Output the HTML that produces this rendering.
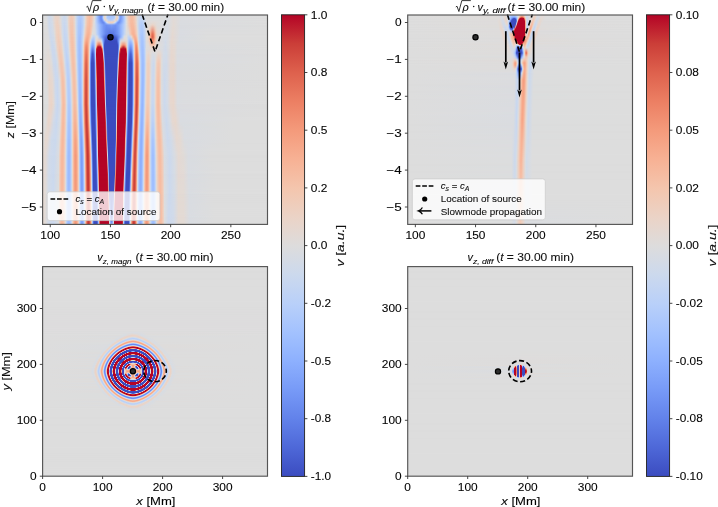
<!DOCTYPE html>
<html><head><meta charset="utf-8"><title>Slow-mode wave figure</title>
<style>
html,body{margin:0;padding:0;background:#fff;}
#fig{position:relative;width:718px;height:507px;overflow:hidden;background:#fff;}
.b{position:absolute;}
.b i{position:absolute;left:0;top:0;width:100%;height:100%;-webkit-mask-image:linear-gradient(transparent,#000);mask-image:linear-gradient(transparent,#000);}
#fig{--g0:linear-gradient(90deg,#ddd 0.5px,#d9dce1 3.5px,#cfdaea 6.5px,#dadce0 9.5px,#ead4c9 12.5px,#e8d6cb 15.5px,#d5dbe5 18.5px,#cdd9ed 21.5px,#d5dbe6 23.5px,#ddd 24.5px,#eed0c0 26.5px,#f2cbb7 28.5px,#edd1c2 30.5px,#e7d7ce 31.5px,#d8dce2 32.5px,#bed3f6 34.5px,#b1cbfc 36.5px,#b4cdfb 38.5px,#c6d6f2 40.5px,#d4dbe7 41.5px,#e6d8d0 42.5px,#f4c6af 44.5px,#f6bda3 46.5px,#f5c4ac 48.5px,#e9d5c9 50.5px,#ddd 51.5px,#d3dbe7 52.5px,#bad0f8 53.5px,#8db0fe 55.5px,#6b8df1 57.5px,#6789ee 58.5px,#7ea1fa 59.5px,#b4cdfa 60.5px,#dfdbd9 61.5px,#e2dad6 62.5px,#c8d7f0 63.5px,#acc8fd 64.5px,#a1c0ff 65.5px,#a1c0ff 69.5px,#a6c4fe 70.5px,#b6cefa 71.5px,#d4dbe6 72.5px,#ead4c9 73.5px,#e1dad6 74.5px,#b4cdfa 75.5px,#84a7fc 76.5px,#7598f6 77.5px,#7ea1fa 78.5px,#a5c3fe 80.5px,#bcd2f7 81.5px,#d6dce4 82.5px,#e1dbd7 83.5px,#f2cab6 85.5px,#f6bfa5 87.5px,#f6bea5 89.5px,#f2cab5 91.5px,#e2dad5 93.5px,#d8dce2 94.5px,#ccd9ed 98.5px,#d9dce1 102.5px,#dddcdc 107.5px,#dadce0 121.5px,#dbdcdf 126.5px,#e0dbd8 131.5px,#dadcdf 138.5px,#ddd 223.5px);
--g1:linear-gradient(90deg,#ddd 0.5px,#dbdcdf 3.5px,#ced9eb 6.5px,#d8dce2 9.5px,#ead4c8 12.5px,#ead4c9 15.5px,#d6dce4 18.5px,#cbd8ee 21.5px,#d3dbe7 23.5px,#dbdcde 24.5px,#efcfbe 26.5px,#f3c8b3 28.5px,#eecfbf 30.5px,#e8d6cc 31.5px,#d8dce1 32.5px,#bcd2f7 34.5px,#aec9fc 36.5px,#b1cbfb 38.5px,#c5d6f2 40.5px,#d3dbe7 41.5px,#e7d7cf 42.5px,#f4c5ae 44.5px,#f6bca1 46.5px,#f5c3ac 48.5px,#e9d5cb 50.5px,#ddd 51.5px,#b4cdfb 53.5px,#8caefd 55.5px,#6e90f2 57.5px,#6f92f3 58.5px,#90b3fe 59.5px,#cbd8ee 60.5px,#ead4c8 61.5px,#e2dad6 62.5px,#c3d5f3 63.5px,#aecafc 64.5px,#abc7fd 66.5px,#aec9fc 70.5px,#b6cefa 71.5px,#cfdaeb 72.5px,#ebd3c6 73.5px,#edd1c2 74.5px,#cad8ef 75.5px,#93b5fe 76.5px,#7b9ef8 77.5px,#7fa2fa 78.5px,#a1c0ff 80.5px,#b6cefa 81.5px,#cdd9ec 82.5px,#e0dbd9 83.5px,#f2cab6 85.5px,#f6bea4 87.5px,#f6bda3 89.5px,#f3c8b3 91.5px,#e4d9d2 93.5px,#d6dce4 94.5px,#c5d6f2 97.5px,#c9d8ef 100.5px,#ddd 103.5px,#dcddde 120.5px,#d9dce1 125.5px,#e1dad6 130.5px,#dadce0 138.5px,#ddd 223.5px);
--g2:linear-gradient(90deg,#ddd 0.5px,#ddd 3.5px,#d0daea 5.5px,#d1dae9 8.5px,#e7d7ce 11.5px,#ecd2c4 14.5px,#e1dbd7 17.5px,#cfdaea 19.5px,#cdd9ed 22.5px,#dbdcdf 24.5px,#e9d5cb 25.5px,#f2c9b4 27.5px,#f2c9b4 29.5px,#e9d5cb 31.5px,#d9dce1 32.5px,#c8d7f0 33.5px,#b1cbfb 35.5px,#abc7fd 37.5px,#b8cff9 39.5px,#d4dbe7 41.5px,#e7d7cd 42.5px,#f5c4ac 44.5px,#f7bba0 46.5px,#f5c3ac 48.5px,#e8d6cd 50.5px,#ddd 51.5px,#c8d7f0 52.5px,#a0bfff 54.5px,#7193f3 57.5px,#6a8cf0 58.5px,#779af7 59.5px,#a3c1ff 60.5px,#d7dce4 61.5px,#ecd3c5 62.5px,#e5d8d1 63.5px,#cfdaeb 64.5px,#bcd2f7 65.5px,#b1cbfb 67.5px,#b7cff9 69.5px,#c3d5f4 70.5px,#d7dce3 71.5px,#ecd3c5 72.5px,#eecfbf 73.5px,#d5dbe5 74.5px,#a2c1ff 75.5px,#7da1f9 76.5px,#779af7 77.5px,#90b3fe 79.5px,#b5cefa 81.5px,#cad8ef 82.5px,#dddcdc 83.5px,#ebd4c7 84.5px,#f5c3ab 86.5px,#f7bba0 88.5px,#f5c0a7 90.5px,#efcfbf 92.5px,#d6dce4 94.5px,#c0d4f5 97.5px,#c5d6f2 100.5px,#dddcdd 103.5px,#ddd 119.5px,#d7dce3 124.5px,#e2dad6 130.5px,#dadce0 138.5px,#ddd 223.5px);
--g3:linear-gradient(90deg,#ddd 0.5px,#ddd 3.5px,#cdd9ec 6.5px,#d6dce5 9.5px,#ebd4c7 12.5px,#edd1c2 14.5px,#e2dad5 17.5px,#cfdaea 19.5px,#c9d8ef 21.5px,#d1dae9 23.5px,#dadce0 24.5px,#e9d5cb 25.5px,#f3c8b2 27.5px,#f3c7b2 29.5px,#e9d5ca 31.5px,#d9dce1 32.5px,#c8d7f0 33.5px,#b0cafc 35.5px,#aac6fd 37.5px,#b7cff9 39.5px,#d4dbe6 41.5px,#e8d6cc 42.5px,#f5c2aa 44.5px,#f7ba9f 46.5px,#f5c4ac 48.5px,#ddd 51.5px,#c7d7f1 52.5px,#a4c2fe 54.5px,#789bf7 57.5px,#6789ee 59.5px,#6e90f2 60.5px,#88abfd 61.5px,#b3cdfb 62.5px,#d8dce2 63.5px,#ead5c9 64.5px,#edd1c2 65.5px,#ebd4c7 68.5px,#eecfbf 70.5px,#ead4c8 71.5px,#d7dce3 72.5px,#b1cbfb 73.5px,#89acfd 74.5px,#7497f5 75.5px,#7294f4 76.5px,#87aafc 78.5px,#a6c4fe 80.5px,#c9d8ef 82.5px,#ddd 83.5px,#f1ccb9 85.5px,#f6bda3 87.5px,#f7bba0 89.5px,#f4c6af 91.5px,#e7d7ce 93.5px,#d6dce4 94.5px,#c1d4f5 96.5px,#b9d0f9 98.5px,#c0d4f5 100.5px,#dddcdc 103.5px,#e2dad6 110.5px,#d8dce2 121.5px,#d9dce1 125.5px,#e2dad5 130.5px,#dadce0 137.5px,#ddd 223.5px);
--g4:linear-gradient(90deg,#ddd 0.5px,#ddd 3.5px,#cdd9ec 6.5px,#d5dbe5 9.5px,#ebd4c7 12.5px,#edd1c2 14.5px,#e2dad5 17.5px,#cfdaea 19.5px,#c9d8ef 21.5px,#d1dae9 23.5px,#dadce0 24.5px,#e9d5cb 25.5px,#f3c7b2 27.5px,#f3c7b1 29.5px,#e9d5c9 31.5px,#d9dce1 32.5px,#c8d7f0 33.5px,#afcafc 35.5px,#a9c6fd 37.5px,#b7cff9 39.5px,#d4dbe6 41.5px,#e8d6cb 42.5px,#f5c2aa 44.5px,#f7ba9f 46.5px,#f5c4ac 48.5px,#e5d8d0 50.5px,#dcdddd 51.5px,#c8d7f0 52.5px,#a6c4fe 54.5px,#7b9ff9 57.5px,#698bef 59.5px,#6a8bef 60.5px,#799cf8 61.5px,#9abbff 62.5px,#c1d4f5 63.5px,#dcdddd 64.5px,#e9d5c9 65.5px,#eecfbf 67.5px,#eed0c0 69.5px,#ead5c9 70.5px,#dbdcdf 71.5px,#bed3f6 72.5px,#99baff 73.5px,#7c9ff9 74.5px,#7194f4 75.5px,#7497f5 76.5px,#98b9ff 79.5px,#b8d0f9 81.5px,#cad8ef 82.5px,#ddd 83.5px,#f1ccb9 85.5px,#f6bda3 87.5px,#f7bb9f 89.5px,#f4c5ae 91.5px,#e7d7ce 93.5px,#d6dce4 94.5px,#c0d4f5 96.5px,#b8cff9 98.5px,#bfd3f5 100.5px,#dddcdc 103.5px,#e3dad4 110.5px,#ddd 117.5px,#d7dce3 124.5px,#e2dad5 130.5px,#dadce0 137.5px,#ddd 223.5px);
--g5:linear-gradient(90deg,#ddd 0.5px,#ddd 3.5px,#cdd9ec 6.5px,#d5dbe5 9.5px,#ebd4c7 12.5px,#edd1c2 14.5px,#e3dad4 17.5px,#cfdaea 19.5px,#c9d7f0 21.5px,#d1dae9 23.5px,#d9dce0 24.5px,#e9d6cb 25.5px,#f3c7b2 27.5px,#f3c7b1 29.5px,#ead5c9 31.5px,#d9dce1 32.5px,#c7d7f0 33.5px,#afcafc 35.5px,#a9c6fd 37.5px,#b7cffa 39.5px,#d5dbe6 41.5px,#e9d5cb 42.5px,#f5c2a9 44.5px,#f7ba9e 46.5px,#f5c4ac 48.5px,#e5d8d1 50.5px,#dcdcde 51.5px,#c8d7f0 52.5px,#a8c5fe 54.5px,#80a3fa 57.5px,#6c8ff1 59.5px,#698bef 60.5px,#7092f3 61.5px,#84a7fc 62.5px,#a4c3fe 63.5px,#c4d5f3 64.5px,#d9dce1 65.5px,#e4d9d3 66.5px,#e8d6cc 68.5px,#e4d9d3 69.5px,#d8dce2 70.5px,#c2d5f4 71.5px,#a3c1ff 72.5px,#85a8fc 73.5px,#7497f5 74.5px,#7194f4 75.5px,#81a5fb 77.5px,#aac7fd 80.5px,#cad8ef 82.5px,#ddd 83.5px,#f1ccba 85.5px,#f6bda3 87.5px,#f7ba9f 89.5px,#f4c5ae 91.5px,#e7d7cd 93.5px,#d6dce4 94.5px,#bfd3f5 96.5px,#b7cffa 98.5px,#bed3f6 100.5px,#dddcdc 103.5px,#e4d9d3 110.5px,#dddcdd 116.5px,#d8dce2 121.5px,#d9dce1 125.5px,#e2dad5 130.5px,#dadce0 137.5px,#ddd 223.5px);
--g6:linear-gradient(90deg,#ddd 0.5px,#ddd 3.5px,#cdd9ec 6.5px,#d4dbe7 9.5px,#e5d8d1 11.5px,#edd1c2 13.5px,#edd2c3 15.5px,#e4d9d3 17.5px,#d0daea 19.5px,#c8d7f0 21.5px,#d0daea 23.5px,#d9dce1 24.5px,#e8d6cc 25.5px,#f3c7b1 27.5px,#f4c6b0 29.5px,#ead4c8 31.5px,#dadce0 32.5px,#c7d7f1 33.5px,#aec9fc 35.5px,#a8c5fe 37.5px,#b6cefa 39.5px,#c4d6f3 40.5px,#d5dce5 41.5px,#ead5c9 42.5px,#f6c0a7 44.5px,#f7b99d 46.5px,#f4c5ad 48.5px,#efcfbe 49.5px,#e2dad6 50.5px,#dbdcdf 51.5px,#bed2f6 53.5px,#99baff 56.5px,#7699f6 60.5px,#6c8ef1 63.5px,#7a9df8 68.5px,#7092f3 72.5px,#7ea2fa 75.5px,#a6c4fe 79.5px,#cdd9ed 82.5px,#ddd 83.5px,#f4c4ad 86.5px,#f7b99e 88.5px,#f6bca2 90.5px,#f1ccb9 92.5px,#e9d5cb 93.5px,#d7dce3 94.5px,#bdd2f7 96.5px,#b3ccfb 98.5px,#bbd1f8 100.5px,#dddcdc 103.5px,#e2dad5 106.5px,#ebd3c6 109.5px,#dedcdb 114.5px,#dadce0 120.5px,#d7dce3 124.5px,#e3dad4 130.5px,#d9dce0 137.5px,#ddd 223.5px);
--g7:linear-gradient(90deg,#dddcdc 0.5px,#dddcdc 4.5px,#ccd9ed 7.5px,#d4dbe6 10.5px,#dddcdc 11.5px,#edd2c3 13.5px,#f0cebc 15.5px,#ead5c9 17.5px,#d4dbe7 19.5px,#c5d6f2 21.5px,#cad8ef 23.5px,#d3dbe7 24.5px,#e3d9d4 25.5px,#f3c7b2 27.5px,#f5c3ab 28.5px,#f5c4ac 29.5px,#ecd2c4 31.5px,#dedcda 32.5px,#c7d7f1 33.5px,#aac7fd 35.5px,#a5c3fe 37.5px,#bbd1f8 39.5px,#ced9ec 40.5px,#e7d7ce 41.5px,#f2c9b4 42.5px,#f6bca2 43.5px,#f7b497 44.5px,#f7b295 45.5px,#f7b79b 46.5px,#f5c2aa 47.5px,#eed0c0 48.5px,#dcdddd 49.5px,#dbdcde 51.5px,#d4dbe6 52.5px,#b6cefa 54.5px,#90b2fe 57.5px,#6586ec 62.5px,#5775e1 66.5px,#5c7ae5 70.5px,#7294f4 74.5px,#9abbff 78.5px,#c3d5f3 81.5px,#ddd 83.5px,#dbdcde 85.5px,#f3c8b3 87.5px,#f6bca2 88.5px,#f7b497 89.5px,#f7b295 90.5px,#f7b69a 91.5px,#f1ccba 93.5px,#e3dad4 94.5px,#ccd9ee 95.5px,#b0cbfc 97.5px,#abc8fd 99.5px,#c0d3f5 101.5px,#dedcdb 103.5px,#e2dad6 104.5px,#ead5c9 105.5px,#f4c6b0 106.5px,#f7a98a 107.5px,#ee8467 108.5px,#e57058 109.5px,#eb7e62 110.5px,#f6a183 111.5px,#f5c1a9 112.5px,#ecd3c5 113.5px,#e3d9d4 114.5px,#dddcdc 117.5px,#d8dce2 120.5px,#d6dce4 124.5px,#e4d9d2 129.5px,#d9dce1 137.5px,#ddd 163.5px,#ddd 223.5px);
--g8:linear-gradient(90deg,#dddcdc 0.5px,#dbdcdf 5.5px,#cdd9ec 7.5px,#d1dae9 10.5px,#d9dce1 11.5px,#ecd2c4 13.5px,#f0cdbb 15.5px,#ecd3c5 17.5px,#e5d9d2 18.5px,#d6dce4 19.5px,#c5d6f2 21.5px,#c8d7f0 23.5px,#d1dae9 24.5px,#e0dbd8 25.5px,#edd1c2 26.5px,#f3c8b3 27.5px,#f5c3ab 28.5px,#f5c3ab 29.5px,#f3c8b3 30.5px,#edd1c2 31.5px,#e0dbd8 32.5px,#c7d7f1 33.5px,#a9c6fe 35.5px,#a3c2fe 36.5px,#a5c3fe 37.5px,#bfd3f6 39.5px,#d4dbe7 40.5px,#edd1c3 41.5px,#f5c1a8 42.5px,#f7b497 43.5px,#f7ae91 44.5px,#f7b194 45.5px,#f6bda2 46.5px,#f1cdba 47.5px,#dcddde 48.5px,#c9d8ef 49.5px,#c1d4f4 50.5px,#c6d6f2 51.5px,#d5dbe5 52.5px,#ddd 53.5px,#d6dce4 54.5px,#bed3f6 55.5px,#94b6ff 57.5px,#6484eb 60.5px,#465dcf 63.5px,#3b4dc1 65.5px,#3c4fc3 70.5px,#516ddb 73.5px,#789bf7 76.5px,#9cbcff 78.5px,#b0cbfc 79.5px,#c7d7f1 80.5px,#ddd 81.5px,#ddd 83.5px,#c4d5f3 85.5px,#c2d5f4 86.5px,#cbd9ee 87.5px,#e1dad6 88.5px,#f3c7b1 89.5px,#f7b69a 90.5px,#f7ae91 91.5px,#f7b296 92.5px,#f5c1a9 93.5px,#ead4c9 94.5px,#cfdaeb 95.5px,#b0cafc 97.5px,#a9c6fd 98.5px,#a9c6fd 99.5px,#bed3f6 101.5px,#dedcdb 103.5px,#e2dad5 104.5px,#ebd4c7 105.5px,#f5c3ab 106.5px,#f6a283 107.5px,#e9785e 108.5px,#de614d 109.5px,#e67158 110.5px,#f49a7b 111.5px,#f6bea4 112.5px,#edd2c3 113.5px,#e4d9d3 114.5px,#dddcdc 116.5px,#d7dce3 120.5px,#d6dce4 124.5px,#e5d8d1 129.5px,#d9dce1 136.5px,#ddd 167.5px,#ddd 223.5px);
--g9:linear-gradient(90deg,#dedcdb 0.5px,#dddcdc 5.5px,#cbd9ee 8.5px,#d5dbe5 11.5px,#ead4c8 13.5px,#f1ccb9 15.5px,#eed0c0 17.5px,#e8d6cc 18.5px,#dbdcde 19.5px,#ced9ec 20.5px,#c2d5f4 22.5px,#cdd9ec 24.5px,#dadcdf 25.5px,#ecd3c6 26.5px,#f2c9b5 27.5px,#f5c3ab 28.5px,#f5c2aa 29.5px,#f3c7b1 30.5px,#eed0bf 31.5px,#e2dad5 32.5px,#c8d7f0 33.5px,#a7c4fe 35.5px,#a2c1ff 36.5px,#a5c3fe 37.5px,#c4d5f3 39.5px,#dedcda 40.5px,#f4c6af 41.5px,#f7b194 42.5px,#f6a586 43.5px,#f7a688 44.5px,#f7b498 45.5px,#f2cab6 46.5px,#d5dbe5 47.5px,#b6cefa 48.5px,#a4c2fe 49.5px,#a3c2fe 50.5px,#b3ccfb 51.5px,#d0daea 52.5px,#e7d7ce 53.5px,#edd1c1 54.5px,#efcebd 55.5px,#eed1c1 56.5px,#e7d7cd 57.5px,#ccd9ed 58.5px,#9bbcff 59.5px,#7194f4 60.5px,#4f6ad9 61.5px,#3b4cc0 62.5px,#3b4cc0 73.5px,#516ddb 74.5px,#7497f5 75.5px,#9fbfff 76.5px,#d1dae9 77.5px,#e3dad4 78.5px,#e9d5cb 81.5px,#e2dad5 83.5px,#d1dae9 84.5px,#b6cefa 85.5px,#a5c3fe 86.5px,#a1c0ff 87.5px,#abc7fd 88.5px,#c1d4f4 89.5px,#e6d7cf 90.5px,#f7b89d 91.5px,#f6a586 92.5px,#f7ab8d 93.5px,#f4c6b0 94.5px,#d5dbe6 95.5px,#c0d3f5 96.5px,#a7c5fe 98.5px,#a6c4fe 99.5px,#adc9fd 100.5px,#bcd1f7 101.5px,#dedcdb 103.5px,#e8d6cd 105.5px,#f1cbb8 106.5px,#f7b699 107.5px,#f49b7c 108.5px,#f08c6e 109.5px,#f39677 110.5px,#f7b093 111.5px,#f3c8b2 112.5px,#e9d5c9 113.5px,#e2dad6 114.5px,#d3dbe8 122.5px,#dadce0 125.5px,#e5d9d2 128.5px,#e0dbd7 132.5px,#d9dce1 136.5px,#ddd 161.5px,#ddd 223.5px);
--g10:linear-gradient(90deg,#dddcdc 0.5px,#dedcdb 5.5px,#cad8ee 9.5px,#d1dae9 11.5px,#d9dce1 12.5px,#eed0c1 14.5px,#f2cbb7 16.5px,#ebd3c6 18.5px,#e2dad6 19.5px,#d1dae9 20.5px,#c1d4f4 22.5px,#cad8ef 24.5px,#d6dce4 25.5px,#e9d5cb 26.5px,#f1cbb8 27.5px,#f5c4ac 28.5px,#f5c1a9 29.5px,#f4c5af 30.5px,#efcebd 31.5px,#e4d9d2 32.5px,#c9d8ef 33.5px,#b4cdfa 34.5px,#a6c4fe 35.5px,#a1c0ff 36.5px,#a5c3fe 37.5px,#b2ccfb 38.5px,#c6d7f1 39.5px,#e7d7cd 40.5px,#f7b79b 41.5px,#f59c7d 42.5px,#f29072 43.5px,#f49a7b 44.5px,#f7b599 45.5px,#ead5c9 46.5px,#b8cff9 47.5px,#94b6ff 48.5px,#84a7fc 49.5px,#88abfd 50.5px,#a2c1ff 51.5px,#ccd9ee 52.5px,#f6bea5 53.5px,#f19072 54.5px,#e57158 55.5px,#e46e56 56.5px,#f08a6c 57.5px,#f7b89c 58.5px,#cad8ee 59.5px,#7295f4 60.5px,#3b4cc0 61.5px,#3b4cc0 74.5px,#5e7ee7 75.5px,#b1cbfc 76.5px,#f0cdbb 77.5px,#f7b194 78.5px,#f49a7c 79.5px,#f29173 80.5px,#f4997a 81.5px,#f7ae90 82.5px,#f2cab6 83.5px,#cdd9ed 84.5px,#a6c4fe 85.5px,#8daffe 86.5px,#83a6fb 87.5px,#89acfd 88.5px,#a0bfff 89.5px,#c4d6f3 90.5px,#f3c7b2 91.5px,#f59d7e 92.5px,#f29273 93.5px,#f7ae91 94.5px,#e0dbd8 95.5px,#c4d5f3 96.5px,#b2ccfb 97.5px,#a7c4fe 98.5px,#a4c3fe 99.5px,#abc7fd 100.5px,#b9d0f8 101.5px,#dddcdc 103.5px,#e2dad5 105.5px,#f4c5af 108.5px,#f5c1a8 109.5px,#f5c4ac 110.5px,#e3d9d3 113.5px,#dddcdc 116.5px,#dadce0 119.5px,#d2dbe8 122.5px,#dadce0 125.5px,#e5d8d1 128.5px,#e4d9d3 131.5px,#dadcdf 134.5px,#ddd 223.5px);
--g11:linear-gradient(90deg,#dddcdc 0.5px,#dfdcda 5.5px,#dddcdc 6.5px,#ced9ec 8.5px,#cbd8ee 10.5px,#d7dce3 12.5px,#edd1c3 14.5px,#f2cab6 16.5px,#edd1c3 18.5px,#e5d9d2 19.5px,#d3dbe7 20.5px,#c1d4f5 22.5px,#c8d7f0 24.5px,#d4dbe6 25.5px,#e7d7ce 26.5px,#f1ccb9 27.5px,#f5c4ad 28.5px,#f5c1a9 29.5px,#f4c5ae 30.5px,#f0cdbb 31.5px,#e5d8d1 32.5px,#cad8ef 33.5px,#b4cdfa 34.5px,#a6c4fe 35.5px,#a0c0ff 36.5px,#a5c3fe 37.5px,#b2ccfb 38.5px,#c7d7f1 39.5px,#e9d5ca 40.5px,#f7b295 41.5px,#f29375 42.5px,#ef886a 43.5px,#f39475 44.5px,#f7b396 45.5px,#e8d6cc 46.5px,#aecafc 47.5px,#86a9fc 48.5px,#7497f5 49.5px,#7a9df8 50.5px,#97b9ff 51.5px,#c8d7f0 52.5px,#f49a7b 53.5px,#be222d 54.5px,#b40426 55.5px,#b40426 57.5px,#e16852 58.5px,#edd2c3 59.5px,#7a9df8 60.5px,#3b4cc0 61.5px,#3b4cc0 74.5px,#5c7be5 75.5px,#c4d5f3 76.5px,#f7b194 77.5px,#e7755b 78.5px,#d0463d 79.5px,#c73535 80.5px,#d24b40 81.5px,#ea7c61 82.5px,#f7b99d 83.5px,#cad8ef 84.5px,#9dbdff 85.5px,#80a3fa 86.5px,#7597f6 87.5px,#7c9ff9 88.5px,#96b7ff 89.5px,#c0d3f5 90.5px,#f3c7b1 91.5px,#f49879 92.5px,#ef886b 93.5px,#f6a485 94.5px,#ead4c8 95.5px,#c7d7f1 96.5px,#b3ccfb 97.5px,#a6c4fe 98.5px,#a3c2fe 99.5px,#a9c6fd 100.5px,#b8d0f9 101.5px,#dddcdc 103.5px,#e4d9d2 106.5px,#efcfbe 109.5px,#ead4c8 111.5px,#dedcdb 114.5px,#d9dce1 119.5px,#d1dae8 122.5px,#dadce0 125.5px,#e5d8d0 128.5px,#e4d9d3 131.5px,#dadcdf 134.5px,#ddd 223.5px);
--g12:linear-gradient(90deg,#ddd 0.5px,#dfdbd9 5.5px,#d6dce4 7.5px,#cbd8ee 9.5px,#ced9ec 11.5px,#d4dbe6 12.5px,#ecd3c5 14.5px,#f2c9b5 16.5px,#eed0c0 18.5px,#e7d7ce 19.5px,#d6dce4 20.5px,#c1d4f5 22.5px,#c6d6f2 24.5px,#d1dae9 25.5px,#e5d8d1 26.5px,#f0cdbb 27.5px,#f4c5ad 28.5px,#f5c1a8 29.5px,#f4c4ad 30.5px,#f1cdba 31.5px,#e6d8cf 32.5px,#cbd9ee 33.5px,#b5cefa 34.5px,#a6c4fe 35.5px,#a0bfff 36.5px,#a4c3fe 37.5px,#b2ccfb 38.5px,#c7d7f1 39.5px,#ebd4c7 40.5px,#f7ad90 41.5px,#f18d6f 42.5px,#ed8265 43.5px,#f29072 44.5px,#f7b295 45.5px,#e6d7cf 46.5px,#a4c2fe 47.5px,#779af7 48.5px,#6484eb 49.5px,#6b8df0 50.5px,#8caffe 51.5px,#c5d6f2 52.5px,#c53334 53.5px,#b40426 54.5px,#b40426 58.5px,#f08a6c 59.5px,#88abfd 60.5px,#3b4cc0 61.5px,#3b4cc0 74.5px,#6181e9 75.5px,#e5d8d1 76.5px,#ca3c38 77.5px,#b40426 78.5px,#b40426 82.5px,#eb7d62 83.5px,#c7d7f1 84.5px,#94b6ff 85.5px,#7396f5 86.5px,#6788ee 87.5px,#6f91f3 88.5px,#8caefd 89.5px,#bbd1f8 90.5px,#f3c7b1 91.5px,#f39677 92.5px,#ed8266 93.5px,#f49b7c 94.5px,#f0cdba 95.5px,#cad8ef 96.5px,#b4cdfa 97.5px,#a7c4fe 98.5px,#a2c1ff 99.5px,#a8c5fe 100.5px,#b7cff9 101.5px,#ced9ec 102.5px,#dedcdb 103.5px,#e6d7cf 110.5px,#dddcdc 115.5px,#d9dce1 119.5px,#d1dae9 122.5px,#dadcdf 125.5px,#e6d8d0 128.5px,#e4d9d3 131.5px,#dadcdf 134.5px,#ddd 223.5px);
--g13:linear-gradient(90deg,#ddd 0.5px,#e1dad6 5.5px,#dddcdc 7.5px,#cdd9ed 9.5px,#cbd8ee 11.5px,#d7dce2 13.5px,#efcfbe 15.5px,#f2c9b5 16.5px,#f3c8b3 17.5px,#f1ccb8 18.5px,#ecd3c5 19.5px,#e0dbd9 20.5px,#cdd9ec 21.5px,#bed3f6 23.5px,#ccd9ed 25.5px,#dddcdc 26.5px,#eed1c1 27.5px,#f4c6b0 28.5px,#f5c1a8 29.5px,#f5c3ab 30.5px,#f2cab6 31.5px,#e9d6cb 32.5px,#cedaeb 33.5px,#b6cefa 34.5px,#a6c4fe 35.5px,#9fbfff 36.5px,#a3c2fe 37.5px,#b1cbfb 38.5px,#c8d7f0 39.5px,#eed0c0 40.5px,#f6a485 41.5px,#ec8064 42.5px,#e8755c 43.5px,#ef886b 44.5px,#f7b093 45.5px,#e1dad7 46.5px,#8aadfd 47.5px,#5571df 48.5px,#4055c8 49.5px,#4962d3 50.5px,#7194f4 51.5px,#bbd1f8 52.5px,#b40426 53.5px,#b40426 59.5px,#ccd9ed 60.5px,#4c65d5 61.5px,#3b4cc0 62.5px,#3b4cc0 74.5px,#92b4fe 75.5px,#d65143 76.5px,#b40426 77.5px,#b40426 82.5px,#ba162b 83.5px,#bed3f6 84.5px,#7ea2fa 85.5px,#5775e1 86.5px,#4962d2 87.5px,#526edc 88.5px,#7497f5 89.5px,#afcafc 90.5px,#f3c7b1 91.5px,#f29173 92.5px,#e8765c 93.5px,#ee8669 94.5px,#f7b99d 95.5px,#d2dbe8 96.5px,#b9d0f9 97.5px,#a7c5fe 98.5px,#a1c0ff 99.5px,#a5c3fe 100.5px,#b5cdfa 101.5px,#ccd9ed 102.5px,#e1dad7 103.5px,#e8d6cd 105.5px,#e2dad5 107.5px,#d8dce2 109.5px,#dbdcde 112.5px,#e8d6cc 115.5px,#e5d8d1 117.5px,#d4dbe7 120.5px,#d2dbe8 123.5px,#e6d7cf 128.5px,#e4d9d2 131.5px,#dadce0 134.5px,#ddd 223.5px);
--g14:linear-gradient(90deg,#ddd 0.5px,#e4d9d3 6.5px,#dedcdb 8.5px,#cdd9ec 10.5px,#cad8ef 12.5px,#d6dce4 14.5px,#f0cebc 16.5px,#f3c7b1 17.5px,#f4c5af 18.5px,#f2cab6 19.5px,#ecd3c5 20.5px,#dbdcdf 21.5px,#c9d8f0 22.5px,#bed3f6 23.5px,#bbd1f7 24.5px,#c2d4f4 25.5px,#cfdaea 26.5px,#e6d8d0 27.5px,#f1cbb8 28.5px,#f5c2aa 29.5px,#f5c0a8 30.5px,#f4c6b0 31.5px,#edd2c3 32.5px,#d6dce4 33.5px,#bad1f8 34.5px,#a6c4fe 35.5px,#9ebeff 36.5px,#a1c0ff 37.5px,#b0cbfc 38.5px,#c9d8ef 39.5px,#f2c9b5 40.5px,#f39576 41.5px,#e36c55 42.5px,#df634e 43.5px,#eb7d61 44.5px,#f7ae90 45.5px,#d4dbe7 46.5px,#6a8cf0 47.5px,#3b4cc0 48.5px,#3b4cc0 50.5px,#506bda 51.5px,#a8c5fe 52.5px,#c73535 53.5px,#b40426 54.5px,#b40426 59.5px,#cc3f39 60.5px,#93b5fe 61.5px,#3b4cc0 62.5px,#3b4cc0 73.5px,#5a79e4 74.5px,#f5c3ab 75.5px,#b40426 76.5px,#b40426 82.5px,#d24a3f 83.5px,#acc8fd 84.5px,#5b7ae4 85.5px,#3b4cc0 86.5px,#3b4cc0 88.5px,#526edc 89.5px,#9dbdff 90.5px,#f3c7b2 91.5px,#f08c6e 92.5px,#e06650 93.5px,#e36b54 94.5px,#f4997a 95.5px,#ead4c8 96.5px,#c1d4f5 97.5px,#aac6fd 98.5px,#9ebeff 99.5px,#a1c0ff 100.5px,#b0cbfc 101.5px,#cbd8ee 102.5px,#e5d8d1 103.5px,#ecd2c4 104.5px,#eed0bf 105.5px,#ecd3c5 106.5px,#d5dbe5 108.5px,#ccd9ed 110.5px,#d1dae9 111.5px,#dddcdc 112.5px,#ebd3c6 113.5px,#f1ccb9 114.5px,#f2c9b4 115.5px,#f1cbb8 116.5px,#ecd3c5 117.5px,#dfdcda 118.5px,#d2dbe8 120.5px,#d1dae9 123.5px,#e5d8d1 127.5px,#e7d7ce 130.5px,#dadce0 134.5px,#ddd 223.5px);
--g15:linear-gradient(90deg,#ddd 0.5px,#ddd 3.5px,#e8d6cb 6.5px,#e4d9d3 9.5px,#cbd9ee 12.5px,#cad8ef 14.5px,#d8dce2 16.5px,#ead4c8 17.5px,#f3c8b2 18.5px,#f5c1a8 19.5px,#f5c3ab 20.5px,#f1ccba 21.5px,#e4d9d3 22.5px,#cbd8ee 23.5px,#bbd1f7 24.5px,#b6cefa 25.5px,#bcd1f7 26.5px,#cbd9ee 27.5px,#e5d8d1 28.5px,#f2cbb7 29.5px,#f5c1a8 30.5px,#f5c0a7 31.5px,#f2c9b4 32.5px,#e7d6cd 33.5px,#c6d6f1 34.5px,#abc7fd 35.5px,#9cbcff 36.5px,#9dbdff 37.5px,#aec9fd 38.5px,#cbd8ee 39.5px,#f6bfa6 40.5px,#ed8366 41.5px,#d95847 42.5px,#d65143 43.5px,#e7735a 44.5px,#f7ad90 45.5px,#c8d7f0 46.5px,#6687ed 47.5px,#3b4cc0 48.5px,#3b4cc0 50.5px,#445acc 51.5px,#8fb1fe 52.5px,#f39475 53.5px,#b40426 54.5px,#b40426 60.5px,#f6a385 61.5px,#5f7ee8 62.5px,#3b4cc0 63.5px,#3b4cc0 73.5px,#d1dae9 74.5px,#b40426 75.5px,#b40426 82.5px,#ec8064 83.5px,#9cbcff 84.5px,#4e68d8 85.5px,#3b4cc0 86.5px,#3b4cc0 88.5px,#4d68d7 89.5px,#9bbcff 90.5px,#f4c4ad 91.5px,#ec8064 92.5px,#d75344 93.5px,#d95747 94.5px,#f08a6d 95.5px,#efcebd 96.5px,#c0d4f5 97.5px,#a6c4fe 98.5px,#9abbff 99.5px,#9ebeff 100.5px,#b2ccfb 101.5px,#d2dae8 102.5px,#e8d6cb 103.5px,#efcfbe 104.5px,#f0cdbc 105.5px,#ecd2c4 106.5px,#e2dad6 107.5px,#d2dbe8 108.5px,#cbd8ee 109.5px,#cbd8ee 110.5px,#d3dbe7 111.5px,#e6d8d0 112.5px,#f1ccb9 113.5px,#f5c3ab 114.5px,#f5c1a8 115.5px,#f3c7b0 116.5px,#edd2c3 117.5px,#dbdcde 118.5px,#cdd9ec 121.5px,#d5dbe5 124.5px,#e6d7cf 127.5px,#e7d6cd 130.5px,#dadce0 134.5px,#dbdcde 140.5px,#ddd 223.5px);
--g16:linear-gradient(90deg,#ddd 0.5px,#ddd 4.5px,#e9d5cb 6.5px,#ebd4c7 8.5px,#e4d9d2 10.5px,#d1dae9 12.5px,#c8d7f0 14.5px,#d0daea 16.5px,#d9dce1 17.5px,#edd1c2 18.5px,#f5c3ab 19.5px,#f6bda2 20.5px,#f5c1a9 21.5px,#efcebd 22.5px,#d8dce1 23.5px,#c0d4f5 24.5px,#b1cbfb 25.5px,#afcafc 26.5px,#bad0f8 27.5px,#cfdaea 28.5px,#ebd3c7 29.5px,#f4c5ae 30.5px,#f6bca2 31.5px,#f6bfa6 32.5px,#f1cbb7 33.5px,#e1dbd7 34.5px,#b6cefa 35.5px,#9bbbff 36.5px,#95b7ff 37.5px,#a5c3fe 38.5px,#c8d7f0 39.5px,#f7bba1 40.5px,#ea7a60 41.5px,#d34d40 42.5px,#d0473d 43.5px,#e46d55 44.5px,#f7ac8e 45.5px,#c7d7f1 46.5px,#6c8ef1 47.5px,#3b4cc0 48.5px,#3b4cc0 51.5px,#6585ec 52.5px,#bcd2f7 53.5px,#b40426 54.5px,#b40426 61.5px,#cdd9ec 62.5px,#3b4cc0 63.5px,#3b4cc0 72.5px,#9cbcff 73.5px,#c83836 74.5px,#b40426 75.5px,#b40426 82.5px,#f4c5ae 83.5px,#84a7fc 84.5px,#4156c9 85.5px,#3b4cc0 86.5px,#3b4cc0 88.5px,#5774e1 89.5px,#a9c6fd 90.5px,#f7b99d 91.5px,#e56f57 92.5px,#d0463d 93.5px,#da5948 94.5px,#f49b7c 95.5px,#d8dce1 96.5px,#b3ccfb 97.5px,#9bbcff 98.5px,#95b7ff 99.5px,#a2c1ff 100.5px,#bfd3f6 101.5px,#e3d9d4 102.5px,#eecfbf 103.5px,#f2cab5 104.5px,#f1cbb7 105.5px,#ecd3c5 106.5px,#dbdcde 107.5px,#cdd9ec 108.5px,#c7d7f1 109.5px,#c9d8ef 110.5px,#d4dbe6 111.5px,#e9d6cb 112.5px,#f3c8b3 113.5px,#f6bfa6 114.5px,#f6bda3 115.5px,#f4c4ad 116.5px,#edd1c2 117.5px,#dbdcdf 118.5px,#cdd9ed 121.5px,#d4dbe6 124.5px,#e6d7cf 127.5px,#e8d6cc 130.5px,#dadce0 134.5px,#dbdcdf 140.5px,#ddd 223.5px);
--g17:linear-gradient(90deg,#ddd 0.5px,#ddd 2.5px,#e9d5ca 5.5px,#e7d7ce 7.5px,#d2dae8 10.5px,#c9d8ef 13.5px,#d6dce4 16.5px,#e5d8d1 17.5px,#f2c9b4 18.5px,#f6bda3 19.5px,#f7bba0 20.5px,#f5c3ab 21.5px,#edd1c2 22.5px,#d2dbe8 23.5px,#b9d0f9 24.5px,#a9c6fd 25.5px,#a7c5fe 26.5px,#b3ccfb 27.5px,#cad8ef 28.5px,#ead4c8 29.5px,#f5c1a9 30.5px,#f7b497 31.5px,#f7b396 32.5px,#f6bea4 33.5px,#eed0c1 34.5px,#c8d7f0 35.5px,#9fbeff 36.5px,#8caefe 37.5px,#93b5fe 38.5px,#b3ccfb 39.5px,#ebd3c6 40.5px,#f29274 41.5px,#d95747 42.5px,#cb3d38 43.5px,#d65244 44.5px,#f08b6d 45.5px,#f0cdbb 46.5px,#90b3fe 47.5px,#4860d1 48.5px,#3b4cc0 49.5px,#3b4cc0 51.5px,#506bda 52.5px,#9ebeff 53.5px,#e9795e 54.5px,#b40426 55.5px,#b40426 61.5px,#c73635 62.5px,#8caffe 63.5px,#3b4cc0 64.5px,#3b4cc0 72.5px,#e0dbd8 73.5px,#b40426 74.5px,#b40426 81.5px,#c0282f 82.5px,#bcd2f7 83.5px,#6384eb 84.5px,#3b4cc0 85.5px,#3b4cc0 88.5px,#779af7 89.5px,#dadcdf 90.5px,#f39576 91.5px,#d85545 92.5px,#d1483e 93.5px,#e8775d 94.5px,#f5c3ab 95.5px,#c2d5f4 96.5px,#a2c1ff 97.5px,#93b5fe 98.5px,#96b7ff 99.5px,#abc7fd 100.5px,#ced9eb 101.5px,#eed1c1 102.5px,#f5c2a9 103.5px,#f7bca1 104.5px,#f5c2a9 105.5px,#eed0c1 106.5px,#d5dbe5 107.5px,#c3d5f3 108.5px,#bbd1f8 109.5px,#bed2f6 110.5px,#ccd9ee 111.5px,#e4d9d3 112.5px,#f1cdba 113.5px,#f5c2aa 114.5px,#f6bda3 115.5px,#f6c0a7 116.5px,#f2c9b4 117.5px,#d9dce1 119.5px,#ccd9ed 123.5px,#d5dce5 126.5px,#e5d8d1 129.5px,#e7d7cd 132.5px,#d9dce1 137.5px,#ddd 191.5px,#ddd 223.5px);
--g18:linear-gradient(90deg,#ddd 0.5px,#e6d8d0 2.5px,#e5d9d2 4.5px,#cfdaeb 8.5px,#cbd9ee 12.5px,#d6dce4 15.5px,#dfdbd9 16.5px,#f1cdba 17.5px,#f6c0a6 18.5px,#f7b99e 19.5px,#f6bca2 20.5px,#f3c7b1 21.5px,#e8d6cb 22.5px,#c9d8ef 23.5px,#b0cafc 24.5px,#a1c1ff 25.5px,#a1c0ff 26.5px,#aec9fc 27.5px,#c6d6f1 28.5px,#ead5c9 29.5px,#f6bda2 30.5px,#f7aa8b 31.5px,#f6a485 32.5px,#f7ad90 33.5px,#f5c2aa 34.5px,#e2dad5 35.5px,#abc7fd 36.5px,#89acfd 37.5px,#82a5fb 38.5px,#96b7ff 39.5px,#c2d4f4 40.5px,#f6bca1 41.5px,#e9785e 42.5px,#cf453c 43.5px,#c93a37 44.5px,#dc5e4b 45.5px,#f59d7f 46.5px,#dedcdb 47.5px,#7395f5 48.5px,#3b4cc0 49.5px,#3c4fc3 52.5px,#81a5fb 53.5px,#f6bca2 54.5px,#b40426 55.5px,#b40426 62.5px,#f29173 63.5px,#4e68d8 64.5px,#3b4cc0 65.5px,#3b4cc0 71.5px,#4054c7 72.5px,#f7a688 73.5px,#b40426 74.5px,#b40426 81.5px,#f7b497 82.5px,#88abfd 83.5px,#4257ca 84.5px,#3b4cc0 85.5px,#3b4cc0 87.5px,#5d7ce6 88.5px,#b5cefa 89.5px,#f7ae91 90.5px,#e06651 91.5px,#cf453c 92.5px,#de614d 93.5px,#f7a88a 94.5px,#d0daea 95.5px,#acc8fd 96.5px,#95b6ff 97.5px,#8fb1fe 98.5px,#9bbcff 99.5px,#b8cff9 100.5px,#e3d9d4 101.5px,#f5c0a8 102.5px,#f7ad8f 103.5px,#f7a98b 104.5px,#f7b79b 105.5px,#eed0c0 106.5px,#cdd9ed 107.5px,#b6cefa 108.5px,#abc7fd 109.5px,#adc9fd 110.5px,#bdd2f7 111.5px,#d8dce2 112.5px,#ecd2c4 113.5px,#f3c7b1 114.5px,#f6bfa6 115.5px,#f6bda3 116.5px,#f5c1a8 117.5px,#f2cab5 118.5px,#dadce0 120.5px,#cdd9ed 124.5px,#d3dbe7 128.5px,#e5d8d1 133.5px,#e3dad4 137.5px,#d9dce1 141.5px,#ddd 189.5px,#ddd 223.5px);
--g19:linear-gradient(90deg,#e4d9d3 0.5px,#e3d9d4 2.5px,#d0daea 6.5px,#ccd9ed 11.5px,#dadce0 15.5px,#ebd3c6 16.5px,#f4c5af 17.5px,#f7bba0 18.5px,#f7b99d 19.5px,#f6bea5 20.5px,#f2cbb7 21.5px,#e4d9d3 22.5px,#c2d5f4 23.5px,#aac7fd 24.5px,#9dbdff 25.5px,#9dbdff 26.5px,#abc7fd 27.5px,#c4d6f3 28.5px,#e9d5c9 29.5px,#f7ba9f 30.5px,#f6a385 31.5px,#f49a7c 32.5px,#f6a284 33.5px,#f7b89d 34.5px,#ebd3c6 35.5px,#b7cff9 36.5px,#8db0fe 37.5px,#7c9ff9 38.5px,#86a9fc 39.5px,#a9c6fd 40.5px,#e5d8d0 41.5px,#f4987a 42.5px,#da5a48 43.5px,#c73735 44.5px,#ce433b 45.5px,#e8765c 46.5px,#f7ba9f 47.5px,#a9c6fd 48.5px,#4f6ad9 49.5px,#3b4cc0 50.5px,#3b4cc0 52.5px,#6687ed 53.5px,#ced9ec 54.5px,#b40426 55.5px,#b40426 63.5px,#dbdcde 64.5px,#3b4cc0 65.5px,#3b4cc0 71.5px,#7b9ef8 72.5px,#cb3d38 73.5px,#b40426 74.5px,#b40426 80.5px,#c53333 81.5px,#b5cefa 82.5px,#5b7ae5 83.5px,#3b4cc0 84.5px,#3b4cc0 86.5px,#465ecf 87.5px,#91b3fe 88.5px,#f2c9b4 89.5px,#ec8064 90.5px,#d34c40 91.5px,#d34d41 92.5px,#ed8266 93.5px,#f1cbb8 94.5px,#bed2f6 95.5px,#9fbeff 96.5px,#8fb1fe 97.5px,#90b2fe 98.5px,#a2c1ff 99.5px,#c3d5f3 100.5px,#eed0c0 101.5px,#f7b295 102.5px,#f59d7f 103.5px,#f59e7f 104.5px,#f7b295 105.5px,#edd1c1 106.5px,#c7d7f0 107.5px,#aec9fc 108.5px,#a1c0ff 109.5px,#a2c1ff 110.5px,#b1cbfb 111.5px,#ccd9ed 112.5px,#e8d6cc 113.5px,#f5c2aa 115.5px,#f6bda3 116.5px,#f6bea4 117.5px,#f0cdbb 119.5px,#d9dce1 121.5px,#ccd9ed 126.5px,#d8dce2 131.5px,#e4d9d3 135.5px,#e0dbd7 140.5px,#d9dce1 145.5px,#ddd 168.5px,#ddd 223.5px);
--g20:linear-gradient(90deg,#e4d9d3 0.5px,#e2dad6 2.5px,#d2dbe8 5.5px,#cbd9ee 10.5px,#dbdcde 15.5px,#edd1c2 16.5px,#f5c3ac 17.5px,#f7ba9f 18.5px,#f7b99d 19.5px,#f6c0a6 20.5px,#f1ccb9 21.5px,#e1dad6 22.5px,#c0d3f5 23.5px,#a8c5fe 24.5px,#9cbcff 25.5px,#9dbdff 26.5px,#acc8fd 27.5px,#c4d6f2 28.5px,#e9d5ca 29.5px,#f7ba9f 30.5px,#f6a385 31.5px,#f49a7b 32.5px,#f6a182 33.5px,#f7b69a 34.5px,#edd1c3 35.5px,#bbd1f8 36.5px,#91b3fe 37.5px,#7da0f9 38.5px,#82a5fb 39.5px,#9fbfff 40.5px,#d1dae9 41.5px,#f7aa8c 42.5px,#e16852 43.5px,#ca3d38 44.5px,#c93b37 45.5px,#df644f 46.5px,#f6a586 47.5px,#cfdaeb 48.5px,#698aef 49.5px,#3b4cc0 50.5px,#3b4cc0 52.5px,#475fd0 53.5px,#98b9ff 54.5px,#ef876a 55.5px,#b40426 56.5px,#b40426 63.5px,#bf262e 64.5px,#8db0fe 65.5px,#3b4cc0 66.5px,#3b4cc0 71.5px,#ef8a6c 72.5px,#b40426 73.5px,#b40426 80.5px,#d0daea 81.5px,#6e90f2 82.5px,#3b4cc0 83.5px,#3b4cc0 86.5px,#7699f6 87.5px,#dfdcda 88.5px,#f59b7d 89.5px,#dc5e4b 90.5px,#ce443c 91.5px,#dc5d4a 92.5px,#f49a7b 93.5px,#e1dbd7 94.5px,#b5cdfa 95.5px,#99baff 96.5px,#8db0fe 97.5px,#93b5fe 98.5px,#a9c6fd 99.5px,#ccd9ed 100.5px,#f2cab5 101.5px,#f7ac8f 102.5px,#f59b7c 103.5px,#f59e7f 104.5px,#f7b397 105.5px,#edd1c2 106.5px,#c8d7f0 107.5px,#afcafc 108.5px,#a1c0ff 109.5px,#a0c0ff 110.5px,#aec9fd 111.5px,#c6d6f1 112.5px,#e5d9d1 113.5px,#f4c4ad 115.5px,#f6bea4 116.5px,#f6bda3 117.5px,#f2cab6 119.5px,#dadcdf 121.5px,#ccd9ed 126.5px,#d6dce4 131.5px,#e3d9d4 135.5px,#e2dad6 140.5px,#d9dce1 145.5px,#ddd 173.5px,#ddd 223.5px);
--g21:linear-gradient(90deg,#e4d9d3 0.5px,#e1dbd7 2.5px,#d2dbe8 5.5px,#ccd9ee 10.5px,#dcdddd 15.5px,#efcfbf 16.5px,#f5c2aa 17.5px,#f7ba9f 18.5px,#f7b99e 19.5px,#f5c1a8 20.5px,#f0cdbc 21.5px,#dfdcda 22.5px,#bed2f6 23.5px,#a7c5fe 24.5px,#9cbcff 25.5px,#9ebeff 26.5px,#acc8fd 27.5px,#c5d6f2 28.5px,#e9d5ca 29.5px,#f7ba9f 30.5px,#f6a485 31.5px,#f49a7b 32.5px,#f6a182 33.5px,#f7b699 34.5px,#eed0c1 35.5px,#bed3f6 36.5px,#93b5fe 37.5px,#7da1f9 38.5px,#7fa3fa 39.5px,#99baff 40.5px,#c6d6f1 41.5px,#f7b89c 42.5px,#e7755b 43.5px,#ce433b 44.5px,#c73735 45.5px,#d95847 46.5px,#f39576 47.5px,#ead5c9 48.5px,#80a4fa 49.5px,#3d4fc3 50.5px,#3b4cc0 53.5px,#6d8ff2 54.5px,#d2dae8 55.5px,#b40426 56.5px,#b40426 64.5px,#f18d6f 65.5px,#3b4cc0 66.5px,#3b4cc0 70.5px,#f4c5ae 71.5px,#b40426 72.5px,#b40426 79.5px,#f7b599 80.5px,#88abfd 81.5px,#4358cb 82.5px,#3b4cc0 83.5px,#3b4cc0 85.5px,#5876e2 86.5px,#adc8fd 87.5px,#f7bba0 88.5px,#e9795e 89.5px,#d1493f 90.5px,#ce433b 91.5px,#e26a53 92.5px,#f7aa8c 93.5px,#d4dbe6 94.5px,#aecafc 95.5px,#96b7ff 96.5px,#8db0fe 97.5px,#96b7ff 98.5px,#afcafc 99.5px,#d5dbe6 100.5px,#f4c5ad 101.5px,#f7a98b 102.5px,#f49a7c 103.5px,#f59f80 104.5px,#f7b498 105.5px,#edd1c2 106.5px,#c9d7f0 107.5px,#b0cafc 108.5px,#a1c0ff 109.5px,#a0bfff 110.5px,#abc7fd 111.5px,#c2d5f4 112.5px,#e1dad6 113.5px,#eed0bf 114.5px,#f6bfa5 116.5px,#f6bda3 117.5px,#f3c8b3 119.5px,#ecd3c6 120.5px,#dcddde 121.5px,#ccd9ed 126.5px,#d5dbe5 131.5px,#e3dad4 135.5px,#e2dad5 140.5px,#d9dce1 146.5px,#ddd 170.5px,#ddd 223.5px);
--g22:linear-gradient(90deg,#e4d9d2 0.5px,#e0dbd8 2.5px,#d1dae9 5.5px,#ccd9ee 10.5px,#d7dce3 14.5px,#ddd 15.5px,#efcebd 16.5px,#f5c1a9 17.5px,#f7b99e 18.5px,#f7b99e 19.5px,#f5c1a9 20.5px,#efcebd 21.5px,#dddcdc 22.5px,#bdd2f7 23.5px,#a7c4fe 24.5px,#9cbcff 25.5px,#9ebeff 26.5px,#acc8fd 27.5px,#c5d6f2 28.5px,#e9d5ca 29.5px,#f7bb9f 30.5px,#f6a485 31.5px,#f49a7b 32.5px,#f6a082 33.5px,#f7b599 34.5px,#eed0c0 35.5px,#c0d3f5 36.5px,#95b6ff 37.5px,#7ea2fa 38.5px,#7ea2fa 39.5px,#95b7ff 40.5px,#c0d4f5 41.5px,#f5c0a8 42.5px,#ec7f63 43.5px,#d24a3f 44.5px,#c73535 45.5px,#d44e41 46.5px,#ee8568 47.5px,#f4c6af 48.5px,#9bbbff 49.5px,#4c65d6 50.5px,#3b4cc0 51.5px,#3b4cc0 53.5px,#5572df 54.5px,#aac7fd 55.5px,#e06650 56.5px,#b40426 57.5px,#b40426 65.5px,#cbd8ee 66.5px,#5b7ae5 67.5px,#3b4cc0 68.5px,#5673e0 69.5px,#bfd3f6 70.5px,#b40426 71.5px,#b40426 78.5px,#b70e29 79.5px,#c0d4f5 80.5px,#6586ed 81.5px,#3b4cc0 82.5px,#3b4cc0 85.5px,#7396f5 86.5px,#d5dbe5 87.5px,#f6a284 88.5px,#df624e 89.5px,#ca3c37 90.5px,#cd423a 91.5px,#e57058 92.5px,#f7b396 93.5px,#ced9eb 94.5px,#aac7fd 95.5px,#93b5fe 96.5px,#8db0fe 97.5px,#98b9ff 98.5px,#b3cdfb 99.5px,#dcdcde 100.5px,#f5c1a9 101.5px,#f7a889 102.5px,#f49a7b 103.5px,#f59f80 104.5px,#f7b497 105.5px,#eed0c0 106.5px,#cad8ee 107.5px,#b1cbfb 108.5px,#a2c1ff 109.5px,#9fbfff 110.5px,#a9c6fd 111.5px,#bed3f6 112.5px,#dedcdb 113.5px,#edd1c2 114.5px,#f6c0a6 116.5px,#f6bda3 117.5px,#f6c0a7 118.5px,#edd2c3 120.5px,#ddd 121.5px,#cdd9ed 125.5px,#d1dae9 130.5px,#e3dad4 135.5px,#e3dad4 140.5px,#d9dce1 146.5px,#ddd 171.5px,#ddd 223.5px);
--g23:linear-gradient(90deg,#e4d9d2 0.5px,#e0dbd8 2.5px,#d1dae9 5.5px,#ccd9ee 10.5px,#d7dce3 14.5px,#ddd 15.5px,#efcebd 16.5px,#f5c1a9 17.5px,#f7b99e 18.5px,#f7b99e 19.5px,#f5c1a9 20.5px,#efcebd 21.5px,#ddd 22.5px,#bdd2f7 23.5px,#a7c4fe 24.5px,#9cbcff 25.5px,#9ebeff 26.5px,#acc8fd 27.5px,#c5d6f2 28.5px,#e9d5ca 29.5px,#f7bb9f 30.5px,#f6a485 31.5px,#f49a7b 32.5px,#f6a082 33.5px,#f7b599 34.5px,#eed0c0 35.5px,#c0d3f5 36.5px,#95b7ff 37.5px,#7ea2fa 38.5px,#7ea2fa 39.5px,#95b7ff 40.5px,#c0d3f5 41.5px,#f5c1a9 42.5px,#ec8164 43.5px,#d24b40 44.5px,#c63535 45.5px,#d24b40 46.5px,#ec8164 47.5px,#f5c1a9 48.5px,#a3c2fe 49.5px,#506cda 50.5px,#3b4cc0 51.5px,#3b4cc0 53.5px,#506cda 54.5px,#a3c2fe 55.5px,#e9785e 56.5px,#b40426 57.5px,#b40426 65.5px,#ddd 66.5px,#a2c1ff 67.5px,#8db0fe 68.5px,#a2c1ff 69.5px,#ddd 70.5px,#b40426 71.5px,#b40426 78.5px,#c53233 79.5px,#b9d0f8 80.5px,#6181ea 81.5px,#3b4cc0 82.5px,#3b4cc0 85.5px,#789bf7 86.5px,#ddd 87.5px,#f59e7f 88.5px,#dd5e4b 89.5px,#c83836 90.5px,#cc403a 91.5px,#e57057 92.5px,#f7b396 93.5px,#ced9ec 94.5px,#aac7fd 95.5px,#93b5fe 96.5px,#8db0fe 97.5px,#98baff 98.5px,#b4cdfb 99.5px,#ddd 100.5px,#f5c1a9 101.5px,#f7a889 102.5px,#f49a7b 103.5px,#f59f80 104.5px,#f7b397 105.5px,#eecfbf 106.5px,#cbd9ee 107.5px,#b2ccfb 108.5px,#a2c1ff 109.5px,#9fbfff 110.5px,#a9c6fd 111.5px,#bdd2f6 112.5px,#ddd 113.5px,#edd1c3 114.5px,#f6c0a7 116.5px,#f6bda3 117.5px,#f6c0a7 118.5px,#edd1c3 120.5px,#ddd 121.5px,#cdd9ed 125.5px,#d1dae9 130.5px,#e3dad4 135.5px,#e3dad4 140.5px,#d9dce1 146.5px,#ddd 171.5px,#ddd 223.5px);
--g24:linear-gradient(90deg,#ddd 0.5px,#dedcdb 90.5px,#d9dce1 93.5px,#e4d9d2 96.5px,#cdd9ed 100.5px,#bad0f8 102.5px,#bad1f8 104.5px,#d4dbe7 109.5px,#e4d9d3 111.5px,#eed0c0 113.5px,#ead4c8 115.5px,#d8dce2 117.5px,#d1dae9 118.5px,#ddd 122.5px,#e1dbd7 125.5px,#e7d6cd 126.5px,#e9d5ca 127.5px,#dbdcdf 129.5px,#d9dce1 131.5px,#e1dbd7 134.5px,#ddd 142.5px,#ddd 223.5px);
--g25:linear-gradient(90deg,#ddd 0.5px,#dfdbd9 88.5px,#dddcdc 91.5px,#d7dce3 93.5px,#dfdcda 95.5px,#e5d8d1 96.5px,#e5d8d1 97.5px,#d4dbe7 99.5px,#a6c4fe 102.5px,#91b3fe 104.5px,#8db0fe 106.5px,#97b8ff 107.5px,#abc7fd 108.5px,#c6d6f2 109.5px,#e3d9d4 110.5px,#f6bda2 111.5px,#f39778 112.5px,#ed8165 113.5px,#ee8468 114.5px,#f59e80 115.5px,#f5c3ab 116.5px,#e1dad6 117.5px,#d0daea 118.5px,#d0daea 119.5px,#dcddde 121.5px,#e0dbd8 124.5px,#edd1c2 126.5px,#dddcdc 128.5px,#d6dce4 129.5px,#dbdcde 131.5px,#e2dad5 133.5px,#ddd 138.5px,#ddd 223.5px);
--g26:linear-gradient(90deg,#ddd 0.5px,#dfdcda 88.5px,#dedcdb 91.5px,#d7dce3 93.5px,#dedcdb 95.5px,#e6d8cf 97.5px,#d4dbe6 99.5px,#b5cefa 101.5px,#90b2fe 103.5px,#779af7 105.5px,#7699f6 106.5px,#82a5fb 107.5px,#9dbdff 108.5px,#c2d5f4 109.5px,#e9d5cb 110.5px,#f7a789 111.5px,#e46d55 112.5px,#d34c40 113.5px,#d65243 114.5px,#ea7a60 115.5px,#f7b396 116.5px,#e6d7cf 117.5px,#d0dae9 118.5px,#d0daea 119.5px,#dcddde 121.5px,#e1dad6 124.5px,#ead4c8 125.5px,#eed0c1 126.5px,#dbdcde 128.5px,#d5dbe6 129.5px,#e3dad5 133.5px,#ddd 137.5px,#ddd 223.5px);
--g27:linear-gradient(90deg,#ddd 0.5px,#dfdcda 88.5px,#dfdbd9 91.5px,#d6dce4 94.5px,#e7d6cd 97.5px,#e3dad5 98.5px,#c8d7f0 100.5px,#b4cdfb 101.5px,#99baff 102.5px,#799cf8 103.5px,#5a78e3 104.5px,#445acc 105.5px,#3f53c6 106.5px,#526edc 107.5px,#80a3fa 108.5px,#c2d5f4 109.5px,#f6bca1 110.5px,#d0483e 111.5px,#b40426 112.5px,#b40426 115.5px,#ed8367 116.5px,#f0cebc 117.5px,#d3dbe8 118.5px,#cfdaeb 119.5px,#dcddde 121.5px,#dedcda 123.5px,#e5d8d0 124.5px,#eed0bf 125.5px,#eed0c0 126.5px,#d8dce2 128.5px,#d3dbe7 129.5px,#e3dad4 132.5px,#ddd 137.5px,#ddd 223.5px);
--g28:linear-gradient(90deg,#ddd 0.5px,#dedcda 88.5px,#e0dbd9 91.5px,#d5dbe5 94.5px,#e8d6cc 97.5px,#e4d9d2 98.5px,#d8dce2 99.5px,#b2ccfb 101.5px,#92b4fe 102.5px,#698bef 103.5px,#4257ca 104.5px,#3b4cc0 105.5px,#3b4cc0 107.5px,#7194f4 108.5px,#c6d6f2 109.5px,#f6a182 110.5px,#b40426 111.5px,#b40426 115.5px,#df644f 116.5px,#f3c8b2 117.5px,#d4dbe6 118.5px,#ced9eb 119.5px,#dcddde 121.5px,#dfdbd9 123.5px,#f0cdbb 125.5px,#edd1c1 126.5px,#e1dad6 127.5px,#d6dce4 128.5px,#d2dbe8 129.5px,#e4d9d3 132.5px,#ddd 137.5px,#ddd 223.5px);
--g29:linear-gradient(90deg,#ddd 0.5px,#dedcdb 88.5px,#e2dad5 91.5px,#d4dbe6 94.5px,#d5dbe6 95.5px,#e7d7ce 97.5px,#ead4c9 98.5px,#e0dbd9 99.5px,#c9d8ef 100.5px,#a2c1ff 101.5px,#6181e9 102.5px,#3b4cc0 103.5px,#3b4cc0 107.5px,#4f6ad9 108.5px,#edd1c2 109.5px,#b40426 110.5px,#b40426 116.5px,#f7b093 117.5px,#d5dce5 118.5px,#cbd8ee 119.5px,#dcddde 121.5px,#dedcda 122.5px,#e6d7cf 123.5px,#f1cbb7 124.5px,#f3c9b4 125.5px,#e8d6cd 126.5px,#d8dce2 127.5px,#cfdaea 128.5px,#dedcdb 130.5px,#e4d9d2 131.5px,#e5d8d1 132.5px,#dddcdc 135.5px,#ddd 223.5px);
--g30:linear-gradient(90deg,#ddd 0.5px,#dedcdb 89.5px,#e4d9d2 92.5px,#d1dae9 95.5px,#d2dae8 96.5px,#dcdddd 97.5px,#e7d7ce 98.5px,#e3d9d3 99.5px,#bcd1f7 100.5px,#6282ea 101.5px,#3b4cc0 102.5px,#3b4cc0 107.5px,#c7d7f1 108.5px,#b40426 109.5px,#b40426 116.5px,#f7a789 117.5px,#d0daea 118.5px,#c4d5f3 119.5px,#dedcdb 121.5px,#ead5c9 122.5px,#f5c1a9 123.5px,#f6bfa5 124.5px,#ead4c8 125.5px,#d6dce4 126.5px,#cad8ef 127.5px,#d2dbe8 128.5px,#e7d7ce 130.5px,#e8d6cd 131.5px,#dedcdb 133.5px,#ddd 223.5px);
--g31:linear-gradient(90deg,#ddd 0.5px,#dedcda 90.5px,#e6d7cf 92.5px,#e6d8d0 93.5px,#cdd9ed 96.5px,#cdd9ed 97.5px,#d8dce2 99.5px,#bbd1f8 100.5px,#5f7fe8 101.5px,#3b4cc0 102.5px,#3b4cc0 105.5px,#4156c8 106.5px,#f6a384 107.5px,#b40426 108.5px,#b40426 116.5px,#f7a687 117.5px,#cbd9ee 118.5px,#bfd3f5 119.5px,#d5dbe5 120.5px,#ebd3c6 121.5px,#f7b69a 122.5px,#f7b498 123.5px,#ecd2c4 124.5px,#d3dbe7 125.5px,#c5d6f2 126.5px,#cfdaea 127.5px,#e0dbd9 128.5px,#e9d5ca 129.5px,#ead5c9 130.5px,#dedcdb 132.5px,#ddd 223.5px);
--g32:linear-gradient(90deg,#ddd 0.5px,#dddcdc 90.5px,#e8d6cd 93.5px,#dddcdc 95.5px,#c7d7f1 97.5px,#d1dae9 99.5px,#cad8ef 100.5px,#9cbcff 101.5px,#506bda 102.5px,#3b4cc0 103.5px,#3b4cc0 104.5px,#92b4fe 105.5px,#ee8467 106.5px,#b40426 107.5px,#b40426 116.5px,#f6a283 117.5px,#cdd9ed 118.5px,#c2d4f4 119.5px,#dedcda 120.5px,#f6bda2 121.5px,#f7a788 122.5px,#f4c6b0 123.5px,#dadcdf 124.5px,#c4d6f3 125.5px,#c8d7f0 126.5px,#dbdcdf 127.5px,#e8d6cc 128.5px,#ecd3c5 129.5px,#e0dbd9 131.5px,#ddd 153.5px,#ddd 223.5px);
--g33:linear-gradient(90deg,#ddd 0.5px,#dedcdb 91.5px,#e8d6cc 94.5px,#d9dce0 96.5px,#cbd8ee 97.5px,#c4d5f3 98.5px,#d5dbe5 100.5px,#d5dbe6 101.5px,#bdd2f6 102.5px,#a8c5fe 103.5px,#c4d6f2 104.5px,#f7aa8c 105.5px,#b40426 106.5px,#b40426 116.5px,#f7a688 117.5px,#cfdaeb 118.5px,#cbd8ee 119.5px,#f0cdbb 120.5px,#f6a384 121.5px,#f7b69a 122.5px,#e4d9d2 123.5px,#c8d7f0 124.5px,#c1d4f4 125.5px,#d5dbe6 126.5px,#e6d8d0 127.5px,#edd2c3 128.5px,#ead4c9 129.5px,#e2dad6 130.5px,#dddcdd 132.5px,#ddd 223.5px);
--g34:linear-gradient(90deg,#ddd 0.5px,#dedcdb 92.5px,#e9d6cb 95.5px,#d9dce1 97.5px,#cad8ef 98.5px,#c5d6f2 99.5px,#d3dbe7 100.5px,#e8d6cb 101.5px,#f4c6b0 102.5px,#f4c4ad 103.5px,#f7b99e 104.5px,#dc5e4b 105.5px,#b40426 106.5px,#b40426 116.5px,#f7b497 117.5px,#d9dce1 118.5px,#ecd3c6 119.5px,#f7a788 120.5px,#f7b69a 121.5px,#e4d9d3 122.5px,#c6d6f2 123.5px,#c0d4f5 124.5px,#d5dbe5 125.5px,#e6d7cf 126.5px,#eed1c1 127.5px,#dddcdc 130.5px,#ddd 223.5px);
--g35:linear-gradient(90deg,#ddd 0.5px,#dddcdc 93.5px,#e9d6cb 96.5px,#dddcdc 98.5px,#c8d7f0 100.5px,#d3dbe7 101.5px,#e8d6cb 102.5px,#f5c1a9 103.5px,#f7b396 105.5px,#e57057 106.5px,#b40426 107.5px,#b40426 115.5px,#bd1e2d 116.5px,#f7ab8d 117.5px,#f7b69a 118.5px,#f7af91 119.5px,#f1cbb7 120.5px,#d7dce3 121.5px,#c0d4f5 122.5px,#c7d7f1 123.5px,#dcdddd 124.5px,#ead4c8 125.5px,#edd1c2 126.5px,#dfdbd9 128.5px,#ddd 169.5px,#ddd 223.5px);
--g36:linear-gradient(90deg,#ddd 0.5px,#dddcdc 94.5px,#e8d6cd 97.5px,#ddd 99.5px,#cad8ef 101.5px,#d5dbe6 102.5px,#e8d6cc 103.5px,#f4c5ae 104.5px,#f6c0a7 105.5px,#f6bfa6 106.5px,#f39475 107.5px,#b40426 108.5px,#b40426 115.5px,#ea7b60 116.5px,#f59e7f 117.5px,#f7ae90 118.5px,#eed0c1 119.5px,#d4dbe6 120.5px,#c3d5f4 121.5px,#cad8ef 122.5px,#dddcdc 123.5px,#e9d5ca 124.5px,#ecd3c5 125.5px,#dfdbd9 127.5px,#ddd 223.5px);
--g37:linear-gradient(90deg,#ddd 0.5px,#dedcdb 95.5px,#e6d7cf 98.5px,#cfdaeb 101.5px,#ced9ec 102.5px,#dbdcdf 103.5px,#ecd3c5 104.5px,#f3c8b2 105.5px,#edd1c2 107.5px,#f6bea4 108.5px,#dc5d4a 109.5px,#b40426 110.5px,#b40426 114.5px,#f18e70 115.5px,#f7ab8d 116.5px,#f7ab8d 117.5px,#f2c9b4 118.5px,#dadcdf 119.5px,#c7d7f1 120.5px,#c7d7f1 121.5px,#d8dce2 122.5px,#e5d8d0 123.5px,#ebd4c7 124.5px,#dddcdc 127.5px,#ddd 223.5px);
--g38:linear-gradient(90deg,#ddd 0.5px,#dedcdb 95.5px,#e6d7cf 98.5px,#d1dae9 101.5px,#cdd9ec 102.5px,#d8dce2 103.5px,#e9d5ca 104.5px,#f2cab6 105.5px,#f0cebc 106.5px,#e9d5cb 107.5px,#eecfbf 108.5px,#f59c7d 109.5px,#b40426 110.5px,#b40426 113.5px,#c93b37 114.5px,#f6a687 115.5px,#f7b092 116.5px,#f7b092 117.5px,#efcebd 118.5px,#d7dce4 119.5px,#c6d6f1 120.5px,#cad8ef 121.5px,#dbdcdf 122.5px,#e7d7ce 123.5px,#ead4c8 124.5px,#dfdbd9 126.5px,#ddd 223.5px);
--g39:linear-gradient(90deg,#ddd 0.5px,#dfdbd9 96.5px,#e6d8d0 98.5px,#dedcdb 100.5px,#ced9ec 102.5px,#d4dbe6 103.5px,#e3dad4 104.5px,#eed0bf 105.5px,#eed0c0 106.5px,#e1dbd7 107.5px,#d7dce4 108.5px,#e2dad6 109.5px,#f7ad8f 110.5px,#bd1f2d 111.5px,#b40426 112.5px,#c83735 113.5px,#f7a687 114.5px,#f5c2aa 115.5px,#f7b69a 116.5px,#f6bca2 117.5px,#e7d7ce 118.5px,#d0daea 119.5px,#c6d6f2 120.5px,#d1dae9 121.5px,#e8d6cc 123.5px,#e9d5cb 124.5px,#dedcdb 126.5px,#ddd 223.5px);
--g40:linear-gradient(90deg,#ddd 0.5px,#dedcdb 96.5px,#e4d9d2 99.5px,#d0daea 102.5px,#d1dae9 103.5px,#dddcdc 104.5px,#e9d5ca 105.5px,#ebd4c7 106.5px,#dadce0 107.5px,#bfd3f6 108.5px,#aec9fd 109.5px,#b9d0f8 110.5px,#e3d9d4 111.5px,#f6bfa5 112.5px,#f1cbb7 113.5px,#e5d8d0 114.5px,#edd1c1 115.5px,#f6bea4 116.5px,#f3c8b3 117.5px,#dfdcda 118.5px,#ccd9ed 119.5px,#c9d8ef 120.5px,#e3dad4 122.5px,#e8d6cb 123.5px,#dddcdc 126.5px,#ddd 223.5px);
--g41:linear-gradient(90deg,#ddd 0.5px,#dedcdb 96.5px,#e4d9d2 99.5px,#d1dae8 102.5px,#d1dae9 103.5px,#e6d8cf 105.5px,#e8d6cc 106.5px,#d6dce4 107.5px,#b3ccfb 108.5px,#93b5fe 109.5px,#8caffe 110.5px,#a8c5fe 111.5px,#c9d8ef 112.5px,#d2dbe8 114.5px,#e9d5ca 115.5px,#f5c2aa 116.5px,#f0cdbb 117.5px,#dcdddd 118.5px,#cbd9ee 119.5px,#ccd9ee 120.5px,#e4d9d3 122.5px,#e8d6cc 123.5px,#dddcdc 126.5px,#ddd 223.5px);
--g42:linear-gradient(90deg,#ddd 0.5px,#dedcdb 97.5px,#e2dad5 100.5px,#d1dae8 103.5px,#d7dce3 106.5px,#bed3f6 107.5px,#7fa2fa 108.5px,#3b4dc1 109.5px,#3b4cc0 112.5px,#5471de 113.5px,#99baff 114.5px,#d8dce2 115.5px,#ecd3c5 116.5px,#e9d5cb 117.5px,#dedcdb 118.5px,#d4dbe7 119.5px,#e6d8cf 122.5px,#dddcdd 126.5px,#ddd 223.5px);
--g43:linear-gradient(90deg,#ddd 0.5px,#dedcdb 99.5px,#dfdcda 102.5px,#d5dbe5 104.5px,#cad8ef 105.5px,#b5cdfa 106.5px,#86a9fc 107.5px,#3b4dc1 108.5px,#3b4cc0 113.5px,#5673e0 114.5px,#a5c3fe 115.5px,#e8d6cb 116.5px,#f08c6e 117.5px,#e56f57 118.5px,#f7ac8e 119.5px,#edd1c2 120.5px,#e4d9d3 121.5px,#dddcdd 124.5px,#ddd 223.5px);
--g44:linear-gradient(90deg,#ddd 0.5px,#dcdddd 104.5px,#ced9ec 106.5px,#b9d0f9 107.5px,#92b4fe 108.5px,#6181e9 109.5px,#3d4fc3 110.5px,#3b4cc0 111.5px,#4d68d7 112.5px,#799cf8 113.5px,#a8c5fe 114.5px,#ccd9ed 115.5px,#e5d9d2 116.5px,#f2cab5 117.5px,#f3c7b1 118.5px,#e2dad5 120.5px,#dbdcdf 121.5px,#ddd 223.5px);
--g45:linear-gradient(90deg,#ddd 0.5px,#dfdbd9 103.5px,#e8d6cc 105.5px,#edd1c1 106.5px,#ecd3c5 107.5px,#dcdddd 108.5px,#c1d4f5 109.5px,#aec9fc 110.5px,#b0cbfc 111.5px,#bed3f6 112.5px,#d2dae8 113.5px,#e6d8cf 114.5px,#f2cab6 115.5px,#f5c2a9 116.5px,#f5c4ad 117.5px,#e8d6cd 119.5px,#dcdddd 120.5px,#d4dbe6 121.5px,#d6dce4 123.5px,#ddd 127.5px,#ddd 223.5px);
--g46:linear-gradient(90deg,#ddd 0.5px,#dedcdb 102.5px,#e0dbd8 103.5px,#e8d6cd 104.5px,#f3c8b2 105.5px,#f7ad90 106.5px,#f6a284 107.5px,#f6bfa6 108.5px,#dadce0 109.5px,#b9d0f9 110.5px,#b3ccfb 111.5px,#c4d5f3 112.5px,#dfdbd9 113.5px,#f4c5ae 114.5px,#f7ab8d 115.5px,#f6a284 116.5px,#f7af92 117.5px,#f5c4ad 118.5px,#ead4c8 119.5px,#dadcdf 120.5px,#ced9eb 121.5px,#ccd9ee 122.5px,#dcddde 125.5px,#ddd 223.5px);
--g47:linear-gradient(90deg,#ddd 0.5px,#dddcdc 102.5px,#e0dbd8 103.5px,#e8d6cd 104.5px,#f3c8b2 105.5px,#f7ad90 106.5px,#f6a586 107.5px,#f3c7b1 108.5px,#c4d5f3 109.5px,#86a9fc 110.5px,#6d8ff1 111.5px,#7fa3fa 112.5px,#b4cdfa 113.5px,#e8d6cc 114.5px,#f7b599 115.5px,#f7a688 116.5px,#f7b194 117.5px,#f4c6af 118.5px,#e9d5ca 119.5px,#dadce0 120.5px,#ced9ec 121.5px,#ccd9ed 122.5px,#dcddde 125.5px,#ddd 223.5px);
--g48:linear-gradient(90deg,#ddd 0.5px,#dedcdb 103.5px,#e8d6cc 106.5px,#e0dbd8 107.5px,#bad1f8 108.5px,#6788ed 109.5px,#3b4cc0 110.5px,#3b4cc0 112.5px,#4a63d3 113.5px,#b8d0f9 114.5px,#f2c9b4 115.5px,#f7af92 116.5px,#f7b69a 117.5px,#f3c8b3 118.5px,#e7d7cd 119.5px,#d8dce2 120.5px,#cdd9ec 121.5px,#ccd9ed 122.5px,#dcdddd 125.5px,#ddd 223.5px);
--g49:linear-gradient(90deg,#ddd 0.5px,#dbdcdf 106.5px,#d3dbe7 107.5px,#bdd2f7 108.5px,#98b9ff 109.5px,#7699f6 110.5px,#6b8df0 111.5px,#83a6fb 112.5px,#bad1f8 113.5px,#ebd3c6 114.5px,#f7b396 115.5px,#f7a98a 116.5px,#f7b79b 117.5px,#f2cab6 118.5px,#e6d8d0 119.5px,#d6dce4 120.5px,#ccd9ed 121.5px,#d4dbe6 123.5px,#ddd 126.5px,#ddd 223.5px);
--g50:linear-gradient(90deg,#ddd 0.5px,#dbdcdf 106.5px,#c5d6f2 109.5px,#cdd9ed 110.5px,#dddcdc 111.5px,#edd1c2 112.5px,#f6bfa5 113.5px,#f7a98b 114.5px,#f59e7f 115.5px,#f6a587 116.5px,#f7ba9f 117.5px,#f0cdbb 118.5px,#e3dad5 119.5px,#d4dbe6 120.5px,#ccd9ed 121.5px,#dcdddd 125.5px,#ddd 223.5px);
--g51:linear-gradient(90deg,#ddd 0.5px,#dadce0 105.5px,#c8d7f0 108.5px,#d2dbe8 109.5px,#e1dad7 110.5px,#f6bea4 112.5px,#f7ac8f 113.5px,#f7a688 114.5px,#f7b194 115.5px,#ecd3c5 117.5px,#dedcda 118.5px,#d2dbe8 119.5px,#cdd9ec 120.5px,#dcdddd 124.5px,#ddd 223.5px);
--g52:linear-gradient(90deg,#ddd 0.5px,#dcddde 103.5px,#cdd9ec 106.5px,#cfdaeb 107.5px,#d8dce2 108.5px,#efcfbe 110.5px,#f7b79c 112.5px,#f7b79c 113.5px,#efcebd 115.5px,#dadcdf 117.5px,#d2dbe8 118.5px,#d6dce5 120.5px,#ddd 124.5px,#ddd 223.5px);
--g53:linear-gradient(90deg,#ddd 0.5px,#dcddde 103.5px,#d2dbe8 106.5px,#dddcdc 108.5px,#f2cbb7 111.5px,#f3c7b2 112.5px,#edd1c1 114.5px,#d8dce2 117.5px,#d6dce4 119.5px,#ddd 124.5px,#ddd 223.5px);
--g54:linear-gradient(90deg,#ddd 0.5px,#dcddde 103.5px,#d4dbe6 106.5px,#dedcdb 108.5px,#efcebd 111.5px,#f1ccb9 112.5px,#ebd3c6 114.5px,#d9dce1 117.5px,#dadce0 120.5px,#ddd 223.5px);
--g55:linear-gradient(90deg,#ddd 0.5px,#dcddde 82.5px,#d6dce4 92.5px,#dddcdc 101.5px,#ddd 223.5px);
--g56:linear-gradient(90deg,#ddd 0.5px,#ddd 77.5px,#d7dce3 82.5px,#e9d5ca 89.5px,#e3d9d4 93.5px,#d6dce4 98.5px,#dedcdb 104.5px,#ddd 223.5px);
--g57:linear-gradient(90deg,#ddd 0.5px,#dddcdc 76.5px,#d7dce3 81.5px,#ebd3c6 88.5px,#e8d6cb 93.5px,#d7dce3 98.5px,#ddd 106.5px,#ddd 223.5px);
--g58:linear-gradient(90deg,#ddd 0.5px,#dbdcde 75.5px,#d8dce2 79.5px,#ebd3c7 84.5px,#e7d7ce 88.5px,#e7d7ce 91.5px,#ebd3c7 95.5px,#d8dce2 100.5px,#dbdcde 104.5px,#ddd 223.5px);
--g59:linear-gradient(90deg,#ddd 0.5px,#dcddde 73.5px,#d8dce2 77.5px,#ecd3c6 82.5px,#e2dad5 85.5px,#cdd9ed 89.5px,#d6dce4 92.5px,#ebd4c7 96.5px,#ead4c8 98.5px,#d8dce2 102.5px,#dcddde 106.5px,#ddd 223.5px);
--g60:linear-gradient(90deg,#ddd 0.5px,#dddcdc 71.5px,#d7dce3 75.5px,#ebd4c7 79.5px,#e9d5cb 81.5px,#dadce0 83.5px,#c0d4f5 86.5px,#b9d0f9 90.5px,#c0d4f5 93.5px,#dadce0 96.5px,#e9d5cb 98.5px,#ebd4c7 100.5px,#d7dce3 104.5px,#ddd 111.5px,#ddd 223.5px);
--g61:linear-gradient(90deg,#ddd 0.5px,#dcddde 70.5px,#d6dce4 73.5px,#dfdbd9 75.5px,#ebd4c7 77.5px,#ebd3c6 78.5px,#dfdcda 80.5px,#c8d7f0 82.5px,#b9d0f9 84.5px,#c3d5f3 87.5px,#ced9ec 89.5px,#cad8ef 91.5px,#b9d0f8 94.5px,#bed3f6 96.5px,#d4dbe6 98.5px,#e7d6cd 100.5px,#ebd3c6 101.5px,#ebd4c7 102.5px,#d9dce1 105.5px,#d9dce1 108.5px,#ddd 112.5px,#ddd 223.5px);
--g62:linear-gradient(90deg,#ddd 0.5px,#dddcdc 68.5px,#d8dce2 72.5px,#ead4c9 75.5px,#ebd3c6 76.5px,#e7d6cd 77.5px,#dedcdb 78.5px,#c3d5f4 80.5px,#bad1f8 81.5px,#b9d0f8 82.5px,#cbd9ee 84.5px,#e4d9d3 86.5px,#f1cbb8 88.5px,#f4c6b0 89.5px,#f4c6b0 90.5px,#ecd2c4 92.5px,#d8dce2 94.5px,#c0d4f5 96.5px,#b9d0f8 97.5px,#bad1f8 98.5px,#d0dae9 100.5px,#dedcdb 101.5px,#e7d6cd 102.5px,#ebd3c6 103.5px,#ead4c9 104.5px,#d8dce2 107.5px,#ddd 114.5px,#ddd 223.5px);
--g63:linear-gradient(90deg,#ddd 0.5px,#dddcdd 67.5px,#d6dce4 70.5px,#e0dbd8 72.5px,#ecd3c6 74.5px,#e9d5ca 75.5px,#dfdbd9 76.5px,#c2d4f4 78.5px,#b9d0f9 79.5px,#bbd1f7 80.5px,#c8d7f0 81.5px,#d8dce2 82.5px,#f3c8b3 84.5px,#f7af92 86.5px,#f7a788 88.5px,#f7a98b 92.5px,#f7ba9f 94.5px,#e9d6cb 96.5px,#d8dce2 97.5px,#c8d7f0 98.5px,#bbd1f7 99.5px,#b9d0f9 100.5px,#d1dae9 102.5px,#dfdbd9 103.5px,#e9d5ca 104.5px,#ecd3c6 105.5px,#d9dce1 108.5px,#dadce0 111.5px,#ddd 115.5px,#ddd 223.5px);
--g64:linear-gradient(90deg,#ddd 0.5px,#dcdddd 66.5px,#d7dce3 69.5px,#dbdcde 70.5px,#ebd4c7 72.5px,#ebd4c7 73.5px,#e3d9d4 74.5px,#d4dbe6 75.5px,#c3d5f3 76.5px,#b9d0f9 77.5px,#bcd2f7 78.5px,#ccd9ed 79.5px,#e0dbd8 80.5px,#f1ccb9 81.5px,#f7ba9e 82.5px,#f7ab8d 83.5px,#f7a788 84.5px,#f7b599 86.5px,#efcfbf 89.5px,#efcfbf 90.5px,#f7ab8d 94.5px,#f7a788 95.5px,#f7ab8d 96.5px,#f7ba9e 97.5px,#f1ccb9 98.5px,#e0dbd8 99.5px,#ccd9ed 100.5px,#bcd2f7 101.5px,#b9d0f9 102.5px,#c3d5f3 103.5px,#d4dbe6 104.5px,#e3d9d4 105.5px,#ebd4c7 106.5px,#ebd4c7 107.5px,#dbdcde 109.5px,#d6dce4 111.5px,#dddcdc 115.5px,#ddd 223.5px);
--g65:linear-gradient(90deg,#ddd 0.5px,#dcddde 65.5px,#d8dce2 68.5px,#ecd3c6 71.5px,#e8d6cc 72.5px,#dbdcdf 73.5px,#c9d8ef 74.5px,#bbd1f8 75.5px,#bbd1f8 76.5px,#cbd8ee 77.5px,#e2dad5 78.5px,#f3c7b2 79.5px,#f7b295 80.5px,#f7a788 81.5px,#f7ac8e 82.5px,#f6bca2 83.5px,#eecfbf 84.5px,#dddcdd 85.5px,#c8d7f0 86.5px,#a5c3fe 88.5px,#9bbcff 89.5px,#9bbcff 90.5px,#b4cdfa 92.5px,#c8d7f0 93.5px,#dddcdd 94.5px,#eecfbf 95.5px,#f6bca2 96.5px,#f7ac8e 97.5px,#f7a788 98.5px,#f7b295 99.5px,#f3c7b2 100.5px,#e2dad5 101.5px,#cbd8ee 102.5px,#bbd1f8 103.5px,#bbd1f8 104.5px,#c9d8ef 105.5px,#dbdcdf 106.5px,#e8d6cc 107.5px,#ecd3c6 108.5px,#d8dce2 111.5px,#ddd 117.5px,#ddd 223.5px);
--g66:linear-gradient(90deg,#ddd 0.5px,#dbdcde 64.5px,#d6dce4 66.5px,#d9dce1 67.5px,#e9d5c9 69.5px,#ebd3c6 70.5px,#e3d9d3 71.5px,#d3dbe8 72.5px,#c0d3f5 73.5px,#b9d0f9 74.5px,#c5d6f2 75.5px,#dedcdb 76.5px,#f3c9b4 77.5px,#f7b193 78.5px,#f7a788 79.5px,#f7b296 80.5px,#f2cbb7 81.5px,#dbdcdf 82.5px,#bad1f8 83.5px,#9abaff 84.5px,#80a4fb 85.5px,#7194f4 86.5px,#698bef 88.5px,#6b8cf0 92.5px,#7194f4 93.5px,#80a4fb 94.5px,#9abaff 95.5px,#bad1f8 96.5px,#dbdcdf 97.5px,#f2cbb7 98.5px,#f7b296 99.5px,#f7a788 100.5px,#f7b193 101.5px,#f3c9b4 102.5px,#dedcdb 103.5px,#c5d6f2 104.5px,#b9d0f9 105.5px,#c0d3f5 106.5px,#d3dbe8 107.5px,#e3d9d3 108.5px,#ebd3c6 109.5px,#e9d5c9 110.5px,#d9dce1 112.5px,#d8dce2 114.5px,#dedcdb 117.5px,#ddd 223.5px);
--g67:linear-gradient(90deg,#ddd 0.5px,#dbdcdf 63.5px,#d6dce4 65.5px,#dadce0 66.5px,#ebd4c7 68.5px,#ead4c9 69.5px,#dedcdb 70.5px,#cad8ee 71.5px,#bad1f8 72.5px,#bdd2f6 73.5px,#d4dbe6 74.5px,#eed0c0 75.5px,#f7b598 76.5px,#f7a788 77.5px,#f7b497 78.5px,#eed0c0 79.5px,#cdd9ec 80.5px,#a2c1ff 81.5px,#7ea2fa 82.5px,#6c8ef1 83.5px,#6a8cf0 84.5px,#7699f6 85.5px,#9fbfff 87.5px,#bed2f6 89.5px,#bed2f6 90.5px,#9fbfff 92.5px,#7699f6 94.5px,#6a8cf0 95.5px,#6c8ef1 96.5px,#7ea2fa 97.5px,#a2c1ff 98.5px,#cdd9ec 99.5px,#eed0c0 100.5px,#f7b497 101.5px,#f7a788 102.5px,#f7b598 103.5px,#eed0c0 104.5px,#d4dbe6 105.5px,#bdd2f6 106.5px,#bad1f8 107.5px,#cad8ee 108.5px,#dedcdb 109.5px,#ead4c9 110.5px,#ebd4c7 111.5px,#dadce0 113.5px,#d7dce3 115.5px,#dedcdb 118.5px,#ddd 223.5px);
--g68:linear-gradient(90deg,#ddd 0.5px,#dbdcdf 62.5px,#d6dce4 64.5px,#dadcdf 65.5px,#ebd3c6 67.5px,#e8d6cb 68.5px,#d9dce0 69.5px,#c4d5f3 70.5px,#b9d0f9 71.5px,#c5d6f2 72.5px,#e2dad5 73.5px,#f6c0a7 74.5px,#f7a88a 75.5px,#f7af91 76.5px,#f0cdbb 77.5px,#ccd9ee 78.5px,#99baff 79.5px,#7497f5 80.5px,#698bef 81.5px,#789bf7 82.5px,#9abbff 83.5px,#c4d6f3 84.5px,#e7d7cd 85.5px,#f7bba1 86.5px,#f4997a 87.5px,#e97a5f 88.5px,#e06650 89.5px,#e06650 90.5px,#e97a5f 91.5px,#f4997a 92.5px,#f7bba1 93.5px,#e7d7cd 94.5px,#c4d6f3 95.5px,#9abbff 96.5px,#789bf7 97.5px,#698bef 98.5px,#7497f5 99.5px,#99baff 100.5px,#ccd9ee 101.5px,#f0cdbb 102.5px,#f7af91 103.5px,#f7a88a 104.5px,#f6c0a7 105.5px,#e2dad5 106.5px,#c5d6f2 107.5px,#b9d0f9 108.5px,#c4d5f3 109.5px,#d9dce0 110.5px,#e8d6cb 111.5px,#ebd3c6 112.5px,#dadcdf 114.5px,#d7dce3 116.5px,#dedcdb 119.5px,#ddd 223.5px);
--g69:linear-gradient(90deg,#ddd 0.5px,#dbdcdf 61.5px,#d6dce4 63.5px,#dbdcdf 64.5px,#ecd3c6 66.5px,#e7d7ce 67.5px,#d5dbe5 68.5px,#bfd3f5 69.5px,#bad0f8 70.5px,#cedaeb 71.5px,#edd1c3 72.5px,#f7b396 73.5px,#f7a789 74.5px,#f5c1a8 75.5px,#d7dce3 76.5px,#a0c0ff 77.5px,#7497f5 78.5px,#6a8cf0 79.5px,#84a7fc 80.5px,#b7cff9 81.5px,#ead4c9 82.5px,#f6a182 83.5px,#d95847 84.5px,#b40426 85.5px,#b40426 94.5px,#d95847 95.5px,#f6a182 96.5px,#ead4c9 97.5px,#b7cff9 98.5px,#84a7fc 99.5px,#6a8cf0 100.5px,#7497f5 101.5px,#a0c0ff 102.5px,#d7dce3 103.5px,#f5c1a8 104.5px,#f7a789 105.5px,#f7b396 106.5px,#edd1c3 107.5px,#cedaeb 108.5px,#bad0f8 109.5px,#bfd3f5 110.5px,#d5dbe5 111.5px,#e7d7ce 112.5px,#ecd3c6 113.5px,#dbdcdf 115.5px,#d7dce3 117.5px,#dedcdb 120.5px,#ddd 223.5px);
--g70:linear-gradient(90deg,#ddd 0.5px,#dbdcdf 60.5px,#d6dce4 62.5px,#dbdcde 63.5px,#ecd3c6 65.5px,#e6d8d0 66.5px,#d3dbe8 67.5px,#bdd2f7 68.5px,#bcd2f7 69.5px,#d6dce4 70.5px,#f3c8b3 71.5px,#f7aa8c 72.5px,#f7af91 73.5px,#ebd3c6 74.5px,#b7cff9 75.5px,#7ea1fa 76.5px,#698bef 77.5px,#82a6fb 78.5px,#c0d3f5 79.5px,#f4c5af 80.5px,#e67158 81.5px,#b40426 82.5px,#b40426 85.5px,#c93a37 86.5px,#e67158 87.5px,#f59c7d 88.5px,#f7b497 89.5px,#f7b497 90.5px,#f59c7d 91.5px,#e67158 92.5px,#c93a37 93.5px,#b40426 94.5px,#b40426 97.5px,#e67158 98.5px,#f4c5af 99.5px,#c0d3f5 100.5px,#82a6fb 101.5px,#698bef 102.5px,#7ea1fa 103.5px,#b7cff9 104.5px,#ebd3c6 105.5px,#f7af91 106.5px,#f7aa8c 107.5px,#f3c8b3 108.5px,#d6dce4 109.5px,#bcd2f7 110.5px,#bdd2f7 111.5px,#d3dbe8 112.5px,#e6d8d0 113.5px,#ecd3c6 114.5px,#dbdcde 116.5px,#d7dce3 118.5px,#dddcdc 121.5px,#ddd 223.5px);
--g71:linear-gradient(90deg,#ddd 0.5px,#dbdcde 59.5px,#d6dce4 61.5px,#dbdcdf 62.5px,#ecd3c6 64.5px,#e5d8d1 65.5px,#d1dae9 66.5px,#bbd1f7 67.5px,#bed3f6 68.5px,#dcdddd 69.5px,#f5c1a8 70.5px,#f7a788 71.5px,#f7ba9f 72.5px,#dadce0 73.5px,#9abaff 74.5px,#6d8ff1 75.5px,#7598f6 76.5px,#b1cbfb 77.5px,#f2c9b5 78.5px,#e16651 79.5px,#b40426 80.5px,#b40426 82.5px,#df644f 83.5px,#f4c6af 84.5px,#a9c6fd 85.5px,#4b65d5 86.5px,#3b4cc0 87.5px,#3b4cc0 92.5px,#4b65d5 93.5px,#a9c6fd 94.5px,#f4c6af 95.5px,#df644f 96.5px,#b40426 97.5px,#b40426 99.5px,#e16651 100.5px,#f2c9b5 101.5px,#b1cbfb 102.5px,#7598f6 103.5px,#6d8ff1 104.5px,#9abaff 105.5px,#dadce0 106.5px,#f7ba9f 107.5px,#f7a788 108.5px,#f5c1a8 109.5px,#dcdddd 110.5px,#bed3f6 111.5px,#bbd1f7 112.5px,#d1dae9 113.5px,#e5d8d1 114.5px,#ecd3c6 115.5px,#dbdcdf 117.5px,#d7dce3 119.5px,#dddcdc 122.5px,#ddd 223.5px);
--g72:linear-gradient(90deg,#ddd 0.5px,#dcddde 58.5px,#d6dce4 60.5px,#dadce0 61.5px,#ecd3c6 63.5px,#e6d8d0 64.5px,#d1dae9 65.5px,#bbd1f8 66.5px,#c0d3f5 67.5px,#e0dbd9 68.5px,#f7bca1 69.5px,#f7a788 70.5px,#f5c3ac 71.5px,#c9d8ef 72.5px,#84a8fc 73.5px,#698bef 74.5px,#8fb1fe 75.5px,#dedcdb 76.5px,#ee8568 77.5px,#b40426 78.5px,#b40426 79.5px,#b9142a 80.5px,#f6a082 81.5px,#a9c6fd 82.5px,#3b4cc0 83.5px,#3b4cc0 96.5px,#a9c6fd 97.5px,#f6a082 98.5px,#b9142a 99.5px,#b40426 100.5px,#b40426 101.5px,#ee8568 102.5px,#dedcdb 103.5px,#8fb1fe 104.5px,#698bef 105.5px,#84a8fc 106.5px,#c9d8ef 107.5px,#f5c3ac 108.5px,#f7a788 109.5px,#f7bca1 110.5px,#e0dbd9 111.5px,#c0d3f5 112.5px,#bbd1f8 113.5px,#d1dae9 114.5px,#e6d8d0 115.5px,#ecd3c6 116.5px,#dadce0 118.5px,#d8dce2 120.5px,#dddcdc 123.5px,#ddd 223.5px);
--g73:linear-gradient(90deg,#ddd 0.5px,#dcdddd 57.5px,#d6dce4 59.5px,#d9dce1 60.5px,#ebd3c6 62.5px,#e7d7ce 63.5px,#d2dbe8 64.5px,#bbd1f7 65.5px,#c0d3f5 66.5px,#e1dbd7 67.5px,#f7b99e 68.5px,#f7a789 69.5px,#f2cab5 70.5px,#bcd1f7 71.5px,#789bf7 72.5px,#6e90f2 73.5px,#adc8fd 74.5px,#f6bfa6 75.5px,#c73535 76.5px,#b40426 77.5px,#b40426 78.5px,#f6a182 79.5px,#86a9fc 80.5px,#3b4cc0 81.5px,#3b4cc0 87.5px,#6b8df0 88.5px,#94b6ff 89.5px,#94b6ff 90.5px,#6b8df0 91.5px,#3b4cc0 92.5px,#3b4cc0 98.5px,#86a9fc 99.5px,#f6a182 100.5px,#b40426 101.5px,#b40426 102.5px,#c73535 103.5px,#f6bfa6 104.5px,#adc8fd 105.5px,#6e90f2 106.5px,#789bf7 107.5px,#bcd1f7 108.5px,#f2cab5 109.5px,#f7a789 110.5px,#f7b99e 111.5px,#e1dbd7 112.5px,#c0d3f5 113.5px,#bbd1f7 114.5px,#d2dbe8 115.5px,#e7d7ce 116.5px,#ebd3c6 117.5px,#d9dce1 119.5px,#d8dce2 121.5px,#dddcdd 124.5px,#ddd 223.5px);
--g74:linear-gradient(90deg,#ddd 0.5px,#dddcdc 56.5px,#d6dce4 58.5px,#d8dce2 59.5px,#ebd4c7 61.5px,#e8d6cc 62.5px,#d5dbe5 63.5px,#bdd2f7 64.5px,#bed3f6 65.5px,#dfdbd9 66.5px,#f7ba9f 67.5px,#f7a889 68.5px,#f1ccba 69.5px,#b4cdfb 70.5px,#7295f4 71.5px,#7598f6 72.5px,#c5d6f2 73.5px,#f4997a 74.5px,#b40426 75.5px,#b40426 76.5px,#e06550 77.5px,#b1cbfb 78.5px,#3b4cc0 79.5px,#3b4cc0 83.5px,#b5cdfa 84.5px,#e7755b 85.5px,#b40426 86.5px,#b40426 93.5px,#e7755b 94.5px,#b5cdfa 95.5px,#3b4cc0 96.5px,#3b4cc0 100.5px,#b1cbfb 101.5px,#e06550 102.5px,#b40426 103.5px,#b40426 104.5px,#f4997a 105.5px,#c5d6f2 106.5px,#7598f6 107.5px,#7295f4 108.5px,#b4cdfb 109.5px,#f1ccba 110.5px,#f7a889 111.5px,#f7ba9f 112.5px,#dfdbd9 113.5px,#bed3f6 114.5px,#bdd2f7 115.5px,#d5dbe5 116.5px,#e8d6cc 117.5px,#ebd4c7 118.5px,#d8dce2 120.5px,#d9dce1 122.5px,#ddd 125.5px,#ddd 223.5px);
--g75:linear-gradient(90deg,#ddd 0.5px,#dddcdc 55.5px,#d7dce2 58.5px,#dfdbd9 59.5px,#ead4c9 60.5px,#ead5c9 61.5px,#d9dce1 62.5px,#c0d3f5 63.5px,#bcd1f7 64.5px,#dbdcde 65.5px,#f6bda3 66.5px,#f7a789 67.5px,#f1ccb8 68.5px,#b2ccfb 69.5px,#7092f3 70.5px,#7a9ef8 71.5px,#d3dbe7 72.5px,#e9785e 73.5px,#b40426 74.5px,#b40426 75.5px,#f7b89d 76.5px,#3b4cc0 77.5px,#3b4cc0 80.5px,#465dcf 81.5px,#f59d7e 82.5px,#b40426 83.5px,#b40426 96.5px,#f59d7e 97.5px,#465dcf 98.5px,#3b4cc0 99.5px,#3b4cc0 102.5px,#f7b89d 103.5px,#b40426 104.5px,#b40426 105.5px,#e9785e 106.5px,#d3dbe7 107.5px,#7a9ef8 108.5px,#7092f3 109.5px,#b2ccfb 110.5px,#f1ccb8 111.5px,#f7a789 112.5px,#f6bda3 113.5px,#dbdcde 114.5px,#bcd1f7 115.5px,#c0d3f5 116.5px,#d9dce1 117.5px,#ead5c9 118.5px,#ead4c9 119.5px,#dfdbd9 120.5px,#d7dce2 121.5px,#ddd 126.5px,#ddd 223.5px);
--g76:linear-gradient(90deg,#ddd 0.5px,#dbdcde 55.5px,#d7dce3 57.5px,#ddd 58.5px,#e8d6cc 59.5px,#ebd3c7 60.5px,#dedcdb 61.5px,#c4d6f3 62.5px,#bad0f8 63.5px,#d5dbe5 64.5px,#f5c2aa 65.5px,#f7a788 66.5px,#f3c7b2 67.5px,#b7cff9 68.5px,#7193f3 69.5px,#7b9ff9 70.5px,#d9dce1 71.5px,#e06650 72.5px,#b40426 73.5px,#be222d 74.5px,#d6dce4 75.5px,#3b4cc0 76.5px,#3b4cc0 79.5px,#f4997a 80.5px,#b40426 81.5px,#b40426 86.5px,#bc1d2c 87.5px,#f29274 88.5px,#f6bca2 89.5px,#f6bca2 90.5px,#f29274 91.5px,#bc1d2c 92.5px,#b40426 93.5px,#b40426 98.5px,#f4997a 99.5px,#3b4cc0 100.5px,#3b4cc0 103.5px,#d6dce4 104.5px,#be222d 105.5px,#b40426 106.5px,#e06650 107.5px,#d9dce1 108.5px,#7b9ff9 109.5px,#7193f3 110.5px,#b7cff9 111.5px,#f3c7b2 112.5px,#f7a788 113.5px,#f5c2aa 114.5px,#d5dbe5 115.5px,#bad0f8 116.5px,#c4d6f3 117.5px,#dedcdb 118.5px,#ebd3c7 119.5px,#e8d6cc 120.5px,#ddd 121.5px,#d7dce3 123.5px,#dddcdc 126.5px,#ddd 223.5px);
--g77:linear-gradient(90deg,#ddd 0.5px,#dcdddd 54.5px,#d6dce4 56.5px,#dadcdf 57.5px,#ecd3c5 59.5px,#e3d9d4 60.5px,#cad8ee 61.5px,#b9d0f9 62.5px,#cdd9ec 63.5px,#f2cbb7 64.5px,#f7a889 65.5px,#f6c0a6 66.5px,#c2d4f4 67.5px,#7598f6 68.5px,#779bf7 69.5px,#d6dce4 70.5px,#df644f 71.5px,#b40426 72.5px,#c93936 73.5px,#afcafc 74.5px,#3b4cc0 75.5px,#3b4cc0 77.5px,#bbd1f7 78.5px,#b40426 79.5px,#b40426 83.5px,#f5c2aa 84.5px,#6484eb 85.5px,#3b4cc0 86.5px,#3b4cc0 93.5px,#6484eb 94.5px,#f5c2aa 95.5px,#b40426 96.5px,#b40426 100.5px,#bbd1f7 101.5px,#3b4cc0 102.5px,#3b4cc0 104.5px,#afcafc 105.5px,#c93936 106.5px,#b40426 107.5px,#df644f 108.5px,#d6dce4 109.5px,#779bf7 110.5px,#7598f6 111.5px,#c2d4f4 112.5px,#f6c0a6 113.5px,#f7a889 114.5px,#f2cbb7 115.5px,#cdd9ec 116.5px,#b9d0f9 117.5px,#cad8ee 118.5px,#e3d9d4 119.5px,#ecd3c5 120.5px,#dadcdf 122.5px,#d8dce2 124.5px,#ddd 127.5px,#ddd 223.5px);
--g78:linear-gradient(90deg,#ddd 0.5px,#dddcdc 53.5px,#d6dce4 55.5px,#d8dce1 56.5px,#ebd4c7 58.5px,#e7d6cd 59.5px,#d2dbe8 60.5px,#bad1f8 61.5px,#c4d6f3 62.5px,#ebd4c7 63.5px,#f7ac8e 64.5px,#f7b599 65.5px,#d1dae9 66.5px,#7ea1fa 67.5px,#7093f3 68.5px,#cad8ef 69.5px,#e7735a 70.5px,#b40426 71.5px,#c93a37 72.5px,#9fbfff 73.5px,#3b4cc0 74.5px,#3b4cc0 76.5px,#f59d7e 77.5px,#b40426 78.5px,#b40426 81.5px,#bdd2f7 82.5px,#3b4cc0 83.5px,#3b4cc0 96.5px,#bdd2f7 97.5px,#b40426 98.5px,#b40426 101.5px,#f59d7e 102.5px,#3b4cc0 103.5px,#3b4cc0 105.5px,#9fbfff 106.5px,#c93a37 107.5px,#b40426 108.5px,#e7735a 109.5px,#cad8ef 110.5px,#7093f3 111.5px,#7ea1fa 112.5px,#d1dae9 113.5px,#f7b599 114.5px,#f7ac8e 115.5px,#ebd4c7 116.5px,#c4d6f3 117.5px,#bad1f8 118.5px,#d2dbe8 119.5px,#e7d6cd 120.5px,#ebd4c7 121.5px,#d8dce1 123.5px,#d9dce0 125.5px,#ddd 129.5px,#ddd 223.5px);
--g79:linear-gradient(90deg,#ddd 0.5px,#dbdcdf 53.5px,#d7dce3 55.5px,#dedcdb 56.5px,#e9d5cb 57.5px,#ead4c8 58.5px,#dbdcdf 59.5px,#c0d4f5 60.5px,#bcd2f7 61.5px,#dfdcda 62.5px,#f7b69a 63.5px,#f7ab8d 64.5px,#e3dad4 65.5px,#8fb2fe 66.5px,#6a8cf0 67.5px,#b4cdfa 68.5px,#f29173 69.5px,#b40426 70.5px,#bf252e 71.5px,#afcafc 72.5px,#3b4cc0 73.5px,#3b4cc0 75.5px,#c83736 76.5px,#b40426 77.5px,#b40426 79.5px,#f0cdbb 80.5px,#3b4cc0 81.5px,#3b4cc0 86.5px,#536fdd 87.5px,#a0c0ff 88.5px,#c7d7f0 89.5px,#c7d7f0 90.5px,#a0c0ff 91.5px,#536fdd 92.5px,#3b4cc0 93.5px,#3b4cc0 98.5px,#f0cdbb 99.5px,#b40426 100.5px,#b40426 102.5px,#c83736 103.5px,#3b4cc0 104.5px,#3b4cc0 106.5px,#afcafc 107.5px,#bf252e 108.5px,#b40426 109.5px,#f29173 110.5px,#b4cdfa 111.5px,#6a8cf0 112.5px,#8fb2fe 113.5px,#e3dad4 114.5px,#f7ab8d 115.5px,#f7b69a 116.5px,#dfdcda 117.5px,#bcd2f7 118.5px,#c0d4f5 119.5px,#dbdcdf 120.5px,#ead4c8 121.5px,#e9d5cb 122.5px,#dedcdb 123.5px,#d7dce3 124.5px,#dddcdc 128.5px,#ddd 223.5px);
--g80:linear-gradient(90deg,#ddd 0.5px,#dcdddd 52.5px,#d6dce4 54.5px,#dbdcdf 55.5px,#ecd3c5 57.5px,#e3dad4 58.5px,#c9d8ef 59.5px,#b9d0f9 60.5px,#d1dae9 61.5px,#f4c5ae 62.5px,#f7a788 63.5px,#f1cbb8 64.5px,#a9c6fd 65.5px,#6a8cf0 66.5px,#97b9ff 67.5px,#f7b89c 68.5px,#b40426 69.5px,#b40426 70.5px,#d6dce4 71.5px,#3b4cc0 72.5px,#3b4cc0 74.5px,#b40426 75.5px,#b40426 78.5px,#7598f6 79.5px,#3b4cc0 80.5px,#3b4cc0 83.5px,#98b9ff 84.5px,#e57058 85.5px,#b40426 86.5px,#b40426 93.5px,#e57058 94.5px,#98b9ff 95.5px,#3b4cc0 96.5px,#3b4cc0 99.5px,#7598f6 100.5px,#b40426 101.5px,#b40426 104.5px,#3b4cc0 105.5px,#3b4cc0 107.5px,#d6dce4 108.5px,#b40426 109.5px,#b40426 110.5px,#f7b89c 111.5px,#97b9ff 112.5px,#6a8cf0 113.5px,#a9c6fd 114.5px,#f1cbb8 115.5px,#f7a788 116.5px,#f4c5ae 117.5px,#d1dae9 118.5px,#b9d0f9 119.5px,#c9d8ef 120.5px,#e3dad4 121.5px,#ecd3c5 122.5px,#dbdcdf 124.5px,#d6dce4 125.5px,#ddd 129.5px,#ddd 223.5px);
--g81:linear-gradient(90deg,#ddd 0.5px,#dedcdc 51.5px,#d6dce4 53.5px,#d8dce2 54.5px,#ead4c8 56.5px,#e9d6cb 57.5px,#d5dbe5 58.5px,#bbd1f7 59.5px,#c3d5f4 60.5px,#ead4c8 61.5px,#f7ac8e 62.5px,#f7b89c 63.5px,#c9d8ef 64.5px,#7699f6 65.5px,#7b9ff9 66.5px,#e6d7cf 67.5px,#c12a30 68.5px,#b40426 69.5px,#f7b99d 70.5px,#3b4cc0 71.5px,#3b4cc0 73.5px,#d44f42 74.5px,#b40426 75.5px,#b40426 77.5px,#3b4cc0 78.5px,#3b4cc0 81.5px,#9dbdff 82.5px,#b40426 83.5px,#b40426 96.5px,#9dbdff 97.5px,#3b4cc0 98.5px,#3b4cc0 101.5px,#b40426 102.5px,#b40426 104.5px,#d44f42 105.5px,#3b4cc0 106.5px,#3b4cc0 108.5px,#f7b99d 109.5px,#b40426 110.5px,#c12a30 111.5px,#e6d7cf 112.5px,#7b9ff9 113.5px,#7699f6 114.5px,#c9d8ef 115.5px,#f7b89c 116.5px,#f7ac8e 117.5px,#ead4c8 118.5px,#c3d5f4 119.5px,#bbd1f7 120.5px,#d5dbe5 121.5px,#e9d6cb 122.5px,#ead4c8 123.5px,#d8dce2 125.5px,#dadce0 127.5px,#ddd 132.5px,#ddd 223.5px);
--g82:linear-gradient(90deg,#ddd 0.5px,#dcddde 51.5px,#d6dce4 53.5px,#dcdddd 54.5px,#e7d7ce 55.5px,#ebd3c6 56.5px,#dfdbd9 57.5px,#c5d6f2 58.5px,#bad0f8 59.5px,#d8dce1 60.5px,#f7bca1 61.5px,#f7a98b 62.5px,#e7d7ce 63.5px,#91b4fe 64.5px,#6b8cf0 65.5px,#bcd2f7 66.5px,#e9795f 67.5px,#b40426 68.5px,#e06550 69.5px,#3c4ec2 70.5px,#3b4cc0 72.5px,#f7b99d 73.5px,#b40426 74.5px,#b40426 76.5px,#3b4cc0 77.5px,#3b4cc0 80.5px,#f19072 81.5px,#b40426 82.5px,#b40426 86.5px,#d85646 87.5px,#f5c1a9 88.5px,#dddcdc 89.5px,#dddcdc 90.5px,#f5c1a9 91.5px,#d85646 92.5px,#b40426 93.5px,#b40426 97.5px,#f19072 98.5px,#3b4cc0 99.5px,#3b4cc0 102.5px,#b40426 103.5px,#b40426 105.5px,#f7b99d 106.5px,#3b4cc0 107.5px,#3c4ec2 109.5px,#e06550 110.5px,#b40426 111.5px,#e9795f 112.5px,#bcd2f7 113.5px,#6b8cf0 114.5px,#91b4fe 115.5px,#e7d7ce 116.5px,#f7a98b 117.5px,#f7bca1 118.5px,#d8dce1 119.5px,#bad0f8 120.5px,#c5d6f2 121.5px,#dfdbd9 122.5px,#ebd3c6 123.5px,#e7d7ce 124.5px,#dcdddd 125.5px,#d6dce4 126.5px,#ddd 130.5px,#ddd 223.5px);
--g83:linear-gradient(90deg,#ddd 0.5px,#dddcdc 50.5px,#d6dce4 52.5px,#d9dce1 53.5px,#ebd4c7 55.5px,#e7d6cd 56.5px,#d2dbe8 57.5px,#bad1f8 58.5px,#c6d6f1 59.5px,#eed0c0 60.5px,#f7a98a 61.5px,#f6bfa6 62.5px,#bbd1f8 63.5px,#6e90f2 64.5px,#8caffe 65.5px,#f5c1a9 66.5px,#b40426 67.5px,#b40426 68.5px,#b9d0f9 69.5px,#3b4cc0 70.5px,#3b4cc0 71.5px,#94b5ff 72.5px,#b40426 73.5px,#b40426 75.5px,#4a63d4 76.5px,#3b4cc0 77.5px,#3b4cc0 79.5px,#b40426 80.5px,#b40426 83.5px,#be212d 84.5px,#a5c3fe 85.5px,#3b4cc0 86.5px,#3b4cc0 93.5px,#a5c3fe 94.5px,#be212d 95.5px,#b40426 96.5px,#b40426 99.5px,#3b4cc0 100.5px,#3b4cc0 102.5px,#4a63d4 103.5px,#b40426 104.5px,#b40426 106.5px,#94b5ff 107.5px,#3b4cc0 108.5px,#3b4cc0 109.5px,#b9d0f9 110.5px,#b40426 111.5px,#b40426 112.5px,#f5c1a9 113.5px,#8caffe 114.5px,#6e90f2 115.5px,#bbd1f8 116.5px,#f6bfa6 117.5px,#f7a98a 118.5px,#eed0c0 119.5px,#c6d6f1 120.5px,#bad1f8 121.5px,#d2dbe8 122.5px,#e7d6cd 123.5px,#ebd4c7 124.5px,#d9dce1 126.5px,#dadce0 128.5px,#ddd 132.5px,#ddd 223.5px);
--g84:linear-gradient(90deg,#ddd 0.5px,#dcddde 50.5px,#d7dce4 52.5px,#dddcdd 53.5px,#e8d6cc 54.5px,#ebd3c6 55.5px,#dfdcda 56.5px,#c4d5f3 57.5px,#bad1f8 58.5px,#dadce0 59.5px,#f7ba9f 60.5px,#f7aa8c 61.5px,#e3dad4 62.5px,#8baefd 63.5px,#6d8ff2 64.5px,#cad8ef 65.5px,#dc5d4a 66.5px,#b40426 67.5px,#f49a7b 68.5px,#3b4cc0 69.5px,#3b4cc0 71.5px,#b40426 72.5px,#b40426 74.5px,#b5cefa 75.5px,#3b4cc0 76.5px,#3b4cc0 78.5px,#b40426 79.5px,#b40426 82.5px,#c6d6f1 83.5px,#3b4cc0 84.5px,#3b4cc0 87.5px,#4257ca 88.5px,#5e7ee7 89.5px,#5e7ee7 90.5px,#4257ca 91.5px,#3b4cc0 92.5px,#3b4cc0 95.5px,#c6d6f1 96.5px,#b40426 97.5px,#b40426 100.5px,#3b4cc0 101.5px,#3b4cc0 103.5px,#b5cefa 104.5px,#b40426 105.5px,#b40426 107.5px,#3b4cc0 108.5px,#3b4cc0 110.5px,#f49a7b 111.5px,#b40426 112.5px,#dc5d4a 113.5px,#cad8ef 114.5px,#6d8ff2 115.5px,#8baefd 116.5px,#e3dad4 117.5px,#f7aa8c 118.5px,#f7ba9f 119.5px,#dadce0 120.5px,#bad1f8 121.5px,#c4d5f3 122.5px,#dfdcda 123.5px,#ebd3c6 124.5px,#e8d6cc 125.5px,#dddcdd 126.5px,#d7dce4 127.5px,#ddd 131.5px,#ddd 223.5px);
--g85:linear-gradient(90deg,#ddd 0.5px,#dedcdc 49.5px,#d6dce4 51.5px,#d8dce1 52.5px,#ebd4c7 54.5px,#e8d6cc 55.5px,#d3dbe7 56.5px,#bad1f8 57.5px,#c5d6f2 58.5px,#edd1c2 59.5px,#f7a98b 60.5px,#f6bea4 61.5px,#bdd2f7 62.5px,#6e91f2 63.5px,#8caffe 64.5px,#f6bfa5 65.5px,#b40426 66.5px,#b50827 67.5px,#9cbdff 68.5px,#3b4cc0 69.5px,#3b4cc0 70.5px,#e6d7cf 71.5px,#b40426 72.5px,#b40426 73.5px,#e26953 74.5px,#3b4cc0 75.5px,#3b4cc0 77.5px,#e16751 78.5px,#b40426 79.5px,#b40426 81.5px,#6485eb 82.5px,#3b4cc0 83.5px,#3b4cc0 84.5px,#5977e3 85.5px,#e4d9d3 86.5px,#f5c3ac 87.5px,#edd2c3 88.5px,#e6d8d0 89.5px,#e6d8d0 90.5px,#edd2c3 91.5px,#f5c3ac 92.5px,#e4d9d3 93.5px,#5977e3 94.5px,#3b4cc0 95.5px,#3b4cc0 96.5px,#6485eb 97.5px,#b40426 98.5px,#b40426 100.5px,#e16751 101.5px,#3b4cc0 102.5px,#3b4cc0 104.5px,#e26953 105.5px,#b40426 106.5px,#b40426 107.5px,#e6d7cf 108.5px,#3b4cc0 109.5px,#3b4cc0 110.5px,#9cbdff 111.5px,#b50827 112.5px,#b40426 113.5px,#f6bfa5 114.5px,#8caffe 115.5px,#6e91f2 116.5px,#bdd2f7 117.5px,#f6bea4 118.5px,#f7a98b 119.5px,#edd1c2 120.5px,#c5d6f2 121.5px,#bad1f8 122.5px,#d3dbe7 123.5px,#e8d6cc 124.5px,#ebd4c7 125.5px,#d8dce1 127.5px,#dadce0 129.5px,#ddd 133.5px,#ddd 223.5px);
--g86:linear-gradient(90deg,#ddd 0.5px,#dcdddd 49.5px,#d6dce4 51.5px,#dcddde 52.5px,#e7d7ce 53.5px,#ecd3c6 54.5px,#e1dbd7 55.5px,#c7d7f1 56.5px,#b9d0f9 57.5px,#d5dbe5 58.5px,#f6bfa5 59.5px,#f7a889 60.5px,#e9d5ca 61.5px,#94b6ff 62.5px,#6a8cf0 63.5px,#bfd3f6 64.5px,#e46e56 65.5px,#b40426 66.5px,#f18d6f 67.5px,#3b4cc0 68.5px,#3b4cc0 70.5px,#b40426 71.5px,#b40426 73.5px,#526edc 74.5px,#3b4cc0 75.5px,#3b4cc0 76.5px,#cdd9ed 77.5px,#b40426 78.5px,#b40426 80.5px,#6282ea 81.5px,#3b4cc0 82.5px,#3b4cc0 83.5px,#f3c8b2 84.5px,#b40426 85.5px,#b40426 86.5px,#f18f71 87.5px,#f6bea4 88.5px,#f5c2a9 90.5px,#f6bea4 91.5px,#f18f71 92.5px,#b40426 93.5px,#b40426 94.5px,#f3c8b2 95.5px,#3b4cc0 96.5px,#3b4cc0 97.5px,#6282ea 98.5px,#b40426 99.5px,#b40426 101.5px,#cdd9ed 102.5px,#3b4cc0 103.5px,#3b4cc0 104.5px,#526edc 105.5px,#b40426 106.5px,#b40426 108.5px,#3b4cc0 109.5px,#3b4cc0 111.5px,#f18d6f 112.5px,#b40426 113.5px,#e46e56 114.5px,#bfd3f6 115.5px,#6a8cf0 116.5px,#94b6ff 117.5px,#e9d5ca 118.5px,#f7a889 119.5px,#f6bfa5 120.5px,#d5dbe5 121.5px,#b9d0f9 122.5px,#c7d7f1 123.5px,#e1dbd7 124.5px,#ecd3c6 125.5px,#e7d7ce 126.5px,#dcddde 127.5px,#d6dce4 128.5px,#ddd 132.5px,#ddd 223.5px);
--g87:linear-gradient(90deg,#ddd 0.5px,#dedcdb 48.5px,#d7dce3 50.5px,#d8dce2 51.5px,#ead4c8 53.5px,#ead5c9 54.5px,#d8dce2 55.5px,#bdd2f6 56.5px,#c0d3f5 57.5px,#e6d7cf 58.5px,#f7af91 59.5px,#f7b497 60.5px,#ced9ec 61.5px,#779af7 62.5px,#7ca0f9 63.5px,#ecd3c5 64.5px,#b40426 65.5px,#b40426 66.5px,#cdd9ec 67.5px,#3b4cc0 68.5px,#3b4cc0 69.5px,#c3d5f3 70.5px,#b40426 71.5px,#b40426 72.5px,#e7745a 73.5px,#3b4cc0 74.5px,#3b4cc0 76.5px,#b40426 77.5px,#b40426 79.5px,#c0d4f5 80.5px,#3b4cc0 81.5px,#3b4cc0 82.5px,#ec8064 83.5px,#b40426 84.5px,#b40426 85.5px,#f6a283 86.5px,#ead4c8 87.5px,#f6bea5 88.5px,#f6a485 89.5px,#f6a485 90.5px,#f6bea5 91.5px,#ead4c8 92.5px,#f6a283 93.5px,#b40426 94.5px,#b40426 95.5px,#ec8064 96.5px,#3b4cc0 97.5px,#3b4cc0 98.5px,#c0d4f5 99.5px,#b40426 100.5px,#b40426 102.5px,#3b4cc0 103.5px,#3b4cc0 105.5px,#e7745a 106.5px,#b40426 107.5px,#b40426 108.5px,#c3d5f3 109.5px,#3b4cc0 110.5px,#3b4cc0 111.5px,#cdd9ec 112.5px,#b40426 113.5px,#b40426 114.5px,#ecd3c5 115.5px,#7ca0f9 116.5px,#779af7 117.5px,#ced9ec 118.5px,#f7b497 119.5px,#f7af91 120.5px,#e6d7cf 121.5px,#c0d3f5 122.5px,#bdd2f6 123.5px,#d8dce2 124.5px,#ead5c9 125.5px,#ead4c8 126.5px,#d8dce2 128.5px,#dbdcdf 130.5px,#ddd 142.5px,#ddd 223.5px);
--g88:linear-gradient(90deg,#ddd 0.5px,#dddcdc 48.5px,#d6dce4 50.5px,#dadce0 51.5px,#ecd3c6 53.5px,#e5d8d1 54.5px,#ced9ec 55.5px,#b9d0f9 56.5px,#cbd8ee 57.5px,#f1cbb7 58.5px,#f7a789 59.5px,#f4c6b0 60.5px,#aecafc 61.5px,#6a8cf0 62.5px,#9dbdff 63.5px,#f6a587 64.5px,#b40426 65.5px,#ce433b 66.5px,#516ddb 67.5px,#3b4cc0 68.5px,#3b4cc0 69.5px,#c73735 70.5px,#b40426 71.5px,#b40426 72.5px,#8fb1fe 73.5px,#3b4cc0 74.5px,#3b4cc0 75.5px,#d4dbe7 76.5px,#b40426 77.5px,#b40426 78.5px,#c83936 79.5px,#3b4cc0 80.5px,#3b4cc0 81.5px,#e7d7ce 82.5px,#b40426 83.5px,#b40426 84.5px,#d8dce2 85.5px,#3b4cc0 86.5px,#6384eb 87.5px,#e6d8cf 88.5px,#f7a98b 89.5px,#f7a98b 90.5px,#e6d8cf 91.5px,#6384eb 92.5px,#3b4cc0 93.5px,#d8dce2 94.5px,#b40426 95.5px,#b40426 96.5px,#e7d7ce 97.5px,#3b4cc0 98.5px,#3b4cc0 99.5px,#c83936 100.5px,#b40426 101.5px,#b40426 102.5px,#d4dbe7 103.5px,#3b4cc0 104.5px,#3b4cc0 105.5px,#8fb1fe 106.5px,#b40426 107.5px,#b40426 108.5px,#c73735 109.5px,#3b4cc0 110.5px,#3b4cc0 111.5px,#516ddb 112.5px,#ce433b 113.5px,#b40426 114.5px,#f6a587 115.5px,#9dbdff 116.5px,#6a8cf0 117.5px,#aecafc 118.5px,#f4c6b0 119.5px,#f7a789 120.5px,#f1cbb7 121.5px,#cbd8ee 122.5px,#b9d0f9 123.5px,#ced9ec 124.5px,#e5d8d1 125.5px,#ecd3c6 126.5px,#dadce0 128.5px,#d6dce4 129.5px,#dedcdb 132.5px,#ddd 223.5px);
--g89:linear-gradient(90deg,#ddd 0.5px,#dcdddd 48.5px,#d7dce4 50.5px,#dddcdc 51.5px,#e8d6cc 52.5px,#ebd3c6 53.5px,#dfdbd9 54.5px,#c5d6f2 55.5px,#bad0f8 56.5px,#d7dce3 57.5px,#f6bda3 58.5px,#f7a88a 59.5px,#e8d6cb 60.5px,#93b4fe 61.5px,#6b8df0 62.5px,#c1d4f5 63.5px,#e26a53 64.5px,#b40426 65.5px,#f39677 66.5px,#3b4cc0 67.5px,#3b4cc0 69.5px,#b40426 70.5px,#b40426 72.5px,#3b4cc0 73.5px,#3b4cc0 75.5px,#b50827 76.5px,#b40426 78.5px,#a6c4fe 79.5px,#3b4cc0 80.5px,#445acc 81.5px,#b40426 82.5px,#b40426 83.5px,#e7d7cd 84.5px,#3b4cc0 85.5px,#3b4cc0 86.5px,#7a9df8 87.5px,#f4c6af 88.5px,#f7a789 89.5px,#f7a789 90.5px,#f4c6af 91.5px,#7a9df8 92.5px,#3b4cc0 93.5px,#3b4cc0 94.5px,#e7d7cd 95.5px,#b40426 96.5px,#b40426 97.5px,#445acc 98.5px,#3b4cc0 99.5px,#a6c4fe 100.5px,#b40426 101.5px,#b50827 103.5px,#3b4cc0 104.5px,#3b4cc0 106.5px,#b40426 107.5px,#b40426 109.5px,#3b4cc0 110.5px,#3b4cc0 112.5px,#f39677 113.5px,#b40426 114.5px,#e26a53 115.5px,#c1d4f5 116.5px,#6b8df0 117.5px,#93b4fe 118.5px,#e8d6cb 119.5px,#f7a88a 120.5px,#f6bda3 121.5px,#d7dce3 122.5px,#bad0f8 123.5px,#c5d6f2 124.5px,#dfdbd9 125.5px,#ebd3c6 126.5px,#e8d6cc 127.5px,#dddcdc 128.5px,#d7dce4 129.5px,#ddd 133.5px,#ddd 223.5px);
--g90:linear-gradient(90deg,#ddd 0.5px,#dbdcde 48.5px,#d7dce3 50.5px,#ead4c8 52.5px,#ead5c9 53.5px,#d9dce1 54.5px,#bed3f6 55.5px,#bed3f6 56.5px,#e3dad5 57.5px,#f7b295 58.5px,#f7af92 59.5px,#d7dce3 60.5px,#7fa2fa 61.5px,#7497f5 62.5px,#dddcdc 63.5px,#c43133 64.5px,#b40426 65.5px,#edd2c3 66.5px,#3b4cc0 67.5px,#3b4cc0 68.5px,#8eb1fe 69.5px,#b40426 70.5px,#b40426 71.5px,#d85545 72.5px,#3b4cc0 73.5px,#3b4cc0 75.5px,#b40426 76.5px,#b40426 78.5px,#3b4cc0 79.5px,#3b4cc0 80.5px,#bdd2f7 81.5px,#d1483e 82.5px,#f59b7c 83.5px,#93b5fe 84.5px,#3b4cc0 85.5px,#6b8df0 86.5px,#edd1c2 87.5px,#f6bfa5 88.5px,#f3c7b0 89.5px,#f3c7b0 90.5px,#f6bfa5 91.5px,#edd1c2 92.5px,#6b8df0 93.5px,#3b4cc0 94.5px,#93b5fe 95.5px,#f59b7c 96.5px,#d1483e 97.5px,#bdd2f7 98.5px,#3b4cc0 99.5px,#3b4cc0 100.5px,#b40426 101.5px,#b40426 103.5px,#3b4cc0 104.5px,#3b4cc0 106.5px,#d85545 107.5px,#b40426 108.5px,#b40426 109.5px,#8eb1fe 110.5px,#3b4cc0 111.5px,#3b4cc0 112.5px,#edd2c3 113.5px,#b40426 114.5px,#c43133 115.5px,#dddcdc 116.5px,#7497f5 117.5px,#7fa2fa 118.5px,#d7dce3 119.5px,#f7af92 120.5px,#f7b295 121.5px,#e3dad5 122.5px,#bed3f6 123.5px,#bed3f6 124.5px,#d9dce1 125.5px,#ead5c9 126.5px,#ead4c8 127.5px,#d7dce3 129.5px,#dddcdc 133.5px,#ddd 223.5px);
--g91:linear-gradient(90deg,#ddd 0.5px,#dedcdb 47.5px,#d6dce4 49.5px,#d9dce1 50.5px,#ebd3c6 52.5px,#e7d7cd 53.5px,#d3dbe8 54.5px,#bbd1f8 55.5px,#c4d5f3 56.5px,#ebd4c7 57.5px,#f7ac8e 58.5px,#f7b89d 59.5px,#c7d7f0 60.5px,#7496f5 61.5px,#80a4fb 62.5px,#efcebd 63.5px,#b40426 64.5px,#b40426 65.5px,#c0d3f5 66.5px,#3b4cc0 67.5px,#3b4cc0 68.5px,#e1dad6 69.5px,#b40426 70.5px,#b40426 71.5px,#f5c3ab 72.5px,#3b4cc0 73.5px,#3b4cc0 74.5px,#80a4fb 75.5px,#b40426 76.5px,#b40426 77.5px,#c53133 78.5px,#3b4cc0 79.5px,#3b4cc0 80.5px,#dadcdf 81.5px,#f7b69a 82.5px,#f6bda3 83.5px,#d5dbe5 84.5px,#c0d4f5 85.5px,#f2cab5 86.5px,#f4c5af 87.5px,#e8d6cc 88.5px,#e1dad7 89.5px,#e1dad7 90.5px,#e8d6cc 91.5px,#f4c5af 92.5px,#f2cab5 93.5px,#c0d4f5 94.5px,#d5dbe5 95.5px,#f6bda3 96.5px,#f7b69a 97.5px,#dadcdf 98.5px,#3b4cc0 99.5px,#3b4cc0 100.5px,#c53133 101.5px,#b40426 102.5px,#b40426 103.5px,#80a4fb 104.5px,#3b4cc0 105.5px,#3b4cc0 106.5px,#f5c3ab 107.5px,#b40426 108.5px,#b40426 109.5px,#e1dad6 110.5px,#3b4cc0 111.5px,#3b4cc0 112.5px,#c0d3f5 113.5px,#b40426 114.5px,#b40426 115.5px,#efcebd 116.5px,#80a4fb 117.5px,#7496f5 118.5px,#c7d7f0 119.5px,#f7b89d 120.5px,#f7ac8e 121.5px,#ebd4c7 122.5px,#c4d5f3 123.5px,#bbd1f8 124.5px,#d3dbe8 125.5px,#e7d7cd 126.5px,#ebd3c6 127.5px,#d9dce1 129.5px,#dadce0 131.5px,#ddd 135.5px,#ddd 223.5px);
--g92:linear-gradient(90deg,#ddd 0.5px,#dddcdc 47.5px,#d6dce4 49.5px,#dadce0 50.5px,#ecd3c6 52.5px,#e5d8d1 53.5px,#ced9ec 54.5px,#b9d0f9 55.5px,#c9d7f0 56.5px,#efcebd 57.5px,#f7a88a 58.5px,#f6c0a6 59.5px,#bbd1f7 60.5px,#6e90f2 61.5px,#8baefd 62.5px,#f5c0a7 63.5px,#b40426 64.5px,#b50727 65.5px,#98b9ff 66.5px,#3b4cc0 67.5px,#3b4cc0 68.5px,#f7b397 69.5px,#b40426 70.5px,#b40426 71.5px,#d4dbe6 72.5px,#3b4cc0 73.5px,#3b4cc0 74.5px,#bad1f8 75.5px,#b40426 76.5px,#b40426 77.5px,#f29072 78.5px,#3b4cc0 79.5px,#3b4cc0 80.5px,#dbdcdf 81.5px,#f1ccb8 82.5px,#f7af91 83.5px,#f7b194 86.5px,#edd1c2 87.5px,#dfdcda 88.5px,#dfdcda 91.5px,#edd1c2 92.5px,#f7b194 93.5px,#f7af91 96.5px,#f1ccb8 97.5px,#dbdcdf 98.5px,#3b4cc0 99.5px,#3b4cc0 100.5px,#f29072 101.5px,#b40426 102.5px,#b40426 103.5px,#bad1f8 104.5px,#3b4cc0 105.5px,#3b4cc0 106.5px,#d4dbe6 107.5px,#b40426 108.5px,#b40426 109.5px,#f7b397 110.5px,#3b4cc0 111.5px,#3b4cc0 112.5px,#98b9ff 113.5px,#b50727 114.5px,#b40426 115.5px,#f5c0a7 116.5px,#8baefd 117.5px,#6e90f2 118.5px,#bbd1f7 119.5px,#f6c0a6 120.5px,#f7a88a 121.5px,#efcebd 122.5px,#c9d7f0 123.5px,#b9d0f9 124.5px,#ced9ec 125.5px,#e5d8d1 126.5px,#ecd3c6 127.5px,#dadce0 129.5px,#d6dce4 130.5px,#dddcdc 133.5px,#ddd 223.5px);
--g93:linear-gradient(90deg,#ddd 0.5px,#dddcdc 47.5px,#d6dce4 49.5px,#dadcdf 50.5px,#ecd3c5 52.5px,#e4d9d3 53.5px,#ccd9ed 54.5px,#b9d0f9 55.5px,#cbd8ee 56.5px,#f1ccba 57.5px,#f7a889 58.5px,#f5c2aa 59.5px,#b8cff9 60.5px,#6d8ff1 61.5px,#8fb1fe 62.5px,#f7bca1 63.5px,#b40426 64.5px,#ba172b 65.5px,#8caffe 66.5px,#3b4cc0 67.5px,#3b4cc0 68.5px,#f6a485 69.5px,#b40426 70.5px,#b40426 71.5px,#c9d7f0 72.5px,#3b4cc0 73.5px,#3b4cc0 74.5px,#c7d7f1 75.5px,#b40426 76.5px,#b40426 77.5px,#f6a183 78.5px,#3b4cc0 79.5px,#3b4cc0 80.5px,#dbdcde 81.5px,#f1ccba 82.5px,#f7ab8d 83.5px,#f6a384 84.5px,#f7a688 85.5px,#f7b295 86.5px,#ead4c8 87.5px,#dedcdb 88.5px,#dedcdb 91.5px,#ead4c8 92.5px,#f7b295 93.5px,#f7a688 94.5px,#f6a384 95.5px,#f7ab8d 96.5px,#f1ccba 97.5px,#dbdcde 98.5px,#3b4cc0 99.5px,#3b4cc0 100.5px,#f6a183 101.5px,#b40426 102.5px,#b40426 103.5px,#c7d7f1 104.5px,#3b4cc0 105.5px,#3b4cc0 106.5px,#c9d7f0 107.5px,#b40426 108.5px,#b40426 109.5px,#f6a485 110.5px,#3b4cc0 111.5px,#3b4cc0 112.5px,#8caffe 113.5px,#ba172b 114.5px,#b40426 115.5px,#f7bca1 116.5px,#8fb1fe 117.5px,#6d8ff1 118.5px,#b8cff9 119.5px,#f5c2aa 120.5px,#f7a889 121.5px,#f1ccba 122.5px,#cbd8ee 123.5px,#b9d0f9 124.5px,#ccd9ed 125.5px,#e4d9d3 126.5px,#ecd3c5 127.5px,#dadcdf 129.5px,#d6dce4 130.5px,#dedcdb 133.5px,#ddd 223.5px);
--g94:linear-gradient(90deg,#ddd 0.5px,#dddcdc 47.5px,#d6dce4 49.5px,#d9dce0 50.5px,#ebd3c6 52.5px,#e6d8d0 53.5px,#d0daea 54.5px,#bad0f8 55.5px,#c7d7f1 56.5px,#eed0c0 57.5px,#f7a98b 58.5px,#f6bda3 59.5px,#c0d3f5 60.5px,#7092f3 61.5px,#88abfc 62.5px,#f4c5af 63.5px,#b40426 64.5px,#b40426 65.5px,#a6c4fe 66.5px,#3b4cc0 67.5px,#3b4cc0 68.5px,#f5c3ac 69.5px,#b40426 70.5px,#b40426 71.5px,#e2dad6 72.5px,#3b4cc0 73.5px,#3b4cc0 74.5px,#a9c6fd 75.5px,#b40426 76.5px,#b40426 77.5px,#e8775d 78.5px,#3b4cc0 79.5px,#3b4cc0 80.5px,#dbdcdf 81.5px,#f3c8b2 82.5px,#f7b599 83.5px,#f5c2aa 84.5px,#f4c5af 85.5px,#f7b498 86.5px,#f0cdbc 87.5px,#e1dad7 88.5px,#dddcdc 90.5px,#e1dad7 91.5px,#f0cdbc 92.5px,#f7b498 93.5px,#f4c5af 94.5px,#f5c2aa 95.5px,#f7b599 96.5px,#f3c8b2 97.5px,#dbdcdf 98.5px,#3b4cc0 99.5px,#3b4cc0 100.5px,#e8775d 101.5px,#b40426 102.5px,#b40426 103.5px,#a9c6fd 104.5px,#3b4cc0 105.5px,#3b4cc0 106.5px,#e2dad6 107.5px,#b40426 108.5px,#b40426 109.5px,#f5c3ac 110.5px,#3b4cc0 111.5px,#3b4cc0 112.5px,#a6c4fe 113.5px,#b40426 114.5px,#b40426 115.5px,#f4c5af 116.5px,#88abfc 117.5px,#7092f3 118.5px,#c0d3f5 119.5px,#f6bda3 120.5px,#f7a98b 121.5px,#eed0c0 122.5px,#c7d7f1 123.5px,#bad0f8 124.5px,#d0daea 125.5px,#e6d8d0 126.5px,#ebd3c6 127.5px,#d9dce0 129.5px,#d6dce4 130.5px,#dddcdc 133.5px,#ddd 223.5px);
--g95:linear-gradient(90deg,#ddd 0.5px,#dedcdb 47.5px,#d6dce4 49.5px,#d8dce2 50.5px,#ebd4c7 52.5px,#e8d6cc 53.5px,#d5dbe5 54.5px,#bcd1f7 55.5px,#c1d4f4 56.5px,#e8d6cc 57.5px,#f7ae90 58.5px,#f7b598 59.5px,#ced9ec 60.5px,#779bf7 61.5px,#7b9ff9 62.5px,#ead4c9 63.5px,#b50627 64.5px,#b40426 65.5px,#d3dbe8 66.5px,#3b4cc0 67.5px,#3b4cc0 68.5px,#c7d7f1 69.5px,#b40426 70.5px,#b40426 71.5px,#f6a385 72.5px,#3b4cc0 73.5px,#3b4cc0 74.5px,#5f7ee7 75.5px,#b40426 76.5px,#b40426 78.5px,#3b4cc0 79.5px,#3b4cc0 80.5px,#d6dce4 81.5px,#f49b7c 82.5px,#f7bba0 83.5px,#b2ccfb 84.5px,#7396f5 85.5px,#d8dce2 86.5px,#f5c3ab 87.5px,#e7d6cd 89.5px,#e7d6cd 90.5px,#f5c3ab 92.5px,#d8dce2 93.5px,#7396f5 94.5px,#b2ccfb 95.5px,#f7bba0 96.5px,#f49b7c 97.5px,#d6dce4 98.5px,#3b4cc0 99.5px,#3b4cc0 100.5px,#b40426 101.5px,#b40426 103.5px,#5f7ee7 104.5px,#3b4cc0 105.5px,#3b4cc0 106.5px,#f6a385 107.5px,#b40426 108.5px,#b40426 109.5px,#c7d7f1 110.5px,#3b4cc0 111.5px,#3b4cc0 112.5px,#d3dbe8 113.5px,#b40426 114.5px,#b50627 115.5px,#ead4c9 116.5px,#7b9ff9 117.5px,#779bf7 118.5px,#ced9ec 119.5px,#f7b598 120.5px,#f7ae90 121.5px,#e8d6cc 122.5px,#c1d4f4 123.5px,#bcd1f7 124.5px,#d5dbe5 125.5px,#e8d6cc 126.5px,#ebd4c7 127.5px,#d8dce2 129.5px,#dadcdf 131.5px,#ddd 136.5px,#ddd 223.5px);
--g96:linear-gradient(90deg,#ddd 0.5px,#dcdcde 48.5px,#d7dce3 50.5px,#dfdcda 51.5px,#e9d5c9 52.5px,#ead4c8 53.5px,#dbdcde 54.5px,#c1d4f5 55.5px,#bcd1f7 56.5px,#dedcdb 57.5px,#f7b69a 58.5px,#f7ac8e 59.5px,#dedcdb 60.5px,#86a9fc 61.5px,#6f92f3 62.5px,#d3dbe7 63.5px,#d0473e 64.5px,#b40426 65.5px,#f6bfa5 66.5px,#3b4cc0 67.5px,#3b4cc0 68.5px,#6181e9 69.5px,#b40426 70.5px,#b40426 72.5px,#3b4cc0 73.5px,#3b4cc0 75.5px,#b40426 76.5px,#b40426 78.5px,#3f52c6 79.5px,#3b4cc0 80.5px,#98b9ff 81.5px,#b40426 82.5px,#dd5f4c 83.5px,#a2c1ff 84.5px,#3b4cc0 85.5px,#3b4cc0 86.5px,#d0daea 87.5px,#f7b99e 88.5px,#f7b99e 91.5px,#d0daea 92.5px,#3b4cc0 93.5px,#3b4cc0 94.5px,#a2c1ff 95.5px,#dd5f4c 96.5px,#b40426 97.5px,#98b9ff 98.5px,#3b4cc0 99.5px,#3f52c6 100.5px,#b40426 101.5px,#b40426 103.5px,#3b4cc0 104.5px,#3b4cc0 106.5px,#b40426 107.5px,#b40426 109.5px,#6181e9 110.5px,#3b4cc0 111.5px,#3b4cc0 112.5px,#f6bfa5 113.5px,#b40426 114.5px,#d0473e 115.5px,#d3dbe7 116.5px,#6f92f3 117.5px,#86a9fc 118.5px,#dedcdb 119.5px,#f7ac8e 120.5px,#f7b69a 121.5px,#dedcdb 122.5px,#bcd1f7 123.5px,#c1d4f5 124.5px,#dbdcde 125.5px,#ead4c8 126.5px,#e9d5c9 127.5px,#dfdcda 128.5px,#d7dce3 129.5px,#ddd 133.5px,#ddd 223.5px);
--g97:linear-gradient(90deg,#ddd 0.5px,#ddd 48.5px,#d6dce4 50.5px,#dcdcde 51.5px,#e7d7ce 52.5px,#ecd3c6 53.5px,#e2dad6 54.5px,#c8d7f0 55.5px,#b9d0f9 56.5px,#d2dbe8 57.5px,#f5c3ab 58.5px,#f7a788 59.5px,#eed0c1 60.5px,#9dbdff 61.5px,#698bef 62.5px,#b2ccfb 63.5px,#ed8266 64.5px,#b40426 65.5px,#e8755c 66.5px,#3b4cc0 67.5px,#3b4cc0 69.5px,#b40426 70.5px,#b40426 72.5px,#3b4cc0 73.5px,#3b4cc0 75.5px,#ed8467 76.5px,#b40426 77.5px,#b40426 78.5px,#ebd4c7 79.5px,#3b4cc0 80.5px,#3b4cc0 81.5px,#d65244 82.5px,#b40426 83.5px,#ef886b 84.5px,#3b4cc0 85.5px,#3b4cc0 86.5px,#516ddb 87.5px,#ecd2c5 88.5px,#f7a889 89.5px,#f7a889 90.5px,#ecd2c5 91.5px,#516ddb 92.5px,#3b4cc0 93.5px,#3b4cc0 94.5px,#ef886b 95.5px,#b40426 96.5px,#d65244 97.5px,#3b4cc0 98.5px,#3b4cc0 99.5px,#ebd4c7 100.5px,#b40426 101.5px,#b40426 102.5px,#ed8467 103.5px,#3b4cc0 104.5px,#3b4cc0 106.5px,#b40426 107.5px,#b40426 109.5px,#3b4cc0 110.5px,#3b4cc0 112.5px,#e8755c 113.5px,#b40426 114.5px,#ed8266 115.5px,#b2ccfb 116.5px,#698bef 117.5px,#9dbdff 118.5px,#eed0c1 119.5px,#f7a788 120.5px,#f5c3ab 121.5px,#d2dbe8 122.5px,#b9d0f9 123.5px,#c8d7f0 124.5px,#e2dad6 125.5px,#ecd3c6 126.5px,#e7d7ce 127.5px,#dcdcde 128.5px,#d6dce4 129.5px,#dedcdb 132.5px,#ddd 223.5px);
--g98:linear-gradient(90deg,#ddd 0.5px,#dddcdc 48.5px,#d6dce4 50.5px,#d9dce1 51.5px,#ebd3c6 53.5px,#e7d7cd 54.5px,#d2dbe8 55.5px,#bad1f8 56.5px,#c6d6f1 57.5px,#eed0c1 58.5px,#f7a98b 59.5px,#f6bfa5 60.5px,#bbd1f8 61.5px,#6e90f2 62.5px,#8fb1fe 63.5px,#f7bba0 64.5px,#b40426 65.5px,#bd1f2d 66.5px,#83a6fb 67.5px,#3b4cc0 68.5px,#3b4cc0 69.5px,#f59b7d 70.5px,#b40426 71.5px,#b40426 72.5px,#d7dce4 73.5px,#3b4cc0 74.5px,#3b4cc0 75.5px,#82a5fb 76.5px,#b40426 77.5px,#b40426 79.5px,#3b4cc0 80.5px,#3b4cc0 81.5px,#82a5fb 82.5px,#b40426 83.5px,#b40426 84.5px,#ea7b60 85.5px,#a4c2fe 86.5px,#9dbdff 87.5px,#edd1c1 88.5px,#f6a587 89.5px,#f6a587 90.5px,#edd1c1 91.5px,#9dbdff 92.5px,#a4c2fe 93.5px,#ea7b60 94.5px,#b40426 95.5px,#b40426 96.5px,#82a5fb 97.5px,#3b4cc0 98.5px,#3b4cc0 99.5px,#b40426 100.5px,#b40426 102.5px,#82a5fb 103.5px,#3b4cc0 104.5px,#3b4cc0 105.5px,#d7dce4 106.5px,#b40426 107.5px,#b40426 108.5px,#f59b7d 109.5px,#3b4cc0 110.5px,#3b4cc0 111.5px,#83a6fb 112.5px,#bd1f2d 113.5px,#b40426 114.5px,#f7bba0 115.5px,#8fb1fe 116.5px,#6e90f2 117.5px,#bbd1f8 118.5px,#f6bfa5 119.5px,#f7a98b 120.5px,#eed0c1 121.5px,#c6d6f1 122.5px,#bad1f8 123.5px,#d2dbe8 124.5px,#e7d7cd 125.5px,#ebd3c6 126.5px,#d9dce1 128.5px,#dadce0 130.5px,#ddd 133.5px,#ddd 223.5px);
--g99:linear-gradient(90deg,#ddd 0.5px,#dbdcde 49.5px,#d7dce3 51.5px,#dfdcda 52.5px,#e9d5ca 53.5px,#ebd4c7 54.5px,#dbdcde 55.5px,#c1d4f5 56.5px,#bcd2f7 57.5px,#e0dbd9 58.5px,#f7b498 59.5px,#f7ae90 60.5px,#dadce0 61.5px,#81a4fb 62.5px,#7396f5 63.5px,#dcddde 64.5px,#c63434 65.5px,#b40426 66.5px,#f0cebc 67.5px,#3b4cc0 68.5px,#3b4cc0 69.5px,#7194f4 70.5px,#b40426 71.5px,#b40426 73.5px,#3b4cc0 74.5px,#3b4cc0 76.5px,#cf463d 77.5px,#b40426 78.5px,#b40426 79.5px,#f4997a 80.5px,#3b4cc0 81.5px,#3b4cc0 82.5px,#b2ccfb 83.5px,#b40426 84.5px,#b40426 85.5px,#ca3c38 86.5px,#f7b599 87.5px,#f7b99d 88.5px,#f7ac8e 89.5px,#f7ac8e 90.5px,#f7b99d 91.5px,#f7b599 92.5px,#ca3c38 93.5px,#b40426 94.5px,#b40426 95.5px,#b2ccfb 96.5px,#3b4cc0 97.5px,#3b4cc0 98.5px,#f4997a 99.5px,#b40426 100.5px,#b40426 101.5px,#cf463d 102.5px,#3b4cc0 103.5px,#3b4cc0 105.5px,#b40426 106.5px,#b40426 108.5px,#7194f4 109.5px,#3b4cc0 110.5px,#3b4cc0 111.5px,#f0cebc 112.5px,#b40426 113.5px,#c63434 114.5px,#dcddde 115.5px,#7396f5 116.5px,#81a4fb 117.5px,#dadce0 118.5px,#f7ae90 119.5px,#f7b498 120.5px,#e0dbd9 121.5px,#bcd2f7 122.5px,#c1d4f5 123.5px,#dbdcde 124.5px,#ebd4c7 125.5px,#e9d5ca 126.5px,#dfdcda 127.5px,#d7dce3 128.5px,#ddd 132.5px,#ddd 223.5px);
--g100:linear-gradient(90deg,#ddd 0.5px,#dddcdc 49.5px,#d6dce4 51.5px,#dadcdf 52.5px,#ecd3c6 54.5px,#e4d9d2 55.5px,#ccd9ee 56.5px,#b9d0f9 57.5px,#cfdaeb 58.5px,#f4c6b0 59.5px,#f7a788 60.5px,#f1ccba 61.5px,#a3c2fe 62.5px,#698bef 63.5px,#aac6fd 64.5px,#f29173 65.5px,#b40426 66.5px,#db5c49 67.5px,#3b4cc0 68.5px,#3b4cc0 70.5px,#be212d 71.5px,#b40426 72.5px,#b40426 73.5px,#b9d0f9 74.5px,#3b4cc0 75.5px,#3b4cc0 76.5px,#5a78e3 77.5px,#b40426 78.5px,#b40426 80.5px,#e7d7ce 81.5px,#3b4cc0 82.5px,#3b4cc0 83.5px,#607fe8 84.5px,#ee8569 85.5px,#b60927 86.5px,#ef886a 87.5px,#f4c5ad 88.5px,#f0cebc 89.5px,#f0cebc 90.5px,#f4c5ad 91.5px,#ef886a 92.5px,#b60927 93.5px,#ee8569 94.5px,#607fe8 95.5px,#3b4cc0 96.5px,#3b4cc0 97.5px,#e7d7ce 98.5px,#b40426 99.5px,#b40426 101.5px,#5a78e3 102.5px,#3b4cc0 103.5px,#3b4cc0 104.5px,#b9d0f9 105.5px,#b40426 106.5px,#b40426 107.5px,#be212d 108.5px,#3b4cc0 109.5px,#3b4cc0 111.5px,#db5c49 112.5px,#b40426 113.5px,#f29173 114.5px,#aac6fd 115.5px,#698bef 116.5px,#a3c2fe 117.5px,#f1ccba 118.5px,#f7a788 119.5px,#f4c6b0 120.5px,#cfdaeb 121.5px,#b9d0f9 122.5px,#ccd9ee 123.5px,#e4d9d2 124.5px,#ecd3c6 125.5px,#dadcdf 127.5px,#d6dce4 128.5px,#dedcdb 131.5px,#ddd 223.5px);
--g101:linear-gradient(90deg,#ddd 0.5px,#dedcdb 49.5px,#d8dce2 52.5px,#ead4c9 54.5px,#ead5c9 55.5px,#d8dce2 56.5px,#bdd2f6 57.5px,#c0d3f5 58.5px,#e6d7cf 59.5px,#f7ae91 60.5px,#f7b598 61.5px,#cdd9ec 62.5px,#779af7 63.5px,#7ca0f9 64.5px,#ebd4c7 65.5px,#b40526 66.5px,#b40426 67.5px,#dadcdf 68.5px,#3b4cc0 69.5px,#3b4cc0 70.5px,#85a8fc 71.5px,#b40426 72.5px,#b40426 74.5px,#3b4cc0 75.5px,#3b4cc0 77.5px,#d4dbe7 78.5px,#b40426 79.5px,#b40426 81.5px,#f2cab5 82.5px,#3b4cc0 83.5px,#3b4cc0 85.5px,#6282ea 86.5px,#bad1f8 87.5px,#d0daea 88.5px,#d4dbe6 90.5px,#d0daea 91.5px,#bad1f8 92.5px,#6282ea 93.5px,#3b4cc0 94.5px,#3b4cc0 96.5px,#f2cab5 97.5px,#b40426 98.5px,#b40426 100.5px,#d4dbe7 101.5px,#3b4cc0 102.5px,#3b4cc0 104.5px,#b40426 105.5px,#b40426 107.5px,#85a8fc 108.5px,#3b4cc0 109.5px,#3b4cc0 110.5px,#dadcdf 111.5px,#b40426 112.5px,#b40526 113.5px,#ebd4c7 114.5px,#7ca0f9 115.5px,#779af7 116.5px,#cdd9ec 117.5px,#f7b598 118.5px,#f7ae91 119.5px,#e6d7cf 120.5px,#c0d3f5 121.5px,#bdd2f6 122.5px,#d8dce2 123.5px,#ead5c9 124.5px,#ead4c9 125.5px,#d8dce2 127.5px,#dddcdc 131.5px,#ddd 223.5px);
--g102:linear-gradient(90deg,#ddd 0.5px,#ddd 50.5px,#d6dce4 52.5px,#dbdcdf 53.5px,#ecd3c5 55.5px,#e3dad4 56.5px,#c9d8ef 57.5px,#b9d0f9 58.5px,#d2dbe8 59.5px,#f5c3ab 60.5px,#f7a788 61.5px,#eed0c1 62.5px,#9dbdff 63.5px,#698bef 64.5px,#b0cbfc 65.5px,#f08a6c 66.5px,#b40426 67.5px,#db5c4a 68.5px,#3e51c4 69.5px,#3b4cc0 71.5px,#eb7e62 72.5px,#b40426 73.5px,#b40426 74.5px,#f49a7b 75.5px,#3b4cc0 76.5px,#3b4cc0 78.5px,#f3c7b1 79.5px,#b40426 80.5px,#b40426 82.5px,#ca3c38 83.5px,#698bef 84.5px,#3b4cc0 85.5px,#3b4cc0 94.5px,#698bef 95.5px,#ca3c38 96.5px,#b40426 97.5px,#b40426 99.5px,#f3c7b1 100.5px,#3b4cc0 101.5px,#3b4cc0 103.5px,#f49a7b 104.5px,#b40426 105.5px,#b40426 106.5px,#eb7e62 107.5px,#3b4cc0 108.5px,#3e51c4 110.5px,#db5c4a 111.5px,#b40426 112.5px,#f08a6c 113.5px,#b0cbfc 114.5px,#698bef 115.5px,#9dbdff 116.5px,#eed0c1 117.5px,#f7a788 118.5px,#f5c3ab 119.5px,#d2dbe8 120.5px,#b9d0f9 121.5px,#c9d8ef 122.5px,#e3dad4 123.5px,#ecd3c5 124.5px,#dbdcdf 126.5px,#d6dce4 127.5px,#dedcdb 130.5px,#ddd 223.5px);
--g103:linear-gradient(90deg,#ddd 0.5px,#dedcdb 50.5px,#d8dce2 53.5px,#ead5c9 55.5px,#ead5c9 56.5px,#d8dce2 57.5px,#bdd2f7 58.5px,#c0d4f5 59.5px,#e7d7ce 60.5px,#f7ae91 61.5px,#f7b498 62.5px,#ced9eb 63.5px,#789bf7 64.5px,#7a9df8 65.5px,#e6d8d0 66.5px,#be232e 67.5px,#b40426 68.5px,#f2cab6 69.5px,#3b4cc0 70.5px,#3b4cc0 72.5px,#b40426 73.5px,#b40426 75.5px,#d6dce5 76.5px,#3b4cc0 77.5px,#3b4cc0 79.5px,#e6d7cf 80.5px,#b40426 81.5px,#b40426 84.5px,#d65344 85.5px,#b8cff9 86.5px,#3b4cc0 87.5px,#3b4cc0 92.5px,#b8cff9 93.5px,#d65344 94.5px,#b40426 95.5px,#b40426 98.5px,#e6d7cf 99.5px,#3b4cc0 100.5px,#3b4cc0 102.5px,#d6dce5 103.5px,#b40426 104.5px,#b40426 106.5px,#3b4cc0 107.5px,#3b4cc0 109.5px,#f2cab6 110.5px,#b40426 111.5px,#be232e 112.5px,#e6d8d0 113.5px,#7a9df8 114.5px,#789bf7 115.5px,#ced9eb 116.5px,#f7b498 117.5px,#f7ae91 118.5px,#e7d7ce 119.5px,#c0d4f5 120.5px,#bdd2f7 121.5px,#d8dce2 122.5px,#ead5c9 123.5px,#ead5c9 124.5px,#d8dce2 126.5px,#dddcdc 130.5px,#ddd 223.5px);
--g104:linear-gradient(90deg,#ddd 0.5px,#ddd 51.5px,#d6dce4 53.5px,#dadcdf 54.5px,#ecd3c6 56.5px,#e4d9d3 57.5px,#cbd8ee 58.5px,#b9d0f9 59.5px,#cfdaeb 60.5px,#f4c6b0 61.5px,#f7a788 62.5px,#f1cbb8 63.5px,#a7c5fe 64.5px,#6a8bef 65.5px,#9fbeff 66.5px,#f7a98b 67.5px,#b40426 68.5px,#bd212d 69.5px,#9abbff 70.5px,#3b4cc0 71.5px,#3b4cc0 72.5px,#8caffe 73.5px,#b40426 74.5px,#b40426 76.5px,#b8cff9 77.5px,#3b4cc0 78.5px,#3b4cc0 80.5px,#89acfd 81.5px,#b40426 82.5px,#b40426 97.5px,#89acfd 98.5px,#3b4cc0 99.5px,#3b4cc0 101.5px,#b8cff9 102.5px,#b40426 103.5px,#b40426 105.5px,#8caffe 106.5px,#3b4cc0 107.5px,#3b4cc0 108.5px,#9abbff 109.5px,#bd212d 110.5px,#b40426 111.5px,#f7a98b 112.5px,#9fbeff 113.5px,#6a8bef 114.5px,#a7c5fe 115.5px,#f1cbb8 116.5px,#f7a788 117.5px,#f4c6b0 118.5px,#cfdaeb 119.5px,#b9d0f9 120.5px,#cbd8ee 121.5px,#e4d9d3 122.5px,#ecd3c6 123.5px,#dadcdf 125.5px,#d6dce4 126.5px,#dedcdb 129.5px,#ddd 223.5px);
--g105:linear-gradient(90deg,#ddd 0.5px,#dbdcdf 52.5px,#d7dce3 54.5px,#dedcdb 55.5px,#e9d5cb 56.5px,#ebd4c7 57.5px,#dbdcdf 58.5px,#c0d4f5 59.5px,#bdd2f7 60.5px,#e0dbd8 61.5px,#f7b498 62.5px,#f7ad90 63.5px,#dddcdd 64.5px,#86aafc 65.5px,#6e90f2 66.5px,#c8d7f0 67.5px,#e26953 68.5px,#b40426 69.5px,#e36b54 70.5px,#4055c8 71.5px,#3b4cc0 72.5px,#3b4cc0 73.5px,#d2dbe8 74.5px,#b40426 75.5px,#b40426 77.5px,#d1dae9 78.5px,#3b4cc0 79.5px,#3b4cc0 82.5px,#dddcdc 83.5px,#b40426 84.5px,#b40426 95.5px,#dddcdc 96.5px,#3b4cc0 97.5px,#3b4cc0 100.5px,#d1dae9 101.5px,#b40426 102.5px,#b40426 104.5px,#d2dbe8 105.5px,#3b4cc0 106.5px,#3b4cc0 107.5px,#4055c8 108.5px,#e36b54 109.5px,#b40426 110.5px,#e26953 111.5px,#c8d7f0 112.5px,#6e90f2 113.5px,#86aafc 114.5px,#dddcdd 115.5px,#f7ad90 116.5px,#f7b498 117.5px,#e0dbd8 118.5px,#bdd2f7 119.5px,#c0d4f5 120.5px,#dbdcdf 121.5px,#ebd4c7 122.5px,#e9d5cb 123.5px,#dedcdb 124.5px,#d7dce3 125.5px,#dddcdc 129.5px,#ddd 223.5px);
--g106:linear-gradient(90deg,#ddd 0.5px,#dddcdc 52.5px,#d6dce4 54.5px,#d9dce1 55.5px,#ebd3c6 57.5px,#e7d7ce 58.5px,#d1dae9 59.5px,#bad0f8 60.5px,#c7d7f1 61.5px,#eed0c0 62.5px,#f7a98b 63.5px,#f6bda2 64.5px,#c3d5f4 65.5px,#7396f5 66.5px,#7ea1fa 67.5px,#e7d7cd 68.5px,#c32e32 69.5px,#b40426 70.5px,#f6a283 71.5px,#3b4cc0 72.5px,#3b4cc0 74.5px,#e3d9d4 75.5px,#b40426 76.5px,#b40426 78.5px,#f6a587 79.5px,#3b4cc0 80.5px,#3b4cc0 84.5px,#85a8fc 85.5px,#f7b497 86.5px,#b40426 87.5px,#b40426 92.5px,#f7b497 93.5px,#85a8fc 94.5px,#3b4cc0 95.5px,#3b4cc0 99.5px,#f6a587 100.5px,#b40426 101.5px,#b40426 103.5px,#e3d9d4 104.5px,#3b4cc0 105.5px,#3b4cc0 107.5px,#f6a283 108.5px,#b40426 109.5px,#c32e32 110.5px,#e7d7cd 111.5px,#7ea1fa 112.5px,#7396f5 113.5px,#c3d5f4 114.5px,#f6bda2 115.5px,#f7a98b 116.5px,#eed0c0 117.5px,#c7d7f1 118.5px,#bad0f8 119.5px,#d1dae9 120.5px,#e7d7ce 121.5px,#ebd3c6 122.5px,#d9dce1 124.5px,#d9dce0 126.5px,#ddd 130.5px,#ddd 223.5px);
--g107:linear-gradient(90deg,#ddd 0.5px,#dcddde 53.5px,#d6dce4 55.5px,#dbdcde 56.5px,#ecd3c6 58.5px,#e1dbd7 59.5px,#c7d7f1 60.5px,#b9d0f9 61.5px,#d3dbe7 62.5px,#f5c3ab 63.5px,#f7a788 64.5px,#f1ccb9 65.5px,#a9c6fd 66.5px,#6b8cf0 67.5px,#92b4fe 68.5px,#f5c3aa 69.5px,#b40426 70.5px,#b40426 71.5px,#f6bfa6 72.5px,#3b4cc0 73.5px,#3b4cc0 75.5px,#cbd9ee 76.5px,#b40426 77.5px,#b40426 80.5px,#9abbff 81.5px,#3b4cc0 82.5px,#3b4cc0 97.5px,#9abbff 98.5px,#b40426 99.5px,#b40426 102.5px,#cbd9ee 103.5px,#3b4cc0 104.5px,#3b4cc0 106.5px,#f6bfa6 107.5px,#b40426 108.5px,#b40426 109.5px,#f5c3aa 110.5px,#92b4fe 111.5px,#6b8cf0 112.5px,#a9c6fd 113.5px,#f1ccb9 114.5px,#f7a788 115.5px,#f5c3ab 116.5px,#d3dbe7 117.5px,#b9d0f9 118.5px,#c7d7f1 119.5px,#e1dbd7 120.5px,#ecd3c6 121.5px,#dbdcde 123.5px,#d6dce4 124.5px,#ddd 128.5px,#ddd 223.5px);
--g108:linear-gradient(90deg,#ddd 0.5px,#dedcdb 53.5px,#d7dce3 56.5px,#dedcda 57.5px,#e9d5ca 58.5px,#ead4c8 59.5px,#dadce0 60.5px,#bfd3f5 61.5px,#bdd2f7 62.5px,#dfdcda 63.5px,#f7b79b 64.5px,#f7aa8c 65.5px,#e6d7cf 66.5px,#96b8ff 67.5px,#698bef 68.5px,#a3c2fe 69.5px,#f7b093 70.5px,#b40426 71.5px,#b40426 72.5px,#f4c5ae 73.5px,#3b4cc0 74.5px,#3b4cc0 76.5px,#7c9ff9 77.5px,#b40426 78.5px,#b40426 81.5px,#bb192b 82.5px,#a0bfff 83.5px,#3b4cc0 84.5px,#3b4cc0 95.5px,#a0bfff 96.5px,#bb192b 97.5px,#b40426 98.5px,#b40426 101.5px,#7c9ff9 102.5px,#3b4cc0 103.5px,#3b4cc0 105.5px,#f4c5ae 106.5px,#b40426 107.5px,#b40426 108.5px,#f7b093 109.5px,#a3c2fe 110.5px,#698bef 111.5px,#96b8ff 112.5px,#e6d7cf 113.5px,#f7aa8c 114.5px,#f7b79b 115.5px,#dfdcda 116.5px,#bdd2f7 117.5px,#bfd3f5 118.5px,#dadce0 119.5px,#ead4c8 120.5px,#e9d5ca 121.5px,#dedcda 122.5px,#d7dce3 123.5px,#dddcdc 127.5px,#ddd 223.5px);
--g109:linear-gradient(90deg,#ddd 0.5px,#dddcdc 54.5px,#d6dce4 56.5px,#d8dce1 57.5px,#ebd3c7 59.5px,#e7d6cd 60.5px,#d3dbe7 61.5px,#bbd1f8 62.5px,#c3d5f4 63.5px,#e8d6cb 64.5px,#f7af91 65.5px,#f7b193 66.5px,#dbdcdf 67.5px,#8aadfd 68.5px,#6a8cf0 69.5px,#aec9fd 70.5px,#f7a889 71.5px,#b40426 72.5px,#b40426 73.5px,#f7b69a 74.5px,#3b4cc0 75.5px,#3b4cc0 78.5px,#f39677 79.5px,#b40426 80.5px,#b40426 84.5px,#f49779 85.5px,#afcafc 86.5px,#465dcf 87.5px,#3b4cc0 88.5px,#3b4cc0 91.5px,#465dcf 92.5px,#afcafc 93.5px,#f49779 94.5px,#b40426 95.5px,#b40426 99.5px,#f39677 100.5px,#3b4cc0 101.5px,#3b4cc0 104.5px,#f7b69a 105.5px,#b40426 106.5px,#b40426 107.5px,#f7a889 108.5px,#aec9fd 109.5px,#6a8cf0 110.5px,#8aadfd 111.5px,#dbdcdf 112.5px,#f7b193 113.5px,#f7af91 114.5px,#e8d6cb 115.5px,#c3d5f4 116.5px,#bbd1f8 117.5px,#d3dbe7 118.5px,#e7d6cd 119.5px,#ebd3c7 120.5px,#d8dce1 122.5px,#d9dce1 124.5px,#ddd 128.5px,#ddd 223.5px);
--g110:linear-gradient(90deg,#ddd 0.5px,#dcdddd 55.5px,#d6dce4 57.5px,#dadce0 58.5px,#ecd3c6 60.5px,#e4d9d3 61.5px,#ccd9ed 62.5px,#b9d0f9 63.5px,#c9d8ef 64.5px,#eed0c0 65.5px,#f7ab8c 66.5px,#f7b69a 67.5px,#d4dbe7 68.5px,#85a8fc 69.5px,#6b8df0 70.5px,#afcafc 71.5px,#f7ac8e 72.5px,#b40426 73.5px,#b40426 74.5px,#f18d6f 75.5px,#5c7ae5 76.5px,#3b4cc0 77.5px,#3b4cc0 79.5px,#6c8ff1 80.5px,#ca3b37 81.5px,#b40426 82.5px,#b40426 97.5px,#ca3b37 98.5px,#6c8ff1 99.5px,#3b4cc0 100.5px,#3b4cc0 102.5px,#5c7ae5 103.5px,#f18d6f 104.5px,#b40426 105.5px,#b40426 106.5px,#f7ac8e 107.5px,#afcafc 108.5px,#6b8df0 109.5px,#85a8fc 110.5px,#d4dbe7 111.5px,#f7b69a 112.5px,#f7ab8c 113.5px,#eed0c0 114.5px,#c9d8ef 115.5px,#b9d0f9 116.5px,#ccd9ed 117.5px,#e4d9d3 118.5px,#ecd3c6 119.5px,#dadce0 121.5px,#d8dce2 123.5px,#ddd 126.5px,#ddd 223.5px);
--g111:linear-gradient(90deg,#ddd 0.5px,#dbdcde 56.5px,#d7dce4 58.5px,#dcddde 59.5px,#e7d7cd 60.5px,#ebd3c6 61.5px,#e0dbd8 62.5px,#c8d7f0 63.5px,#b9d0f9 64.5px,#ced9ec 65.5px,#f1cbb8 66.5px,#f7a98a 67.5px,#f7b99e 68.5px,#d1dae9 69.5px,#84a7fc 70.5px,#6b8cf0 71.5px,#a7c5fe 72.5px,#f7bba1 73.5px,#b70f29 74.5px,#b40426 75.5px,#d34d41 76.5px,#c0d4f5 77.5px,#3b4cc0 78.5px,#3b4cc0 81.5px,#6283ea 82.5px,#f49879 83.5px,#b40426 84.5px,#b40426 95.5px,#f49879 96.5px,#6283ea 97.5px,#3b4cc0 98.5px,#3b4cc0 101.5px,#c0d4f5 102.5px,#d34d41 103.5px,#b40426 104.5px,#b70f29 105.5px,#f7bba1 106.5px,#a7c5fe 107.5px,#6b8cf0 108.5px,#84a7fc 109.5px,#d1dae9 110.5px,#f7b99e 111.5px,#f7a98a 112.5px,#f1cbb8 113.5px,#ced9ec 114.5px,#b9d0f9 115.5px,#c8d7f0 116.5px,#e0dbd8 117.5px,#ebd3c6 118.5px,#e7d7cd 119.5px,#dcddde 120.5px,#d7dce3 122.5px,#dddcdc 125.5px,#ddd 223.5px);
--g112:linear-gradient(90deg,#ddd 0.5px,#dedcdc 56.5px,#d7dce3 59.5px,#dedcdb 60.5px,#e9d5ca 61.5px,#ebd4c7 62.5px,#dddcdc 63.5px,#c4d6f3 64.5px,#b9d0f9 65.5px,#d1dae9 66.5px,#f2c9b4 67.5px,#f7a88a 68.5px,#f7b99e 69.5px,#d3dbe7 70.5px,#89acfd 71.5px,#698bef 72.5px,#98b9ff 73.5px,#eed0c0 74.5px,#d54f42 75.5px,#b40426 76.5px,#b40426 77.5px,#f7a789 78.5px,#6c8ef1 79.5px,#3b4cc0 80.5px,#3b4cc0 84.5px,#7c9ff9 85.5px,#f0cdbb 86.5px,#da5948 87.5px,#b40426 88.5px,#b40426 91.5px,#da5948 92.5px,#f0cdbb 93.5px,#7c9ff9 94.5px,#3b4cc0 95.5px,#3b4cc0 99.5px,#6c8ef1 100.5px,#f7a789 101.5px,#b40426 102.5px,#b40426 103.5px,#d54f42 104.5px,#eed0c0 105.5px,#98b9ff 106.5px,#698bef 107.5px,#89acfd 108.5px,#d3dbe7 109.5px,#f7b99e 110.5px,#f7a88a 111.5px,#f2c9b4 112.5px,#d1dae9 113.5px,#b9d0f9 114.5px,#c4d6f3 115.5px,#dddcdc 116.5px,#ebd4c7 117.5px,#e9d5ca 118.5px,#dedcdb 119.5px,#d7dce3 120.5px,#dedcdc 124.5px,#ddd 223.5px);
--g113:linear-gradient(90deg,#ddd 0.5px,#dddcdc 57.5px,#d7dce2 60.5px,#ead4c9 62.5px,#ead4c8 63.5px,#dbdcde 64.5px,#c3d5f4 65.5px,#bad0f8 66.5px,#d2dbe8 67.5px,#f2c9b5 68.5px,#f7a98a 69.5px,#f7b69a 70.5px,#dadcdf 71.5px,#94b6ff 72.5px,#6a8bef 73.5px,#84a7fc 74.5px,#d5dbe6 75.5px,#f18e70 76.5px,#b40426 77.5px,#b40426 78.5px,#c43032 79.5px,#f5c3ab 80.5px,#6687ed 81.5px,#3b4cc0 82.5px,#3b4cc0 97.5px,#6687ed 98.5px,#f5c3ab 99.5px,#c43032 100.5px,#b40426 101.5px,#b40426 102.5px,#f18e70 103.5px,#d5dbe6 104.5px,#84a7fc 105.5px,#6a8bef 106.5px,#94b6ff 107.5px,#dadcdf 108.5px,#f7b69a 109.5px,#f7a98a 110.5px,#f2c9b5 111.5px,#d2dbe8 112.5px,#bad0f8 113.5px,#c3d5f4 114.5px,#dbdcde 115.5px,#ead4c8 116.5px,#ead4c9 117.5px,#d7dce2 119.5px,#ddd 124.5px,#ddd 223.5px);
--g114:linear-gradient(90deg,#ddd 0.5px,#dddcdc 58.5px,#d6dce4 60.5px,#d8dce2 61.5px,#ead4c8 63.5px,#ead5c9 64.5px,#dadcdf 65.5px,#c2d5f4 66.5px,#b9d0f8 67.5px,#d0dae9 68.5px,#f1ccb9 69.5px,#f7ab8d 70.5px,#f7b193 71.5px,#e6d8d0 72.5px,#a6c4fe 73.5px,#7093f3 74.5px,#7194f4 75.5px,#aec9fc 76.5px,#f3c8b3 77.5px,#da5a49 78.5px,#b40426 79.5px,#b40426 80.5px,#c22d31 81.5px,#f7a889 82.5px,#b0cbfc 83.5px,#3b4cc0 84.5px,#3b4cc0 95.5px,#b0cbfc 96.5px,#f7a889 97.5px,#c22d31 98.5px,#b40426 99.5px,#b40426 100.5px,#da5a49 101.5px,#f3c8b3 102.5px,#aec9fc 103.5px,#7194f4 104.5px,#7093f3 105.5px,#a6c4fe 106.5px,#e6d8d0 107.5px,#f7b193 108.5px,#f7ab8d 109.5px,#f1ccb9 110.5px,#d0dae9 111.5px,#b9d0f8 112.5px,#c2d5f4 113.5px,#dadcdf 114.5px,#ead5c9 115.5px,#ead4c8 116.5px,#d8dce2 118.5px,#d9dce1 120.5px,#ddd 123.5px,#ddd 223.5px);
--g115:linear-gradient(90deg,#ddd 0.5px,#dcdddd 59.5px,#d6dce4 61.5px,#d8dce2 62.5px,#ebd4c7 64.5px,#e9d5c9 65.5px,#dadcdf 66.5px,#c3d5f3 67.5px,#b9d0f9 68.5px,#cdd9ed 69.5px,#edd1c1 70.5px,#f7b092 71.5px,#f7aa8c 72.5px,#f0cdbb 73.5px,#bfd3f6 74.5px,#81a5fb 75.5px,#698bef 76.5px,#85a8fc 77.5px,#c8d7f0 78.5px,#f7b79b 79.5px,#d44f41 80.5px,#b40426 81.5px,#b40426 83.5px,#d55042 84.5px,#f7a688 85.5px,#dddcdc 86.5px,#9ebeff 87.5px,#6789ee 88.5px,#4962d3 89.5px,#4962d3 90.5px,#6789ee 91.5px,#9ebeff 92.5px,#dddcdc 93.5px,#f7a688 94.5px,#d55042 95.5px,#b40426 96.5px,#b40426 98.5px,#d44f41 99.5px,#f7b79b 100.5px,#c8d7f0 101.5px,#85a8fc 102.5px,#698bef 103.5px,#81a5fb 104.5px,#bfd3f6 105.5px,#f0cdbb 106.5px,#f7aa8c 107.5px,#f7b092 108.5px,#edd1c1 109.5px,#cdd9ed 110.5px,#b9d0f9 111.5px,#c3d5f3 112.5px,#dadcdf 113.5px,#e9d5c9 114.5px,#ebd4c7 115.5px,#d8dce2 117.5px,#d9dce1 119.5px,#dddcdd 122.5px,#ddd 223.5px);
--g116:linear-gradient(90deg,#ddd 0.5px,#dcdddd 60.5px,#d6dce4 62.5px,#d8dce2 63.5px,#ead4c8 65.5px,#ead5c9 66.5px,#dcdddd 67.5px,#c5d6f2 68.5px,#b9d0f9 69.5px,#c7d7f0 70.5px,#e7d7ce 71.5px,#f7b89c 72.5px,#f7a788 73.5px,#f6bda3 74.5px,#dadce0 75.5px,#a0bfff 76.5px,#7295f4 77.5px,#6c8ef1 78.5px,#8fb1fe 79.5px,#cbd9ee 80.5px,#f6bfa5 81.5px,#e46e56 82.5px,#b40426 83.5px,#b40426 87.5px,#c0272f 88.5px,#cb3d38 89.5px,#cb3d38 90.5px,#c0272f 91.5px,#b40426 92.5px,#b40426 96.5px,#e46e56 97.5px,#f6bfa5 98.5px,#cbd9ee 99.5px,#8fb1fe 100.5px,#6c8ef1 101.5px,#7295f4 102.5px,#a0bfff 103.5px,#dadce0 104.5px,#f6bda3 105.5px,#f7a788 106.5px,#f7b89c 107.5px,#e7d7ce 108.5px,#c7d7f0 109.5px,#b9d0f9 110.5px,#c5d6f2 111.5px,#dcdddd 112.5px,#ead5c9 113.5px,#ead4c8 114.5px,#d8dce2 116.5px,#d9dce1 118.5px,#dddcdc 121.5px,#ddd 223.5px);
--g117:linear-gradient(90deg,#ddd 0.5px,#dcdddd 61.5px,#d6dce4 63.5px,#d8dce2 64.5px,#ead4c8 66.5px,#ead4c8 67.5px,#dfdcda 68.5px,#c9d8ef 69.5px,#b9d0f8 70.5px,#c1d4f5 71.5px,#dddcdc 72.5px,#f5c4ad 73.5px,#f7a98b 74.5px,#f7ae90 75.5px,#f0cebc 76.5px,#c7d7f1 77.5px,#91b3fe 78.5px,#6f91f2 79.5px,#6c8ef1 80.5px,#88abfd 81.5px,#b8d0f9 82.5px,#e6d7cf 83.5px,#f7af91 84.5px,#e7745a 85.5px,#c83936 86.5px,#b40426 87.5px,#b40426 92.5px,#c83936 93.5px,#e7745a 94.5px,#f7af91 95.5px,#e6d7cf 96.5px,#b8d0f9 97.5px,#88abfd 98.5px,#6c8ef1 99.5px,#6f91f2 100.5px,#91b3fe 101.5px,#c7d7f1 102.5px,#f0cebc 103.5px,#f7ae90 104.5px,#f7a98b 105.5px,#f5c4ad 106.5px,#dddcdc 107.5px,#c1d4f5 108.5px,#b9d0f8 109.5px,#c9d8ef 110.5px,#dfdcda 111.5px,#ead4c8 112.5px,#ead4c8 113.5px,#d8dce2 115.5px,#d8dce1 117.5px,#dddcdc 120.5px,#ddd 223.5px);
--g118:linear-gradient(90deg,#ddd 0.5px,#dcdddd 62.5px,#d8dce2 65.5px,#e9d5ca 67.5px,#ebd3c6 68.5px,#e2dad5 69.5px,#cfdaeb 70.5px,#bcd2f7 71.5px,#bbd1f7 72.5px,#d1dae9 73.5px,#edd1c3 74.5px,#f7b599 75.5px,#f7a788 76.5px,#f7b79b 77.5px,#e9d5c9 78.5px,#c1d4f4 79.5px,#92b4fe 80.5px,#7295f4 81.5px,#698bef 82.5px,#7598f6 83.5px,#91b3fe 84.5px,#b4cdfa 85.5px,#d4dbe6 86.5px,#ebd4c7 87.5px,#f5c4ac 88.5px,#f7b89c 89.5px,#f7b89c 90.5px,#f5c4ac 91.5px,#ebd4c7 92.5px,#d4dbe6 93.5px,#b4cdfa 94.5px,#91b3fe 95.5px,#7598f6 96.5px,#698bef 97.5px,#7295f4 98.5px,#92b4fe 99.5px,#c1d4f4 100.5px,#e9d5c9 101.5px,#f7b79b 102.5px,#f7a788 103.5px,#f7b599 104.5px,#edd1c3 105.5px,#d1dae9 106.5px,#bbd1f7 107.5px,#bcd2f7 108.5px,#cfdaeb 109.5px,#e2dad5 110.5px,#ebd3c6 111.5px,#e9d5ca 112.5px,#d8dce2 114.5px,#dcdddd 117.5px,#ddd 223.5px);
--g119:linear-gradient(90deg,#ddd 0.5px,#dcdddd 63.5px,#d7dce3 66.5px,#ecd3c6 69.5px,#e6d8d0 70.5px,#d6dce4 71.5px,#c2d5f4 72.5px,#b9d0f9 73.5px,#c5d6f2 74.5px,#dedcdb 75.5px,#f3c7b1 76.5px,#f7ae90 77.5px,#f7a789 78.5px,#f7b99e 79.5px,#ebd4c7 80.5px,#cad8ef 81.5px,#a2c1ff 82.5px,#81a4fb 83.5px,#6e91f2 84.5px,#698bef 85.5px,#789cf7 87.5px,#8daffe 89.5px,#8daffe 90.5px,#6e90f2 93.5px,#698bef 94.5px,#6e91f2 95.5px,#81a4fb 96.5px,#a2c1ff 97.5px,#cad8ef 98.5px,#ebd4c7 99.5px,#f7b99e 100.5px,#f7a789 101.5px,#f7ae90 102.5px,#f3c7b1 103.5px,#dedcdb 104.5px,#c5d6f2 105.5px,#b9d0f9 106.5px,#c2d5f4 107.5px,#d6dce4 108.5px,#e6d8d0 109.5px,#ecd3c6 110.5px,#e8d6cc 111.5px,#d7dce3 113.5px,#dddcdc 118.5px,#ddd 223.5px);
--g120:linear-gradient(90deg,#ddd 0.5px,#ddd 64.5px,#d7dce3 67.5px,#dcdddd 68.5px,#ebd3c6 70.5px,#e9d5ca 71.5px,#dddcdc 72.5px,#cad8ee 73.5px,#bbd1f8 74.5px,#bbd1f8 75.5px,#cdd9ed 76.5px,#e6d8d0 77.5px,#f5c2aa 78.5px,#f7ad8f 79.5px,#f7a788 80.5px,#f7b497 81.5px,#f2cab6 82.5px,#dedcdb 83.5px,#c2d5f4 84.5px,#a5c3fe 85.5px,#8db0fe 86.5px,#7497f5 88.5px,#6f92f3 90.5px,#7da1f9 92.5px,#8db0fe 93.5px,#a5c3fe 94.5px,#c2d5f4 95.5px,#dedcdb 96.5px,#f2cab6 97.5px,#f7b497 98.5px,#f7a788 99.5px,#f7ad8f 100.5px,#f5c2aa 101.5px,#e6d8d0 102.5px,#cdd9ed 103.5px,#bbd1f8 104.5px,#bbd1f8 105.5px,#cad8ee 106.5px,#dddcdc 107.5px,#e9d5ca 108.5px,#ebd3c6 109.5px,#dcdddd 111.5px,#d6dce4 113.5px,#dddcdc 117.5px,#ddd 223.5px);
--g121:linear-gradient(90deg,#ddd 0.5px,#dddcdc 65.5px,#d6dce4 68.5px,#dadce0 69.5px,#ead4c8 71.5px,#ebd3c7 72.5px,#e4d9d3 73.5px,#d5dbe6 74.5px,#c3d5f4 75.5px,#b9d0f9 76.5px,#bed3f6 77.5px,#d0dae9 78.5px,#e6d7cf 79.5px,#f4c4ad 80.5px,#f7b193 81.5px,#f7a788 82.5px,#f7ab8c 83.5px,#f7b89d 84.5px,#e8d6cd 86.5px,#d9dce1 87.5px,#c3d5f3 89.5px,#c3d5f3 90.5px,#d9dce1 92.5px,#e8d6cd 93.5px,#f7b89d 95.5px,#f7ab8c 96.5px,#f7a788 97.5px,#f7b193 98.5px,#f4c4ad 99.5px,#e6d7cf 100.5px,#d0dae9 101.5px,#bed3f6 102.5px,#b9d0f9 103.5px,#c3d5f4 104.5px,#d5dbe6 105.5px,#e4d9d3 106.5px,#ebd3c7 107.5px,#ead4c8 108.5px,#dadce0 110.5px,#d7dce3 112.5px,#dddcdc 116.5px,#ddd 223.5px);
--g122:linear-gradient(90deg,#ddd 0.5px,#dddcdc 66.5px,#d6dce4 69.5px,#dfdcda 71.5px,#ecd3c6 73.5px,#e9d5ca 74.5px,#dfdcda 75.5px,#c0d3f5 77.5px,#b9d0f9 78.5px,#bed3f6 79.5px,#cedaeb 80.5px,#e2dad6 81.5px,#f1ccba 82.5px,#f7bba1 83.5px,#f7ae90 84.5px,#f7a789 85.5px,#f7ad8f 87.5px,#f7b99d 89.5px,#f7b497 91.5px,#f7a889 93.5px,#f7a789 94.5px,#f7ae90 95.5px,#f7bba1 96.5px,#f1ccba 97.5px,#e2dad6 98.5px,#cedaeb 99.5px,#bed3f6 100.5px,#b9d0f9 101.5px,#c0d3f5 102.5px,#dfdcda 104.5px,#e9d5ca 105.5px,#ecd3c6 106.5px,#d8dce1 109.5px,#dbdcdf 112.5px,#ddd 123.5px,#ddd 223.5px);
--g123:linear-gradient(90deg,#ddd 0.5px,#dbdcde 68.5px,#d7dce3 71.5px,#e4d9d3 73.5px,#ead4c8 74.5px,#ebd3c6 75.5px,#e7d7ce 76.5px,#dcddde 77.5px,#bfd3f5 79.5px,#b9d0f9 80.5px,#bcd2f7 81.5px,#d7dce3 83.5px,#f0cdbb 85.5px,#f7b79b 87.5px,#f7ad8f 89.5px,#f7b093 91.5px,#f5c1a9 93.5px,#e6d8d0 95.5px,#d7dce3 96.5px,#bcd2f7 98.5px,#b9d0f9 99.5px,#bfd3f5 100.5px,#dcddde 102.5px,#e7d7ce 103.5px,#ebd3c6 104.5px,#ead4c8 105.5px,#dcdcde 107.5px,#d6dce4 109.5px,#dedcdb 113.5px,#ddd 223.5px);
--g124:linear-gradient(90deg,#ddd 0.5px,#dcdddd 69.5px,#d6dce4 72.5px,#dfdcda 74.5px,#ebd4c7 76.5px,#ebd4c7 77.5px,#dcdcde 79.5px,#c2d5f4 81.5px,#b9d0f9 83.5px,#d2dbe8 86.5px,#e8d6cc 89.5px,#e8d6cc 90.5px,#d2dbe8 93.5px,#b9d0f9 96.5px,#c2d5f4 98.5px,#dcdcde 100.5px,#ebd4c7 102.5px,#ebd4c7 103.5px,#d9dce1 106.5px,#d9dce0 109.5px,#ddd 113.5px,#ddd 223.5px);
--g125:linear-gradient(90deg,#ddd 0.5px,#dddcdc 70.5px,#d7dce3 74.5px,#ebd3c6 78.5px,#ebd4c7 79.5px,#d4dbe6 82.5px,#bad1f8 85.5px,#c0d4f5 90.5px,#bad1f8 94.5px,#d4dbe6 97.5px,#ebd4c7 100.5px,#e7d6cd 102.5px,#d7dce3 105.5px,#ddd 112.5px,#ddd 223.5px);
--g126:linear-gradient(90deg,#ddd 0.5px,#dcdddd 72.5px,#d6dce4 75.5px,#e2dad5 78.5px,#ebd3c7 80.5px,#e9d5cb 82.5px,#d3dbe7 85.5px,#c0d4f5 88.5px,#c0d4f5 91.5px,#d3dbe7 94.5px,#e9d5cb 97.5px,#ebd3c7 99.5px,#d8dce2 103.5px,#d9dce0 106.5px,#ddd 110.5px,#ddd 223.5px);
--g127:linear-gradient(90deg,#ddd 0.5px,#dbdcdf 74.5px,#d6dce4 77.5px,#e2dad5 80.5px,#ecd3c6 83.5px,#e4d9d2 86.5px,#d8dce2 89.5px,#dfdbd9 92.5px,#ebd4c7 95.5px,#ead4c8 97.5px,#d8dce1 101.5px,#d8dce1 104.5px,#dddcdc 108.5px,#ddd 223.5px);
--g128:linear-gradient(90deg,#ddd 0.5px,#ddd 75.5px,#d6dce4 79.5px,#e0dbd8 82.5px,#ebd4c7 85.5px,#ebd4c7 94.5px,#d8dce2 99.5px,#dadcdf 103.5px,#ddd 111.5px,#ddd 223.5px);
--g129:linear-gradient(90deg,#ddd 0.5px,#dcdddd 76.5px,#d6dce4 80.5px,#e3d9d4 84.5px,#ebd3c6 88.5px,#e9d5ca 93.5px,#d8dce2 98.5px,#dadcdf 102.5px,#ddd 109.5px,#ddd 223.5px);
--g130:linear-gradient(90deg,#ddd 0.5px,#ddd 80.5px,#d7dce3 86.5px,#d9dce1 97.5px,#ddd 103.5px,#ddd 223.5px);
--g131:linear-gradient(90deg,#ddd 0.5px,#dddcdc 111.5px,#dedcdb 113.5px,#ddd 223.5px);
--g132:linear-gradient(90deg,#ddd 0.5px,#dddcdc 108.5px,#cdd9ec 110.5px,#dedcdb 111.5px,#ecd2c4 112.5px,#dbdcde 114.5px,#ddd 223.5px);
--g133:linear-gradient(90deg,#ddd 0.5px,#dfdcda 106.5px,#ecd3c5 107.5px,#e5d8d1 108.5px,#7b9ef8 109.5px,#4a62d3 110.5px,#e5d8d1 111.5px,#b40426 112.5px,#e97a5f 113.5px,#c8d7f0 114.5px,#bdd2f6 115.5px,#d9dce1 116.5px,#ddd 119.5px,#ddd 223.5px);
--g134:linear-gradient(90deg,#ddd 0.5px,#dbdcdf 105.5px,#f0cdbb 106.5px,#d85646 107.5px,#f5c3ab 108.5px,#3b4cc0 109.5px,#3b4cc0 110.5px,#eed0c1 111.5px,#b40426 112.5px,#b40426 113.5px,#8db0fe 114.5px,#3b4cc0 115.5px,#b6cefa 116.5px,#e3dad5 117.5px,#ddd 119.5px,#ddd 223.5px);
--g135:linear-gradient(90deg,#ddd 0.5px,#dadce0 104.5px,#cfdaea 105.5px,#e9785e 106.5px,#b40426 107.5px,#f5a081 108.5px,#3b4cc0 109.5px,#3b4cc0 110.5px,#f2cab6 111.5px,#b40426 112.5px,#b40426 113.5px,#536fdd 114.5px,#3b4cc0 115.5px,#5b79e4 116.5px,#f4c6b0 117.5px,#e6d8d0 118.5px,#dddcdc 119.5px,#ddd 223.5px);
--g136:linear-gradient(90deg,#ddd 0.5px,#dcdddd 103.5px,#ccd9ed 104.5px,#b2ccfb 105.5px,#b40426 106.5px,#b40426 107.5px,#ee8669 108.5px,#3b4cc0 109.5px,#3b4cc0 110.5px,#f3c8b3 111.5px,#b40426 112.5px,#b40426 113.5px,#3b4cc0 114.5px,#3b4cc0 116.5px,#f08c6e 117.5px,#f6bea5 118.5px,#dedcdb 119.5px,#ddd 223.5px);
--g137:linear-gradient(90deg,#ddd 0.5px,#dbdcde 103.5px,#afcafc 104.5px,#8eb1fe 105.5px,#b40426 106.5px,#b40426 107.5px,#ea7b60 108.5px,#3b4cc0 109.5px,#3b4cc0 110.5px,#f3c8b2 111.5px,#b40426 112.5px,#b40426 113.5px,#3b4cc0 114.5px,#3b4cc0 116.5px,#ca3d38 117.5px,#ec8165 118.5px,#e0dbd8 119.5px,#ddd 122.5px,#ddd 223.5px);
--g138:linear-gradient(90deg,#ddd 0.5px,#dadce0 103.5px,#91b3fe 104.5px,#7598f6 105.5px,#b40426 106.5px,#b40426 107.5px,#e8775d 108.5px,#3b4cc0 109.5px,#3b4cc0 110.5px,#f3c8b2 111.5px,#b40426 112.5px,#b40426 113.5px,#3b4cc0 114.5px,#3b4cc0 116.5px,#b40426 117.5px,#cb3d38 118.5px,#e3d9d4 119.5px,#dcdddd 120.5px,#ddd 223.5px);
--g139:linear-gradient(90deg,#ddd 0.5px,#dadce0 103.5px,#89acfd 104.5px,#7092f3 105.5px,#b40426 106.5px,#b40426 107.5px,#e8775d 108.5px,#3b4cc0 109.5px,#3b4cc0 110.5px,#f3c8b2 111.5px,#b40426 112.5px,#b40426 113.5px,#3b4cc0 114.5px,#3b4cc0 116.5px,#b40426 117.5px,#bf252e 118.5px,#e4d9d2 119.5px,#dcdddd 120.5px,#ddd 223.5px);
--g140:linear-gradient(90deg,#ddd 0.5px,#dbdcdf 103.5px,#9bbcff 104.5px,#7da0f9 105.5px,#b40426 106.5px,#b40426 107.5px,#e9785e 108.5px,#3b4cc0 109.5px,#3b4cc0 110.5px,#f3c8b2 111.5px,#b40426 112.5px,#b40426 113.5px,#3b4cc0 114.5px,#3b4cc0 116.5px,#b40426 117.5px,#d85646 118.5px,#e2dad5 119.5px,#dcdddd 120.5px,#ddd 223.5px);
--g141:linear-gradient(90deg,#ddd 0.5px,#dcddde 103.5px,#bcd1f7 104.5px,#9cbcff 105.5px,#b40426 106.5px,#b40426 107.5px,#eb7e63 108.5px,#3b4cc0 109.5px,#3b4cc0 110.5px,#f3c8b2 111.5px,#b40426 112.5px,#b40426 113.5px,#3b4cc0 114.5px,#3b4cc0 116.5px,#dc5d4a 117.5px,#f59d7e 118.5px,#dfdbd9 119.5px,#ddd 223.5px);
--g142:linear-gradient(90deg,#ddd 0.5px,#ddd 103.5px,#d3dbe7 104.5px,#c0d4f5 105.5px,#b40426 106.5px,#b40426 107.5px,#f18f71 108.5px,#3b4cc0 109.5px,#3b4cc0 110.5px,#f3c9b4 111.5px,#b40426 112.5px,#b40426 113.5px,#4054c7 114.5px,#3b4cc0 115.5px,#3b4cc0 116.5px,#f7a889 117.5px,#f0cdba 118.5px,#dddcdc 119.5px,#ddd 223.5px);
--g143:linear-gradient(90deg,#ddd 0.5px,#dcdcde 104.5px,#d6dce4 105.5px,#f7a789 106.5px,#b40426 107.5px,#f7ae90 108.5px,#3b4cc0 109.5px,#3b4cc0 110.5px,#f1ccb9 111.5px,#b40426 112.5px,#b40426 113.5px,#6688ed 114.5px,#3b4cc0 115.5px,#83a6fb 116.5px,#edd2c3 117.5px,#e1dbd7 118.5px,#ddd 120.5px,#ddd 223.5px);
--g144:linear-gradient(90deg,#ddd 0.5px,#dcdddd 105.5px,#e7d7ce 106.5px,#f6a586 107.5px,#efcebd 108.5px,#3b4cc0 109.5px,#3b4cc0 110.5px,#ebd4c7 111.5px,#b40426 112.5px,#b40426 113.5px,#a8c5fe 114.5px,#7294f4 115.5px,#cbd8ee 116.5px,#dfdcda 117.5px,#ddd 223.5px);
--g145:linear-gradient(90deg,#ddd 0.5px,#dddcdc 106.5px,#e2dad5 107.5px,#e0dbd8 108.5px,#b2ccfb 109.5px,#92b4fe 110.5px,#e1dad6 111.5px,#f29072 112.5px,#f7b99e 113.5px,#d4dbe6 114.5px,#d2dbe8 115.5px,#dcddde 116.5px,#ddd 223.5px);
--g146:linear-gradient(90deg,#ddd 0.5px,#dbdcdf 109.5px,#dddcdc 111.5px,#e1dad6 112.5px,#ddd 115.5px,#ddd 223.5px)}
svg{position:absolute;left:0;top:0;will-change:transform;}
text{font-family:"Liberation Sans",sans-serif;stroke:#111;stroke-width:0.1px;}
</style></head><body><div id="fig">
<div class="b" style="left:43px;top:15px;width:224px;height:3px;background:var(--g0)"><i style="background:var(--g1)"></i></div>
<div class="b" style="left:43px;top:18px;width:224px;height:2px;background:var(--g1)"><i style="background:var(--g2)"></i></div>
<div class="b" style="left:43px;top:20px;width:224px;height:2px;background:var(--g2)"><i style="background:var(--g3)"></i></div>
<div class="b" style="left:43px;top:22px;width:224px;height:1px;background:var(--g4)"></div>
<div class="b" style="left:43px;top:23px;width:224px;height:2px;background:var(--g5)"><i style="background:var(--g6)"></i></div>
<div class="b" style="left:43px;top:25px;width:224px;height:9px;background:var(--g6)"><i style="background:var(--g7)"></i></div>
<div class="b" style="left:43px;top:34px;width:224px;height:3px;background:var(--g7)"><i style="background:var(--g8)"></i></div>
<div class="b" style="left:43px;top:37px;width:224px;height:4px;background:var(--g8)"><i style="background:var(--g9)"></i></div>
<div class="b" style="left:43px;top:41px;width:224px;height:4px;background:var(--g9)"><i style="background:var(--g10)"></i></div>
<div class="b" style="left:43px;top:45px;width:224px;height:2px;background:var(--g10)"><i style="background:var(--g11)"></i></div>
<div class="b" style="left:43px;top:47px;width:224px;height:2px;background:var(--g11)"><i style="background:var(--g12)"></i></div>
<div class="b" style="left:43px;top:49px;width:224px;height:5px;background:var(--g12)"><i style="background:var(--g13)"></i></div>
<div class="b" style="left:43px;top:54px;width:224px;height:9px;background:var(--g13)"><i style="background:var(--g14)"></i></div>
<div class="b" style="left:43px;top:63px;width:224px;height:17px;background:var(--g14)"><i style="background:var(--g15)"></i></div>
<div class="b" style="left:43px;top:80px;width:224px;height:24px;background:var(--g15)"><i style="background:var(--g16)"></i></div>
<div class="b" style="left:43px;top:104px;width:224px;height:18px;background:var(--g16)"><i style="background:var(--g17)"></i></div>
<div class="b" style="left:43px;top:122px;width:224px;height:17px;background:var(--g17)"><i style="background:var(--g18)"></i></div>
<div class="b" style="left:43px;top:139px;width:224px;height:16px;background:var(--g18)"><i style="background:var(--g19)"></i></div>
<div class="b" style="left:43px;top:155px;width:224px;height:19px;background:var(--g19)"><i style="background:var(--g20)"></i></div>
<div class="b" style="left:43px;top:174px;width:224px;height:20px;background:var(--g20)"><i style="background:var(--g21)"></i></div>
<div class="b" style="left:43px;top:194px;width:224px;height:23px;background:var(--g21)"><i style="background:var(--g22)"></i></div>
<div class="b" style="left:43px;top:217px;width:224px;height:7px;background:var(--g22)"><i style="background:var(--g23)"></i></div>
<div class="b" style="left:408px;top:15px;width:224px;height:2px;background:var(--g24)"><i style="background:var(--g25)"></i></div>
<div class="b" style="left:408px;top:17px;width:224px;height:1px;background:var(--g26)"></div>
<div class="b" style="left:408px;top:18px;width:224px;height:1px;background:var(--g27)"></div>
<div class="b" style="left:408px;top:19px;width:224px;height:2px;background:var(--g28)"><i style="background:var(--g29)"></i></div>
<div class="b" style="left:408px;top:21px;width:224px;height:3px;background:var(--g29)"><i style="background:var(--g30)"></i></div>
<div class="b" style="left:408px;top:24px;width:224px;height:3px;background:var(--g30)"><i style="background:var(--g31)"></i></div>
<div class="b" style="left:408px;top:27px;width:224px;height:2px;background:var(--g31)"><i style="background:var(--g32)"></i></div>
<div class="b" style="left:408px;top:29px;width:224px;height:2px;background:var(--g32)"><i style="background:var(--g33)"></i></div>
<div class="b" style="left:408px;top:31px;width:224px;height:3px;background:var(--g33)"><i style="background:var(--g34)"></i></div>
<div class="b" style="left:408px;top:34px;width:224px;height:4px;background:var(--g34)"><i style="background:var(--g35)"></i></div>
<div class="b" style="left:408px;top:38px;width:224px;height:3px;background:var(--g35)"><i style="background:var(--g36)"></i></div>
<div class="b" style="left:408px;top:41px;width:224px;height:2px;background:var(--g36)"><i style="background:var(--g37)"></i></div>
<div class="b" style="left:408px;top:43px;width:224px;height:1px;background:var(--g38)"></div>
<div class="b" style="left:408px;top:44px;width:224px;height:1px;background:var(--g39)"></div>
<div class="b" style="left:408px;top:45px;width:224px;height:1px;background:var(--g40)"></div>
<div class="b" style="left:408px;top:46px;width:224px;height:2px;background:var(--g41)"><i style="background:var(--g42)"></i></div>
<div class="b" style="left:408px;top:48px;width:224px;height:5px;background:var(--g42)"><i style="background:var(--g43)"></i></div>
<div class="b" style="left:408px;top:53px;width:224px;height:4px;background:var(--g43)"><i style="background:var(--g44)"></i></div>
<div class="b" style="left:408px;top:57px;width:224px;height:3px;background:var(--g44)"><i style="background:var(--g45)"></i></div>
<div class="b" style="left:408px;top:60px;width:224px;height:3px;background:var(--g45)"><i style="background:var(--g46)"></i></div>
<div class="b" style="left:408px;top:63px;width:224px;height:2px;background:var(--g46)"><i style="background:var(--g47)"></i></div>
<div class="b" style="left:408px;top:65px;width:224px;height:4px;background:var(--g47)"><i style="background:var(--g48)"></i></div>
<div class="b" style="left:408px;top:69px;width:224px;height:4px;background:var(--g48)"><i style="background:var(--g49)"></i></div>
<div class="b" style="left:408px;top:73px;width:224px;height:7px;background:var(--g49)"><i style="background:var(--g50)"></i></div>
<div class="b" style="left:408px;top:80px;width:224px;height:40px;background:var(--g50)"><i style="background:var(--g51)"></i></div>
<div class="b" style="left:408px;top:120px;width:224px;height:40px;background:var(--g51)"><i style="background:var(--g52)"></i></div>
<div class="b" style="left:408px;top:160px;width:224px;height:40px;background:var(--g52)"><i style="background:var(--g53)"></i></div>
<div class="b" style="left:408px;top:200px;width:224px;height:24px;background:var(--g53)"><i style="background:var(--g54)"></i></div>
<div class="b" style="left:43px;top:267px;width:224px;height:40px;background:#ddd"><i style="background:#ddd"></i></div>
<div class="b" style="left:43px;top:307px;width:224px;height:24px;background:#ddd"><i style="background:#dddcdd"></i></div>
<div class="b" style="left:43px;top:331px;width:224px;height:2px;background:#dddcdd"><i style="background:var(--g55)"></i></div>
<div class="b" style="left:43px;top:333px;width:224px;height:2px;background:var(--g55)"><i style="background:var(--g56)"></i></div>
<div class="b" style="left:43px;top:335px;width:224px;height:1px;background:var(--g57)"></div>
<div class="b" style="left:43px;top:336px;width:224px;height:1px;background:var(--g58)"></div>
<div class="b" style="left:43px;top:337px;width:224px;height:1px;background:var(--g59)"></div>
<div class="b" style="left:43px;top:338px;width:224px;height:1px;background:var(--g60)"></div>
<div class="b" style="left:43px;top:339px;width:224px;height:1px;background:var(--g61)"></div>
<div class="b" style="left:43px;top:340px;width:224px;height:1px;background:var(--g62)"></div>
<div class="b" style="left:43px;top:341px;width:224px;height:1px;background:var(--g63)"></div>
<div class="b" style="left:43px;top:342px;width:224px;height:1px;background:var(--g64)"></div>
<div class="b" style="left:43px;top:343px;width:224px;height:1px;background:var(--g65)"></div>
<div class="b" style="left:43px;top:344px;width:224px;height:1px;background:var(--g66)"></div>
<div class="b" style="left:43px;top:345px;width:224px;height:1px;background:var(--g67)"></div>
<div class="b" style="left:43px;top:346px;width:224px;height:1px;background:var(--g68)"></div>
<div class="b" style="left:43px;top:347px;width:224px;height:1px;background:var(--g69)"></div>
<div class="b" style="left:43px;top:348px;width:224px;height:1px;background:var(--g70)"></div>
<div class="b" style="left:43px;top:349px;width:224px;height:1px;background:var(--g71)"></div>
<div class="b" style="left:43px;top:350px;width:224px;height:1px;background:var(--g72)"></div>
<div class="b" style="left:43px;top:351px;width:224px;height:1px;background:var(--g73)"></div>
<div class="b" style="left:43px;top:352px;width:224px;height:1px;background:var(--g74)"></div>
<div class="b" style="left:43px;top:353px;width:224px;height:1px;background:var(--g75)"></div>
<div class="b" style="left:43px;top:354px;width:224px;height:1px;background:var(--g76)"></div>
<div class="b" style="left:43px;top:355px;width:224px;height:1px;background:var(--g77)"></div>
<div class="b" style="left:43px;top:356px;width:224px;height:1px;background:var(--g78)"></div>
<div class="b" style="left:43px;top:357px;width:224px;height:1px;background:var(--g79)"></div>
<div class="b" style="left:43px;top:358px;width:224px;height:1px;background:var(--g80)"></div>
<div class="b" style="left:43px;top:359px;width:224px;height:1px;background:var(--g81)"></div>
<div class="b" style="left:43px;top:360px;width:224px;height:1px;background:var(--g82)"></div>
<div class="b" style="left:43px;top:361px;width:224px;height:1px;background:var(--g83)"></div>
<div class="b" style="left:43px;top:362px;width:224px;height:1px;background:var(--g84)"></div>
<div class="b" style="left:43px;top:363px;width:224px;height:1px;background:var(--g85)"></div>
<div class="b" style="left:43px;top:364px;width:224px;height:1px;background:var(--g86)"></div>
<div class="b" style="left:43px;top:365px;width:224px;height:1px;background:var(--g87)"></div>
<div class="b" style="left:43px;top:366px;width:224px;height:1px;background:var(--g88)"></div>
<div class="b" style="left:43px;top:367px;width:224px;height:1px;background:var(--g89)"></div>
<div class="b" style="left:43px;top:368px;width:224px;height:1px;background:var(--g90)"></div>
<div class="b" style="left:43px;top:369px;width:224px;height:1px;background:var(--g91)"></div>
<div class="b" style="left:43px;top:370px;width:224px;height:1px;background:var(--g92)"></div>
<div class="b" style="left:43px;top:371px;width:224px;height:1px;background:var(--g93)"></div>
<div class="b" style="left:43px;top:372px;width:224px;height:1px;background:var(--g94)"></div>
<div class="b" style="left:43px;top:373px;width:224px;height:1px;background:var(--g95)"></div>
<div class="b" style="left:43px;top:374px;width:224px;height:1px;background:var(--g96)"></div>
<div class="b" style="left:43px;top:375px;width:224px;height:1px;background:var(--g97)"></div>
<div class="b" style="left:43px;top:376px;width:224px;height:1px;background:var(--g98)"></div>
<div class="b" style="left:43px;top:377px;width:224px;height:1px;background:var(--g99)"></div>
<div class="b" style="left:43px;top:378px;width:224px;height:1px;background:var(--g100)"></div>
<div class="b" style="left:43px;top:379px;width:224px;height:1px;background:var(--g101)"></div>
<div class="b" style="left:43px;top:380px;width:224px;height:1px;background:var(--g102)"></div>
<div class="b" style="left:43px;top:381px;width:224px;height:1px;background:var(--g103)"></div>
<div class="b" style="left:43px;top:382px;width:224px;height:1px;background:var(--g104)"></div>
<div class="b" style="left:43px;top:383px;width:224px;height:1px;background:var(--g105)"></div>
<div class="b" style="left:43px;top:384px;width:224px;height:1px;background:var(--g106)"></div>
<div class="b" style="left:43px;top:385px;width:224px;height:1px;background:var(--g107)"></div>
<div class="b" style="left:43px;top:386px;width:224px;height:1px;background:var(--g108)"></div>
<div class="b" style="left:43px;top:387px;width:224px;height:1px;background:var(--g109)"></div>
<div class="b" style="left:43px;top:388px;width:224px;height:1px;background:var(--g110)"></div>
<div class="b" style="left:43px;top:389px;width:224px;height:1px;background:var(--g111)"></div>
<div class="b" style="left:43px;top:390px;width:224px;height:1px;background:var(--g112)"></div>
<div class="b" style="left:43px;top:391px;width:224px;height:1px;background:var(--g113)"></div>
<div class="b" style="left:43px;top:392px;width:224px;height:1px;background:var(--g114)"></div>
<div class="b" style="left:43px;top:393px;width:224px;height:1px;background:var(--g115)"></div>
<div class="b" style="left:43px;top:394px;width:224px;height:1px;background:var(--g116)"></div>
<div class="b" style="left:43px;top:395px;width:224px;height:1px;background:var(--g117)"></div>
<div class="b" style="left:43px;top:396px;width:224px;height:1px;background:var(--g118)"></div>
<div class="b" style="left:43px;top:397px;width:224px;height:1px;background:var(--g119)"></div>
<div class="b" style="left:43px;top:398px;width:224px;height:1px;background:var(--g120)"></div>
<div class="b" style="left:43px;top:399px;width:224px;height:1px;background:var(--g121)"></div>
<div class="b" style="left:43px;top:400px;width:224px;height:1px;background:var(--g122)"></div>
<div class="b" style="left:43px;top:401px;width:224px;height:1px;background:var(--g123)"></div>
<div class="b" style="left:43px;top:402px;width:224px;height:1px;background:var(--g124)"></div>
<div class="b" style="left:43px;top:403px;width:224px;height:1px;background:var(--g125)"></div>
<div class="b" style="left:43px;top:404px;width:224px;height:1px;background:var(--g126)"></div>
<div class="b" style="left:43px;top:405px;width:224px;height:1px;background:var(--g127)"></div>
<div class="b" style="left:43px;top:406px;width:224px;height:1px;background:var(--g128)"></div>
<div class="b" style="left:43px;top:407px;width:224px;height:2px;background:var(--g129)"><i style="background:var(--g130)"></i></div>
<div class="b" style="left:43px;top:409px;width:224px;height:4px;background:var(--g130)"><i style="background:#ddd"></i></div>
<div class="b" style="left:43px;top:413px;width:224px;height:40px;background:#ddd"><i style="background:#ddd"></i></div>
<div class="b" style="left:43px;top:453px;width:224px;height:23px;background:#ddd"><i style="background:#ddd"></i></div>
<div class="b" style="left:408px;top:267px;width:224px;height:40px;background:#ddd"><i style="background:#ddd"></i></div>
<div class="b" style="left:408px;top:307px;width:224px;height:40px;background:#ddd"><i style="background:#ddd"></i></div>
<div class="b" style="left:408px;top:347px;width:224px;height:17px;background:#ddd"><i style="background:var(--g131)"></i></div>
<div class="b" style="left:408px;top:364px;width:224px;height:1px;background:var(--g132)"></div>
<div class="b" style="left:408px;top:365px;width:224px;height:1px;background:var(--g133)"></div>
<div class="b" style="left:408px;top:366px;width:224px;height:1px;background:var(--g134)"></div>
<div class="b" style="left:408px;top:367px;width:224px;height:1px;background:var(--g135)"></div>
<div class="b" style="left:408px;top:368px;width:224px;height:1px;background:var(--g136)"></div>
<div class="b" style="left:408px;top:369px;width:224px;height:1px;background:var(--g137)"></div>
<div class="b" style="left:408px;top:370px;width:224px;height:1px;background:var(--g138)"></div>
<div class="b" style="left:408px;top:371px;width:224px;height:1px;background:var(--g139)"></div>
<div class="b" style="left:408px;top:372px;width:224px;height:1px;background:var(--g140)"></div>
<div class="b" style="left:408px;top:373px;width:224px;height:1px;background:var(--g141)"></div>
<div class="b" style="left:408px;top:374px;width:224px;height:1px;background:var(--g142)"></div>
<div class="b" style="left:408px;top:375px;width:224px;height:1px;background:var(--g143)"></div>
<div class="b" style="left:408px;top:376px;width:224px;height:1px;background:var(--g144)"></div>
<div class="b" style="left:408px;top:377px;width:224px;height:1px;background:var(--g145)"></div>
<div class="b" style="left:408px;top:378px;width:224px;height:1px;background:var(--g146)"></div>
<div class="b" style="left:408px;top:379px;width:224px;height:40px;background:#ddd"><i style="background:#ddd"></i></div>
<div class="b" style="left:408px;top:419px;width:224px;height:40px;background:#ddd"><i style="background:#ddd"></i></div>
<div class="b" style="left:408px;top:459px;width:224px;height:17px;background:#ddd"><i style="background:#ddd"></i></div>
<svg width="718" height="507" viewBox="0 0 718 507">
<polyline points="142.2,14.6 155.0,51.8 167.9,14.6" fill="none" stroke="#000" stroke-width="1.6" stroke-dasharray="5.4 3.0"/>
<polyline points="507.4,14.6 519.5,51.9 532.3,14.6" fill="none" stroke="#000" stroke-width="1.6" stroke-dasharray="5.4 3.0"/>
<circle cx="110.5" cy="37.3" r="2.6" fill="#000" fill-opacity="0.8" stroke="#000" stroke-width="1.2"/>
<circle cx="475.5" cy="37.3" r="2.6" fill="#000" fill-opacity="0.8" stroke="#000" stroke-width="1.2"/>
<circle cx="132.9" cy="371.2" r="2.6" fill="#000" fill-opacity="0.8" stroke="#000" stroke-width="1.2"/>
<circle cx="498.0" cy="371.4" r="2.6" fill="#000" fill-opacity="0.8" stroke="#000" stroke-width="1.2"/>
<ellipse cx="155.0" cy="371.1" rx="11.3" ry="10.6" fill="none" stroke="#000" stroke-width="1.6" stroke-dasharray="5.1 2.58" stroke-dashoffset="3.3"/>
<ellipse cx="520.1" cy="371.2" rx="11.4" ry="10.6" fill="none" stroke="#000" stroke-width="1.6" stroke-dasharray="5.1 2.58" stroke-dashoffset="3.3"/>
<line x1="505.8" y1="31.2" x2="505.8" y2="62.5" stroke="#000" stroke-width="1.7"/>
<path d="M503.5,61.5 L505.8,69.5 L508.1,61.5 L505.8,63.5 Z" fill="#000"/>
<line x1="533.6" y1="31.2" x2="533.6" y2="62.5" stroke="#000" stroke-width="1.7"/>
<path d="M531.3000000000001,61.5 L533.6,69.5 L535.9,61.5 L533.6,63.5 Z" fill="#000"/>
<line x1="519.5" y1="52.5" x2="519.5" y2="90.4" stroke="#000" stroke-width="1.7"/>
<path d="M517.2,89.4 L519.5,97.4 L521.8,89.4 L519.5,91.4 Z" fill="#000"/>
<rect x="47.2" y="191.8" width="112.7" height="28.799999999999983" rx="2.6" ry="2.6" fill="#fff" fill-opacity="0.8" stroke="#ccc" stroke-opacity="0.8" stroke-width="0.9"/>
<line x1="50.5" y1="198.9" x2="68.2" y2="198.9" stroke="#000" stroke-width="1.5" stroke-dasharray="4.7 1.8"/>
<text x="75.50" y="201.80" font-size="9.6" fill="#111"><tspan font-style="italic">c</tspan><tspan font-size="7.0" dy="1.9" font-style="italic">s</tspan><tspan dy="-1.9"> = </tspan><tspan font-style="italic">c</tspan><tspan font-size="7.0" dy="1.9" font-style="italic">A</tspan></text>
<circle cx="59.5" cy="211.7" r="2.6" fill="#000"/>
<text x="75.50" y="214.80" font-size="9.6" textLength="81.0" lengthAdjust="spacingAndGlyphs" fill="#111">Location of source</text>
<rect x="412.4" y="178.9" width="132.89999999999998" height="40.900000000000006" rx="2.6" ry="2.6" fill="#fff" fill-opacity="0.8" stroke="#ccc" stroke-opacity="0.8" stroke-width="0.9"/>
<line x1="415.7" y1="185.9" x2="433.4" y2="185.9" stroke="#000" stroke-width="1.5" stroke-dasharray="4.7 1.8"/>
<text x="440.70" y="188.70" font-size="9.6" fill="#111"><tspan font-style="italic">c</tspan><tspan font-size="7.0" dy="1.9" font-style="italic">s</tspan><tspan dy="-1.9"> = </tspan><tspan font-style="italic">c</tspan><tspan font-size="7.0" dy="1.9" font-style="italic">A</tspan></text>
<circle cx="424.7" cy="199.0" r="2.6" fill="#000"/>
<text x="440.70" y="201.70" font-size="9.6" textLength="81.0" lengthAdjust="spacingAndGlyphs" fill="#111">Location of source</text>
<line x1="419.4" y1="210.9" x2="431.4" y2="210.9" stroke="#000" stroke-width="1.5"/>
<path d="M422.4,207.5 Q420.9,210.1 418.4,210.9 Q420.9,211.70000000000002 422.4,214.3" fill="none" stroke="#000" stroke-width="1.3"/>
<text x="440.70" y="214.70" font-size="9.6" textLength="101.3" lengthAdjust="spacingAndGlyphs" fill="#111">Slowmode propagation</text>
<rect x="42.60" y="15.00" width="224.90" height="209.40" fill="none" stroke="#555" stroke-width="1.15"/>
<line x1="50.25" y1="224.40" x2="50.25" y2="227.20" stroke="#333" stroke-width="0.9"/>
<text x="50.25" y="238.90" font-size="11.3" text-anchor="middle" textLength="19.85" lengthAdjust="spacingAndGlyphs">100</text>
<line x1="110.45" y1="224.40" x2="110.45" y2="227.20" stroke="#333" stroke-width="0.9"/>
<text x="110.45" y="238.90" font-size="11.3" text-anchor="middle" textLength="19.85" lengthAdjust="spacingAndGlyphs">150</text>
<line x1="170.65" y1="224.40" x2="170.65" y2="227.20" stroke="#333" stroke-width="0.9"/>
<text x="170.65" y="238.90" font-size="11.3" text-anchor="middle" textLength="19.85" lengthAdjust="spacingAndGlyphs">200</text>
<line x1="230.85" y1="224.40" x2="230.85" y2="227.20" stroke="#333" stroke-width="0.9"/>
<text x="230.85" y="238.90" font-size="11.3" text-anchor="middle" textLength="19.85" lengthAdjust="spacingAndGlyphs">250</text>
<line x1="39.80" y1="22.50" x2="42.60" y2="22.50" stroke="#333" stroke-width="0.9"/>
<text x="36.60" y="26.40" font-size="11.3" text-anchor="end" textLength="6.62" lengthAdjust="spacingAndGlyphs">0</text>
<line x1="39.80" y1="59.40" x2="42.60" y2="59.40" stroke="#333" stroke-width="0.9"/>
<text x="36.60" y="63.30" font-size="11.3" text-anchor="end" textLength="15.33" lengthAdjust="spacingAndGlyphs">−1</text>
<line x1="39.80" y1="96.30" x2="42.60" y2="96.30" stroke="#333" stroke-width="0.9"/>
<text x="36.60" y="100.20" font-size="11.3" text-anchor="end" textLength="15.33" lengthAdjust="spacingAndGlyphs">−2</text>
<line x1="39.80" y1="133.20" x2="42.60" y2="133.20" stroke="#333" stroke-width="0.9"/>
<text x="36.60" y="137.10" font-size="11.3" text-anchor="end" textLength="15.33" lengthAdjust="spacingAndGlyphs">−3</text>
<line x1="39.80" y1="170.10" x2="42.60" y2="170.10" stroke="#333" stroke-width="0.9"/>
<text x="36.60" y="174.00" font-size="11.3" text-anchor="end" textLength="15.33" lengthAdjust="spacingAndGlyphs">−4</text>
<line x1="39.80" y1="207.00" x2="42.60" y2="207.00" stroke="#333" stroke-width="0.9"/>
<text x="36.60" y="210.90" font-size="11.3" text-anchor="end" textLength="15.33" lengthAdjust="spacingAndGlyphs">−5</text>
<rect x="407.70" y="15.00" width="224.80" height="209.40" fill="none" stroke="#555" stroke-width="1.15"/>
<line x1="415.35" y1="224.40" x2="415.35" y2="227.20" stroke="#333" stroke-width="0.9"/>
<text x="415.35" y="238.90" font-size="11.3" text-anchor="middle" textLength="19.85" lengthAdjust="spacingAndGlyphs">100</text>
<line x1="475.55" y1="224.40" x2="475.55" y2="227.20" stroke="#333" stroke-width="0.9"/>
<text x="475.55" y="238.90" font-size="11.3" text-anchor="middle" textLength="19.85" lengthAdjust="spacingAndGlyphs">150</text>
<line x1="535.75" y1="224.40" x2="535.75" y2="227.20" stroke="#333" stroke-width="0.9"/>
<text x="535.75" y="238.90" font-size="11.3" text-anchor="middle" textLength="19.85" lengthAdjust="spacingAndGlyphs">200</text>
<line x1="595.95" y1="224.40" x2="595.95" y2="227.20" stroke="#333" stroke-width="0.9"/>
<text x="595.95" y="238.90" font-size="11.3" text-anchor="middle" textLength="19.85" lengthAdjust="spacingAndGlyphs">250</text>
<line x1="404.90" y1="22.50" x2="407.70" y2="22.50" stroke="#333" stroke-width="0.9"/>
<text x="401.70" y="26.40" font-size="11.3" text-anchor="end" textLength="6.62" lengthAdjust="spacingAndGlyphs">0</text>
<line x1="404.90" y1="59.40" x2="407.70" y2="59.40" stroke="#333" stroke-width="0.9"/>
<text x="401.70" y="63.30" font-size="11.3" text-anchor="end" textLength="15.33" lengthAdjust="spacingAndGlyphs">−1</text>
<line x1="404.90" y1="96.30" x2="407.70" y2="96.30" stroke="#333" stroke-width="0.9"/>
<text x="401.70" y="100.20" font-size="11.3" text-anchor="end" textLength="15.33" lengthAdjust="spacingAndGlyphs">−2</text>
<line x1="404.90" y1="133.20" x2="407.70" y2="133.20" stroke="#333" stroke-width="0.9"/>
<text x="401.70" y="137.10" font-size="11.3" text-anchor="end" textLength="15.33" lengthAdjust="spacingAndGlyphs">−3</text>
<line x1="404.90" y1="170.10" x2="407.70" y2="170.10" stroke="#333" stroke-width="0.9"/>
<text x="401.70" y="174.00" font-size="11.3" text-anchor="end" textLength="15.33" lengthAdjust="spacingAndGlyphs">−4</text>
<line x1="404.90" y1="207.00" x2="407.70" y2="207.00" stroke="#333" stroke-width="0.9"/>
<text x="401.70" y="210.90" font-size="11.3" text-anchor="end" textLength="15.33" lengthAdjust="spacingAndGlyphs">−5</text>
<rect x="42.60" y="266.60" width="224.90" height="209.60" fill="none" stroke="#555" stroke-width="1.15"/>
<line x1="42.60" y1="476.20" x2="42.60" y2="479.00" stroke="#333" stroke-width="0.9"/>
<text x="42.60" y="490.70" font-size="11.3" text-anchor="middle" textLength="6.62" lengthAdjust="spacingAndGlyphs">0</text>
<line x1="102.60" y1="476.20" x2="102.60" y2="479.00" stroke="#333" stroke-width="0.9"/>
<text x="102.60" y="490.70" font-size="11.3" text-anchor="middle" textLength="19.85" lengthAdjust="spacingAndGlyphs">100</text>
<line x1="162.60" y1="476.20" x2="162.60" y2="479.00" stroke="#333" stroke-width="0.9"/>
<text x="162.60" y="490.70" font-size="11.3" text-anchor="middle" textLength="19.85" lengthAdjust="spacingAndGlyphs">200</text>
<line x1="222.60" y1="476.20" x2="222.60" y2="479.00" stroke="#333" stroke-width="0.9"/>
<text x="222.60" y="490.70" font-size="11.3" text-anchor="middle" textLength="19.85" lengthAdjust="spacingAndGlyphs">300</text>
<line x1="39.80" y1="476.20" x2="42.60" y2="476.20" stroke="#333" stroke-width="0.9"/>
<text x="36.60" y="480.10" font-size="11.3" text-anchor="end" textLength="6.62" lengthAdjust="spacingAndGlyphs">0</text>
<line x1="39.80" y1="420.30" x2="42.60" y2="420.30" stroke="#333" stroke-width="0.9"/>
<text x="36.60" y="424.20" font-size="11.3" text-anchor="end" textLength="19.85" lengthAdjust="spacingAndGlyphs">100</text>
<line x1="39.80" y1="364.40" x2="42.60" y2="364.40" stroke="#333" stroke-width="0.9"/>
<text x="36.60" y="368.30" font-size="11.3" text-anchor="end" textLength="19.85" lengthAdjust="spacingAndGlyphs">200</text>
<line x1="39.80" y1="308.50" x2="42.60" y2="308.50" stroke="#333" stroke-width="0.9"/>
<text x="36.60" y="312.40" font-size="11.3" text-anchor="end" textLength="19.85" lengthAdjust="spacingAndGlyphs">300</text>
<rect x="407.70" y="266.60" width="224.80" height="209.60" fill="none" stroke="#555" stroke-width="1.15"/>
<line x1="407.70" y1="476.20" x2="407.70" y2="479.00" stroke="#333" stroke-width="0.9"/>
<text x="407.70" y="490.70" font-size="11.3" text-anchor="middle" textLength="6.62" lengthAdjust="spacingAndGlyphs">0</text>
<line x1="467.70" y1="476.20" x2="467.70" y2="479.00" stroke="#333" stroke-width="0.9"/>
<text x="467.70" y="490.70" font-size="11.3" text-anchor="middle" textLength="19.85" lengthAdjust="spacingAndGlyphs">100</text>
<line x1="527.70" y1="476.20" x2="527.70" y2="479.00" stroke="#333" stroke-width="0.9"/>
<text x="527.70" y="490.70" font-size="11.3" text-anchor="middle" textLength="19.85" lengthAdjust="spacingAndGlyphs">200</text>
<line x1="587.70" y1="476.20" x2="587.70" y2="479.00" stroke="#333" stroke-width="0.9"/>
<text x="587.70" y="490.70" font-size="11.3" text-anchor="middle" textLength="19.85" lengthAdjust="spacingAndGlyphs">300</text>
<line x1="404.90" y1="476.20" x2="407.70" y2="476.20" stroke="#333" stroke-width="0.9"/>
<text x="401.70" y="480.10" font-size="11.3" text-anchor="end" textLength="6.62" lengthAdjust="spacingAndGlyphs">0</text>
<line x1="404.90" y1="420.30" x2="407.70" y2="420.30" stroke="#333" stroke-width="0.9"/>
<text x="401.70" y="424.20" font-size="11.3" text-anchor="end" textLength="19.85" lengthAdjust="spacingAndGlyphs">100</text>
<line x1="404.90" y1="364.40" x2="407.70" y2="364.40" stroke="#333" stroke-width="0.9"/>
<text x="401.70" y="368.30" font-size="11.3" text-anchor="end" textLength="19.85" lengthAdjust="spacingAndGlyphs">200</text>
<line x1="404.90" y1="308.50" x2="407.70" y2="308.50" stroke="#333" stroke-width="0.9"/>
<text x="401.70" y="312.40" font-size="11.3" text-anchor="end" textLength="19.85" lengthAdjust="spacingAndGlyphs">300</text>
<linearGradient id="cbl" x1="0" y1="0" x2="0" y2="1"><stop offset="0.0000" stop-color="#b40426"/><stop offset="0.0625" stop-color="#cb3e38"/><stop offset="0.1250" stop-color="#de614d"/><stop offset="0.1875" stop-color="#ec7f63"/><stop offset="0.2500" stop-color="#f49a7b"/><stop offset="0.3125" stop-color="#f7b194"/><stop offset="0.3750" stop-color="#f4c5ad"/><stop offset="0.4375" stop-color="#ebd3c6"/><stop offset="0.5000" stop-color="#dddcdc"/><stop offset="0.5625" stop-color="#ccd9ed"/><stop offset="0.6250" stop-color="#b9d0f9"/><stop offset="0.6875" stop-color="#a3c2fe"/><stop offset="0.7500" stop-color="#8db0fe"/><stop offset="0.8125" stop-color="#779af7"/><stop offset="0.8750" stop-color="#6282ea"/><stop offset="0.9375" stop-color="#4e68d8"/><stop offset="1.0000" stop-color="#3b4cc0"/></linearGradient>
<rect x="281.50" y="14.80" width="23.10" height="461.60" fill="url(#cbl)" stroke="#222" stroke-width="0.9"/>
<line x1="304.60" y1="14.80" x2="307.40" y2="14.80" stroke="#333" stroke-width="0.9"/>
<text x="310.80" y="18.55" font-size="11.3" textLength="16.54" lengthAdjust="spacingAndGlyphs">1.0</text>
<line x1="304.60" y1="72.50" x2="307.40" y2="72.50" stroke="#333" stroke-width="0.9"/>
<text x="310.80" y="76.25" font-size="11.3" textLength="16.54" lengthAdjust="spacingAndGlyphs">0.8</text>
<line x1="304.60" y1="130.20" x2="307.40" y2="130.20" stroke="#333" stroke-width="0.9"/>
<text x="310.80" y="133.95" font-size="11.3" textLength="16.54" lengthAdjust="spacingAndGlyphs">0.5</text>
<line x1="304.60" y1="187.90" x2="307.40" y2="187.90" stroke="#333" stroke-width="0.9"/>
<text x="310.80" y="191.65" font-size="11.3" textLength="16.54" lengthAdjust="spacingAndGlyphs">0.2</text>
<line x1="304.60" y1="245.60" x2="307.40" y2="245.60" stroke="#333" stroke-width="0.9"/>
<text x="310.80" y="249.35" font-size="11.3" textLength="16.54" lengthAdjust="spacingAndGlyphs">0.0</text>
<line x1="304.60" y1="303.30" x2="307.40" y2="303.30" stroke="#333" stroke-width="0.9"/>
<text x="310.80" y="307.05" font-size="11.3" textLength="20.29" lengthAdjust="spacingAndGlyphs">-0.2</text>
<line x1="304.60" y1="361.00" x2="307.40" y2="361.00" stroke="#333" stroke-width="0.9"/>
<text x="310.80" y="364.75" font-size="11.3" textLength="20.29" lengthAdjust="spacingAndGlyphs">-0.5</text>
<line x1="304.60" y1="418.70" x2="307.40" y2="418.70" stroke="#333" stroke-width="0.9"/>
<text x="310.80" y="422.45" font-size="11.3" textLength="20.29" lengthAdjust="spacingAndGlyphs">-0.8</text>
<line x1="304.60" y1="476.40" x2="307.40" y2="476.40" stroke="#333" stroke-width="0.9"/>
<text x="310.80" y="480.15" font-size="11.3" textLength="20.29" lengthAdjust="spacingAndGlyphs">-1.0</text>
<linearGradient id="cbr" x1="0" y1="0" x2="0" y2="1"><stop offset="0.0000" stop-color="#b40426"/><stop offset="0.0625" stop-color="#cb3e38"/><stop offset="0.1250" stop-color="#de614d"/><stop offset="0.1875" stop-color="#ec7f63"/><stop offset="0.2500" stop-color="#f49a7b"/><stop offset="0.3125" stop-color="#f7b194"/><stop offset="0.3750" stop-color="#f4c5ad"/><stop offset="0.4375" stop-color="#ebd3c6"/><stop offset="0.5000" stop-color="#dddcdc"/><stop offset="0.5625" stop-color="#ccd9ed"/><stop offset="0.6250" stop-color="#b9d0f9"/><stop offset="0.6875" stop-color="#a3c2fe"/><stop offset="0.7500" stop-color="#8db0fe"/><stop offset="0.8125" stop-color="#779af7"/><stop offset="0.8750" stop-color="#6282ea"/><stop offset="0.9375" stop-color="#4e68d8"/><stop offset="1.0000" stop-color="#3b4cc0"/></linearGradient>
<rect x="646.50" y="14.80" width="23.10" height="461.60" fill="url(#cbr)" stroke="#222" stroke-width="0.9"/>
<line x1="669.60" y1="14.80" x2="672.40" y2="14.80" stroke="#333" stroke-width="0.9"/>
<text x="675.80" y="18.55" font-size="11.3" textLength="23.16" lengthAdjust="spacingAndGlyphs">0.10</text>
<line x1="669.60" y1="72.50" x2="672.40" y2="72.50" stroke="#333" stroke-width="0.9"/>
<text x="675.80" y="76.25" font-size="11.3" textLength="23.16" lengthAdjust="spacingAndGlyphs">0.08</text>
<line x1="669.60" y1="130.20" x2="672.40" y2="130.20" stroke="#333" stroke-width="0.9"/>
<text x="675.80" y="133.95" font-size="11.3" textLength="23.16" lengthAdjust="spacingAndGlyphs">0.05</text>
<line x1="669.60" y1="187.90" x2="672.40" y2="187.90" stroke="#333" stroke-width="0.9"/>
<text x="675.80" y="191.65" font-size="11.3" textLength="23.16" lengthAdjust="spacingAndGlyphs">0.02</text>
<line x1="669.60" y1="245.60" x2="672.40" y2="245.60" stroke="#333" stroke-width="0.9"/>
<text x="675.80" y="249.35" font-size="11.3" textLength="23.16" lengthAdjust="spacingAndGlyphs">0.00</text>
<line x1="669.60" y1="303.30" x2="672.40" y2="303.30" stroke="#333" stroke-width="0.9"/>
<text x="675.80" y="307.05" font-size="11.3" textLength="26.91" lengthAdjust="spacingAndGlyphs">-0.02</text>
<line x1="669.60" y1="361.00" x2="672.40" y2="361.00" stroke="#333" stroke-width="0.9"/>
<text x="675.80" y="364.75" font-size="11.3" textLength="26.91" lengthAdjust="spacingAndGlyphs">-0.05</text>
<line x1="669.60" y1="418.70" x2="672.40" y2="418.70" stroke="#333" stroke-width="0.9"/>
<text x="675.80" y="422.45" font-size="11.3" textLength="26.91" lengthAdjust="spacingAndGlyphs">-0.08</text>
<line x1="669.60" y1="476.40" x2="672.40" y2="476.40" stroke="#333" stroke-width="0.9"/>
<text x="675.80" y="480.15" font-size="11.3" textLength="26.91" lengthAdjust="spacingAndGlyphs">-0.10</text>
<text x="0" y="0" font-size="11.3" text-anchor="middle" textLength="41.80" lengthAdjust="spacingAndGlyphs" fill="#111" transform="translate(343.60,245.70) rotate(-90)"><tspan font-style="italic">v</tspan> [<tspan font-style="italic">a.u.</tspan>]</text>
<text x="0" y="0" font-size="11.3" text-anchor="middle" textLength="41.80" lengthAdjust="spacingAndGlyphs" fill="#111" transform="translate(716.00,245.50) rotate(-90)"><tspan font-style="italic">v</tspan> [<tspan font-style="italic">a.u.</tspan>]</text>
<text x="0" y="0" font-size="11.3" text-anchor="middle" textLength="37.10" lengthAdjust="spacingAndGlyphs" fill="#111" transform="translate(14.00,119.60) rotate(-90)"><tspan font-style="italic">z</tspan> [Mm]</text>
<text x="0" y="0" font-size="11.3" text-anchor="middle" textLength="38.40" lengthAdjust="spacingAndGlyphs" fill="#111" transform="translate(10.00,371.40) rotate(-90)"><tspan font-style="italic">y</tspan> [Mm]</text>
<text x="155.90" y="504.60" font-size="11.3" text-anchor="middle" textLength="39.20" lengthAdjust="spacingAndGlyphs"><tspan font-style="italic">x</tspan> [Mm]</text>
<text x="520.90" y="504.60" font-size="11.3" text-anchor="middle" textLength="39.20" lengthAdjust="spacingAndGlyphs"><tspan font-style="italic">x</tspan> [Mm]</text>
<polyline points="86.40,7.00 87.60,6.20 89.50,11.50 92.40,0.60 101.40,0.60" fill="none" stroke="#111" stroke-width="0.85"/>
<text x="93.10" y="10.60" font-size="11.3" textLength="6.20" lengthAdjust="spacingAndGlyphs" font-style="italic">ρ</text>
<circle cx="104.30" cy="6.40" r="0.75" fill="#111"/>
<text x="108.60" y="10.60" font-size="11.3" textLength="5.40" lengthAdjust="spacingAndGlyphs" font-style="italic">v</text>
<text x="114.10" y="12.90" font-size="7.6" textLength="29.00" lengthAdjust="spacingAndGlyphs" font-style="italic">y, magn</text>
<text x="147.40" y="10.60" font-size="11.3" textLength="76.70" lengthAdjust="spacingAndGlyphs" fill="#111">(<tspan font-style="italic">t</tspan> = 30.00 min)</text>
<polyline points="455.80,7.00 457.00,6.20 458.90,11.50 461.80,0.60 470.80,0.60" fill="none" stroke="#111" stroke-width="0.85"/>
<text x="462.50" y="10.60" font-size="11.3" textLength="6.20" lengthAdjust="spacingAndGlyphs" font-style="italic">ρ</text>
<circle cx="473.70" cy="6.40" r="0.75" fill="#111"/>
<text x="477.50" y="10.60" font-size="11.3" textLength="5.40" lengthAdjust="spacingAndGlyphs" font-style="italic">v</text>
<text x="483.00" y="12.90" font-size="7.6" textLength="22.40" lengthAdjust="spacingAndGlyphs" font-style="italic">y, diff</text>
<text x="507.40" y="10.60" font-size="11.3" textLength="77.90" lengthAdjust="spacingAndGlyphs" fill="#111">(<tspan font-style="italic">t</tspan> = 30.00 min)</text>
<text x="97.30" y="261.40" font-size="11.3" textLength="5.40" lengthAdjust="spacingAndGlyphs" font-style="italic">v</text>
<text x="102.80" y="263.70" font-size="7.6" textLength="28.70" lengthAdjust="spacingAndGlyphs" font-style="italic">z, magn</text>
<text x="135.60" y="261.40" font-size="11.3" textLength="77.90" lengthAdjust="spacingAndGlyphs" fill="#111">(<tspan font-style="italic">t</tspan> = 30.00 min)</text>
<text x="467.40" y="261.40" font-size="11.3" textLength="5.40" lengthAdjust="spacingAndGlyphs" font-style="italic">v</text>
<text x="472.90" y="263.70" font-size="7.6" textLength="20.40" lengthAdjust="spacingAndGlyphs" font-style="italic">z, diff</text>
<text x="496.20" y="261.40" font-size="11.3" textLength="77.70" lengthAdjust="spacingAndGlyphs" fill="#111">(<tspan font-style="italic">t</tspan> = 30.00 min)</text>
</svg>
</div></body></html>
